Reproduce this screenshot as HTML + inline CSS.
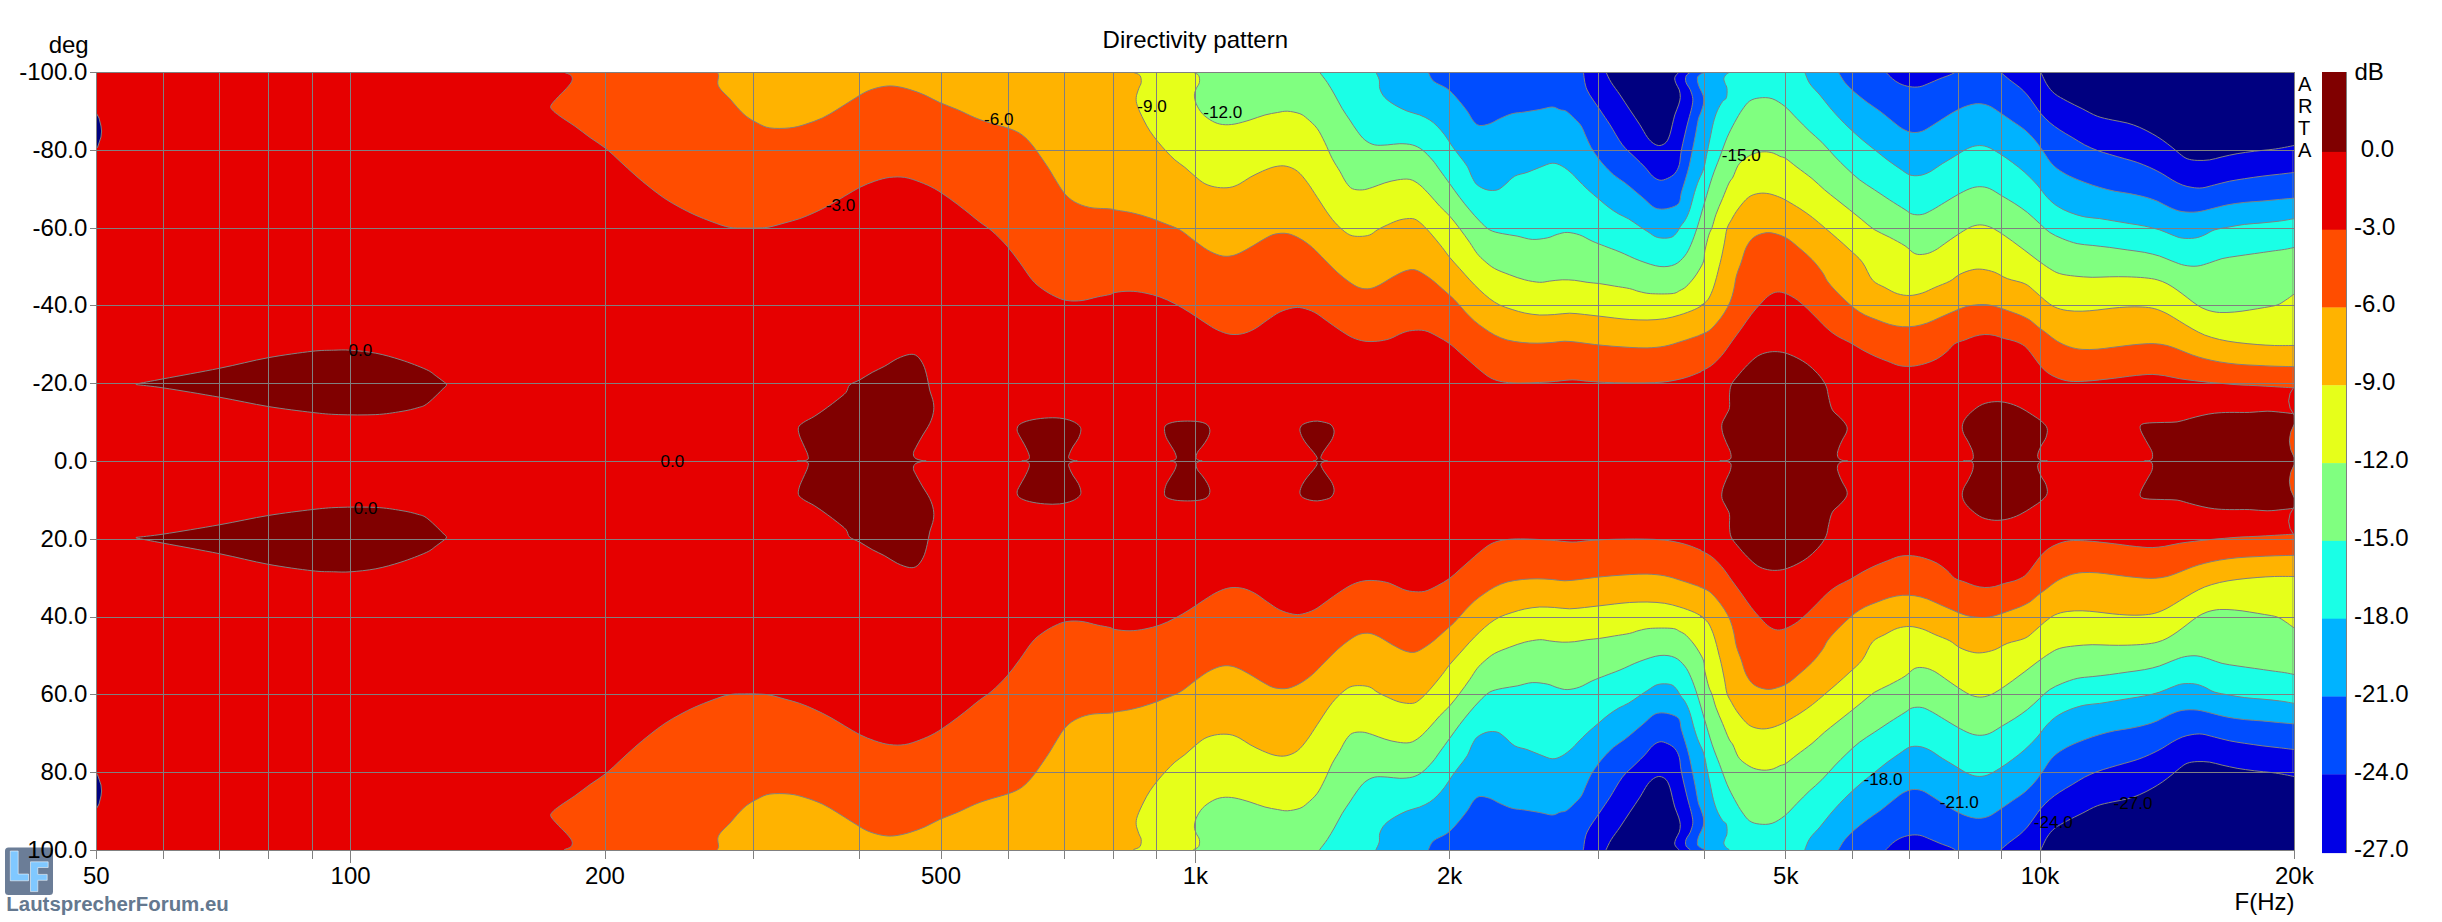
<!DOCTYPE html><html><head><meta charset="utf-8"><title>Directivity pattern</title><style>html,body{margin:0;padding:0;background:#fff;}body{width:2442px;height:922px;overflow:hidden;position:relative;font-family:"Liberation Sans",sans-serif;}</style></head><body>
<svg width="2442" height="922" viewBox="0 0 2442 922" style="position:absolute;left:0;top:0">
<defs><clipPath id="pc"><rect x="96.5" y="72.5" width="2198.0" height="778.0"/></clipPath></defs>
<rect x="0" y="0" width="2442" height="922" fill="#fff"/>
<rect x="96.5" y="72.5" width="2198.0" height="778.0" fill="#e60000"/>
<g clip-path="url(#pc)">
<path d="M564.5 60L564.5 72.5C565.6 73.0 570.0 74.0 571.2 75.5C572.4 77.0 572.7 79.0 571.9 81.2C571.1 83.4 568.0 86.6 566.2 88.7C564.4 90.8 563.7 91.0 561.2 93.7C558.7 96.4 552.7 102.3 551.2 105C549.8 107.7 551.0 108.1 552.5 110C554.0 111.9 556.3 113.5 560 116.2C563.7 118.9 569.9 122.7 574.9 126.2C579.9 129.7 584.7 133.7 589.9 137.4C595.1 141.2 601.2 144.7 606.2 148.7C611.2 152.7 615.1 156.8 619.9 161.2C624.7 165.6 629.9 170.5 634.9 174.9C639.9 179.3 644.9 183.5 649.9 187.4C654.9 191.3 659.9 195.3 664.9 198.6C669.9 201.9 674.9 204.7 679.9 207.4C684.9 210.1 689.5 212.5 694.9 214.9C700.3 217.3 706.5 219.8 712.3 221.9C718.1 224.0 724.4 226.4 729.8 227.4C735.2 228.4 739.8 228.0 744.8 228.1C749.8 228.2 755.6 228.1 759.8 227.9C764.0 227.7 765.6 227.7 769.8 226.9C774.0 226.1 779.8 224.3 784.8 222.9C789.8 221.5 794.8 220.3 799.8 218.6C804.8 216.8 809.8 214.7 814.8 212.4C819.8 210.1 824.8 207.6 829.8 204.9C834.8 202.2 839.7 199.0 844.7 196.1C849.7 193.2 854.7 189.9 859.7 187.4C864.7 184.9 869.7 182.9 874.7 181.2C879.7 179.5 884.7 178.0 889.7 177.4C894.7 176.8 899.7 176.7 904.7 177.4C909.7 178.2 914.7 180.0 919.7 181.9C924.7 183.8 929.7 185.9 934.7 188.7C939.7 191.5 944.7 195.1 949.7 198.6C954.7 202.1 959.7 206.0 964.7 209.9C969.7 213.8 975.0 218.4 979.6 221.9C984.2 225.4 987.5 227.1 992.1 231.1C996.7 235.1 1002.5 240.9 1007.1 246.1C1011.7 251.3 1015.4 256.7 1019.6 262.3C1023.8 267.9 1028.3 275.4 1032.1 279.8C1035.8 284.2 1038.3 286.0 1042.1 288.7C1045.8 291.4 1050.4 294.2 1054.6 296.2C1058.8 298.2 1062.5 299.8 1067.1 300.5C1071.7 301.2 1077.1 301.1 1082.1 300.5C1087.1 299.9 1092.4 298.0 1097.1 297C1101.8 296.0 1107.0 295.2 1110 294.5C1113.0 293.8 1111.7 293.1 1115 292.5C1118.3 291.9 1125.0 291.1 1130 291.2C1135.0 291.3 1140.0 292.0 1145 293C1150.0 294.0 1155.0 295.2 1160 297C1165.0 298.8 1169.9 301.1 1174.9 303.7C1179.9 306.3 1184.9 309.4 1189.9 312.5C1194.9 315.6 1200.3 319.6 1204.9 322.5C1209.5 325.4 1213.2 328.1 1217.4 330C1221.6 331.9 1225.7 333.6 1229.9 334.2C1234.1 334.8 1238.2 334.6 1242.4 333.7C1246.6 332.8 1250.7 331.0 1254.9 328.7C1259.1 326.4 1263.2 322.8 1267.4 320C1271.6 317.2 1275.7 314.0 1279.9 312C1284.1 310.0 1288.7 308.7 1292.4 308C1296.1 307.3 1298.6 307.2 1302.3 308C1306.0 308.8 1310.6 310.3 1314.8 312.5C1319.0 314.7 1323.1 318.3 1327.3 321.2C1331.5 324.1 1335.6 327.3 1339.8 330C1344.0 332.7 1348.1 335.6 1352.3 337.5C1356.5 339.4 1360.6 340.6 1364.8 341.2C1369.0 341.8 1373.1 341.6 1377.3 341.2C1381.5 340.8 1385.6 340.1 1389.8 338.7C1394.0 337.3 1398.5 334.4 1402.3 333C1406.0 331.6 1408.5 330.9 1412.3 330.5C1416.0 330.1 1420.6 329.8 1424.8 330.7C1429.0 331.6 1433.0 334.0 1437.2 336.2C1441.4 338.4 1446.0 341.0 1449.7 343.7C1453.5 346.4 1456.4 349.5 1459.7 352.4C1463.0 355.3 1466.4 358.3 1469.7 361.2C1473.0 364.1 1476.4 367.2 1479.7 369.9C1483.0 372.6 1486.4 375.5 1489.7 377.4C1493.0 379.3 1496.0 380.3 1499.7 381.2C1503.5 382.1 1507.2 382.6 1512.2 382.9C1517.2 383.2 1523.5 383.1 1529.7 382.9C1536.0 382.7 1542.6 382.4 1549.7 381.9C1556.8 381.4 1565.9 380.0 1572.1 379.9C1578.3 379.8 1581.7 380.8 1587.1 381.2C1592.5 381.6 1598.3 382.1 1604.6 382.4C1610.8 382.7 1617.9 382.8 1624.6 382.9C1631.3 383.0 1637.9 383.1 1644.6 382.9C1651.3 382.7 1657.9 382.7 1664.6 381.9C1671.3 381.1 1678.8 379.5 1684.6 377.9C1690.4 376.3 1697.0 373.4 1699.6 372.4C1702.2 371.4 1698.0 373.1 1700 371.9C1702.0 370.7 1707.9 368.1 1711.5 365.4C1715.1 362.6 1718.3 359.3 1721.7 355.4C1725.1 351.4 1728.4 346.3 1731.7 341.7C1735.0 337.1 1738.4 332.6 1741.7 328C1745.0 323.4 1748.2 318.4 1751.5 314.2C1754.8 310.0 1758.2 306.2 1761.2 303C1764.2 299.8 1766.7 297.0 1769.4 295.2C1772.1 293.4 1774.6 292.2 1777.4 292C1780.2 291.8 1782.9 292.4 1786.2 293.7C1789.5 295.0 1793.9 297.5 1797.4 300C1800.9 302.5 1804.1 305.6 1807.4 308.7C1810.7 311.8 1814.1 315.4 1817.4 318.7C1820.7 322.0 1824.1 325.8 1827.4 328.7C1830.7 331.6 1833.7 333.9 1837.4 336.2C1841.2 338.5 1845.7 340.2 1849.9 342.5C1854.1 344.8 1858.2 347.6 1862.4 349.9C1866.6 352.2 1870.7 354.3 1874.9 356.2C1879.1 358.1 1883.2 359.6 1887.4 361.2C1891.6 362.8 1895.8 364.9 1899.9 365.7C1904.1 366.5 1908.2 366.5 1912.3 366.2C1916.4 365.9 1920.6 364.9 1924.8 363.7C1929.0 362.4 1933.5 360.8 1937.3 358.7C1941.0 356.6 1944.4 353.7 1947.3 351.2C1950.2 348.7 1951.9 345.6 1954.8 343.7C1957.7 341.8 1961.5 341.2 1964.8 340C1968.1 338.8 1971.5 337.1 1974.8 336.2C1978.1 335.3 1981.5 334.6 1984.8 334.5C1988.1 334.4 1991.5 334.8 1994.8 335.5C1998.1 336.2 2001.5 337.8 2004.8 338.7C2008.1 339.6 2011.5 339.9 2014.8 341.2C2018.1 342.4 2021.9 343.9 2024.8 346.2C2027.7 348.5 2029.8 351.8 2032.3 354.9C2034.8 358.0 2037.2 362.0 2039.7 364.9C2042.2 367.8 2044.3 370.2 2047.2 372.4C2050.1 374.6 2053.4 376.4 2057.2 377.9C2060.9 379.4 2065.1 380.6 2069.7 381.2C2074.3 381.8 2079.7 381.4 2084.7 381.2C2089.7 381.0 2094.7 380.4 2099.7 379.9C2104.7 379.4 2109.7 378.8 2114.7 378.2C2119.7 377.6 2125.1 376.8 2129.7 376.2C2134.3 375.6 2138.4 375.2 2142.2 374.9C2145.9 374.6 2148.4 374.3 2152.2 374.4C2155.9 374.5 2160.1 375.0 2164.7 375.7C2169.3 376.4 2174.6 377.9 2179.6 378.7C2184.6 379.5 2189.6 380.1 2194.6 380.7C2199.6 381.3 2204.6 381.9 2209.6 382.4C2214.6 382.9 2219.6 383.3 2224.6 383.7C2229.6 384.1 2234.2 384.6 2239.6 384.9C2245.0 385.2 2251.3 385.4 2257.1 385.7C2262.9 386.0 2268.3 386.3 2274.6 386.7C2280.8 387.1 2291.3 387.7 2294.6 387.9L2300 387.9L2300 60Z" fill="#ff4d00"/>
<path d="M564.5 862L564.5 849.5C565.6 849.0 570.0 848.0 571.2 846.5C572.4 845.0 572.7 843.0 571.9 840.8C571.1 838.6 568.0 835.4 566.2 833.3C564.4 831.2 563.7 831.0 561.2 828.3C558.7 825.6 552.7 819.7 551.2 817C549.8 814.3 551.0 813.9 552.5 812C554.0 810.1 556.3 808.5 560 805.8C563.7 803.1 569.9 799.3 574.9 795.8C579.9 792.3 584.7 788.4 589.9 784.6C595.1 780.9 601.2 777.3 606.2 773.3C611.2 769.3 615.1 765.2 619.9 760.8C624.7 756.4 629.9 751.5 634.9 747.1C639.9 742.7 644.9 738.6 649.9 734.6C654.9 730.6 659.9 726.7 664.9 723.4C669.9 720.1 674.9 717.3 679.9 714.6C684.9 711.9 689.5 709.5 694.9 707.1C700.3 704.7 706.5 702.2 712.3 700.1C718.1 698.0 724.4 695.6 729.8 694.6C735.2 693.6 739.8 694.0 744.8 693.9C749.8 693.8 755.6 693.9 759.8 694.1C764.0 694.3 765.6 694.3 769.8 695.1C774.0 695.9 779.8 697.7 784.8 699.1C789.8 700.5 794.8 701.6 799.8 703.4C804.8 705.1 809.8 707.3 814.8 709.6C819.8 711.9 824.8 714.4 829.8 717.1C834.8 719.8 839.7 723.0 844.7 725.9C849.7 728.8 854.7 732.1 859.7 734.6C864.7 737.1 869.7 739.1 874.7 740.8C879.7 742.5 884.7 744.0 889.7 744.6C894.7 745.2 899.7 745.4 904.7 744.6C909.7 743.9 914.7 742.0 919.7 740.1C924.7 738.2 929.7 736.1 934.7 733.3C939.7 730.5 944.7 726.9 949.7 723.4C954.7 719.9 959.7 716.0 964.7 712.1C969.7 708.2 975.0 703.6 979.6 700.1C984.2 696.6 987.5 694.9 992.1 690.9C996.7 686.9 1002.5 681.1 1007.1 675.9C1011.7 670.7 1015.4 665.3 1019.6 659.7C1023.8 654.1 1028.3 646.6 1032.1 642.2C1035.8 637.8 1038.3 636.0 1042.1 633.3C1045.8 630.6 1050.4 627.8 1054.6 625.8C1058.8 623.8 1062.5 622.2 1067.1 621.5C1071.7 620.8 1077.1 620.9 1082.1 621.5C1087.1 622.1 1092.4 624.0 1097.1 625C1101.8 626.0 1107.0 626.8 1110 627.5C1113.0 628.2 1111.7 629.0 1115 629.5C1118.3 630.0 1125.0 630.9 1130 630.8C1135.0 630.7 1140.0 630.0 1145 629C1150.0 628.0 1155.0 626.8 1160 625C1165.0 623.2 1169.9 620.9 1174.9 618.3C1179.9 615.7 1184.9 612.6 1189.9 609.5C1194.9 606.4 1200.3 602.4 1204.9 599.5C1209.5 596.6 1213.2 594.0 1217.4 592C1221.6 590.0 1225.7 588.4 1229.9 587.8C1234.1 587.2 1238.2 587.4 1242.4 588.3C1246.6 589.2 1250.7 591.0 1254.9 593.3C1259.1 595.6 1263.2 599.2 1267.4 602C1271.6 604.8 1275.7 608.0 1279.9 610C1284.1 612.0 1288.7 613.3 1292.4 614C1296.1 614.7 1298.6 614.8 1302.3 614C1306.0 613.2 1310.6 611.7 1314.8 609.5C1319.0 607.3 1323.1 603.7 1327.3 600.8C1331.5 597.9 1335.6 594.7 1339.8 592C1344.0 589.3 1348.1 586.4 1352.3 584.5C1356.5 582.6 1360.6 581.4 1364.8 580.8C1369.0 580.2 1373.1 580.4 1377.3 580.8C1381.5 581.2 1385.6 581.9 1389.8 583.3C1394.0 584.7 1398.5 587.6 1402.3 589C1406.0 590.4 1408.5 591.1 1412.3 591.5C1416.0 591.9 1420.6 592.2 1424.8 591.3C1429.0 590.3 1433.0 588.0 1437.2 585.8C1441.4 583.6 1446.0 581.0 1449.7 578.3C1453.5 575.6 1456.4 572.5 1459.7 569.6C1463.0 566.7 1466.4 563.7 1469.7 560.8C1473.0 557.9 1476.4 554.8 1479.7 552.1C1483.0 549.4 1486.4 546.5 1489.7 544.6C1493.0 542.7 1496.0 541.7 1499.7 540.8C1503.5 539.9 1507.2 539.4 1512.2 539.1C1517.2 538.8 1523.5 538.9 1529.7 539.1C1536.0 539.3 1542.6 539.6 1549.7 540.1C1556.8 540.6 1565.9 542.0 1572.1 542.1C1578.3 542.2 1581.7 541.2 1587.1 540.8C1592.5 540.4 1598.3 539.9 1604.6 539.6C1610.8 539.3 1617.9 539.2 1624.6 539.1C1631.3 539.0 1637.9 538.9 1644.6 539.1C1651.3 539.3 1657.9 539.3 1664.6 540.1C1671.3 540.9 1678.8 542.5 1684.6 544.1C1690.4 545.7 1697.0 548.6 1699.6 549.6C1702.2 550.6 1698.0 548.9 1700 550.1C1702.0 551.3 1707.9 553.9 1711.5 556.6C1715.1 559.4 1718.3 562.7 1721.7 566.6C1725.1 570.5 1728.4 575.7 1731.7 580.3C1735.0 584.9 1738.4 589.4 1741.7 594C1745.0 598.6 1748.2 603.6 1751.5 607.8C1754.8 612.0 1758.2 615.8 1761.2 619C1764.2 622.2 1766.7 625.0 1769.4 626.8C1772.1 628.6 1774.6 629.8 1777.4 630C1780.2 630.2 1782.9 629.6 1786.2 628.3C1789.5 627.0 1793.9 624.5 1797.4 622C1800.9 619.5 1804.1 616.4 1807.4 613.3C1810.7 610.2 1814.1 606.6 1817.4 603.3C1820.7 600.0 1824.1 596.2 1827.4 593.3C1830.7 590.4 1833.7 588.1 1837.4 585.8C1841.2 583.5 1845.7 581.8 1849.9 579.5C1854.1 577.2 1858.2 574.4 1862.4 572.1C1866.6 569.8 1870.7 567.7 1874.9 565.8C1879.1 563.9 1883.2 562.4 1887.4 560.8C1891.6 559.2 1895.8 557.1 1899.9 556.3C1904.1 555.5 1908.2 555.5 1912.3 555.8C1916.4 556.1 1920.6 557.0 1924.8 558.3C1929.0 559.5 1933.5 561.2 1937.3 563.3C1941.0 565.4 1944.4 568.3 1947.3 570.8C1950.2 573.3 1951.9 576.4 1954.8 578.3C1957.7 580.2 1961.5 580.8 1964.8 582C1968.1 583.2 1971.5 584.9 1974.8 585.8C1978.1 586.7 1981.5 587.4 1984.8 587.5C1988.1 587.6 1991.5 587.2 1994.8 586.5C1998.1 585.8 2001.5 584.2 2004.8 583.3C2008.1 582.3 2011.5 582.0 2014.8 580.8C2018.1 579.5 2021.9 578.1 2024.8 575.8C2027.7 573.5 2029.8 570.2 2032.3 567.1C2034.8 564.0 2037.2 560.0 2039.7 557.1C2042.2 554.2 2044.3 551.8 2047.2 549.6C2050.1 547.4 2053.4 545.6 2057.2 544.1C2060.9 542.6 2065.1 541.3 2069.7 540.8C2074.3 540.2 2079.7 540.6 2084.7 540.8C2089.7 541.0 2094.7 541.6 2099.7 542.1C2104.7 542.6 2109.7 543.2 2114.7 543.8C2119.7 544.4 2125.1 545.2 2129.7 545.8C2134.3 546.3 2138.4 546.8 2142.2 547.1C2145.9 547.4 2148.4 547.7 2152.2 547.6C2155.9 547.5 2160.1 547.0 2164.7 546.3C2169.3 545.6 2174.6 544.1 2179.6 543.3C2184.6 542.5 2189.6 541.9 2194.6 541.3C2199.6 540.7 2204.6 540.1 2209.6 539.6C2214.6 539.1 2219.6 538.7 2224.6 538.3C2229.6 537.9 2234.2 537.4 2239.6 537.1C2245.0 536.8 2251.3 536.6 2257.1 536.3C2262.9 536.0 2268.3 535.7 2274.6 535.3C2280.8 534.9 2291.3 534.3 2294.6 534.1L2300 534.1L2300 862Z" fill="#ff4d00"/>
<path d="M717.3 60L717.3 72.5C717.5 73.0 718.5 73.6 718.6 75.5C718.7 77.4 717.4 81.3 717.8 83.7C718.2 86.1 719.1 87.5 721.1 90C723.1 92.5 727.1 95.8 729.8 98.7C732.5 101.6 734.6 104.6 737.3 107.5C740.0 110.4 742.8 113.6 746.1 116.2C749.4 118.8 753.3 121.0 757.3 123C761.2 125.0 764.4 127.1 769.8 127.9C775.2 128.7 784.0 128.5 789.8 127.9C795.6 127.3 799.4 126.2 804.8 124.5C810.2 122.8 816.9 120.5 822.3 118C827.7 115.5 832.2 112.5 837.2 109.5C842.2 106.5 847.2 103.0 852.2 100C857.2 97.0 862.2 93.4 867.2 91.2C872.2 89.0 877.6 87.5 882.2 86.7C886.8 85.9 890.1 85.7 894.7 86.2C899.3 86.7 904.7 88.0 909.7 89.5C914.7 91.0 919.7 92.8 924.7 95C929.7 97.2 934.3 100.1 939.7 102.5C945.1 104.9 951.4 107.0 957.2 109.5C963.0 112.0 969.6 115.4 974.6 117.5C979.6 119.6 981.3 120.1 987.1 122C992.9 123.9 1003.8 126.5 1009.6 128.7C1015.4 130.8 1018.4 132.2 1022.1 134.9C1025.8 137.6 1028.8 140.9 1032.1 144.9C1035.4 148.9 1039.2 154.5 1042.1 158.7C1045.0 162.9 1047.1 165.9 1049.6 169.9C1052.1 173.9 1054.6 178.5 1057.1 182.4C1059.6 186.3 1061.7 190.3 1064.6 193.6C1067.5 196.8 1070.4 199.6 1074.6 201.9C1078.8 204.2 1083.7 206.2 1089.6 207.4C1095.5 208.6 1105.8 208.5 1110 208.9C1114.2 209.3 1111.2 209.2 1115 209.9C1118.8 210.6 1126.7 211.6 1132.5 212.9C1138.3 214.2 1144.6 216.1 1150 217.9C1155.4 219.7 1160.0 221.6 1165 223.6C1170.0 225.6 1174.9 227.0 1179.9 229.9C1184.9 232.8 1190.3 237.8 1194.9 241.1C1199.5 244.4 1203.2 247.5 1207.4 249.9C1211.6 252.3 1216.2 254.4 1219.9 255.4C1223.7 256.4 1226.6 256.5 1229.9 256.1C1233.2 255.7 1236.2 254.6 1239.9 252.9C1243.7 251.2 1248.2 248.5 1252.4 246.1C1256.6 243.7 1261.2 240.6 1264.9 238.6C1268.7 236.6 1271.2 234.9 1274.9 234.1C1278.7 233.3 1283.2 232.8 1287.4 233.6C1291.6 234.3 1295.8 236.3 1299.9 238.6C1304.1 240.9 1308.2 243.9 1312.3 247.4C1316.4 250.9 1320.6 255.7 1324.8 259.9C1329.0 264.0 1333.1 268.6 1337.3 272.3C1341.5 276.0 1346.0 279.7 1349.8 282.3C1353.5 284.9 1356.5 286.8 1359.8 287.8C1363.1 288.9 1366.5 289.1 1369.8 288.6C1373.1 288.1 1376.0 286.7 1379.8 284.8C1383.5 282.9 1388.1 279.6 1392.3 277.3C1396.5 275.0 1401.0 272.4 1404.8 271.1C1408.5 269.9 1411.5 269.2 1414.8 269.8C1418.1 270.4 1421.7 272.9 1424.8 274.8C1427.9 276.7 1430.6 278.8 1433.5 281.1C1436.4 283.4 1438.7 285.6 1442.2 288.7C1445.7 291.8 1451.0 296.2 1454.7 300C1458.5 303.8 1461.4 307.7 1464.7 311.2C1468.0 314.7 1471.4 318.3 1474.7 321.2C1478.0 324.1 1481.4 326.4 1484.7 328.7C1488.0 331.0 1491.0 333.1 1494.7 335C1498.5 336.9 1502.6 338.8 1507.2 340C1511.8 341.2 1517.2 342.0 1522.2 342.5C1527.2 343.0 1532.2 343.2 1537.2 343.2C1542.2 343.2 1547.6 342.8 1552.2 342.5C1556.8 342.2 1560.1 341.2 1564.7 341.2C1569.3 341.2 1574.6 341.9 1579.6 342.5C1584.6 343.1 1589.2 343.9 1594.6 344.5C1600.0 345.1 1606.3 345.7 1612.1 346.2C1617.9 346.7 1623.8 347.1 1629.6 347.4C1635.4 347.7 1641.3 348.1 1647.1 347.9C1652.9 347.7 1658.8 347.3 1664.6 346.2C1670.4 345.1 1676.7 342.9 1682.1 341.2C1687.5 339.5 1694.1 337.2 1697.1 336.2C1700.1 335.2 1698.0 335.9 1700 335C1702.0 334.1 1706.2 332.7 1709 330.7C1711.8 328.7 1714.2 325.9 1716.7 323C1719.2 320.1 1722.0 316.6 1724.2 313C1726.5 309.4 1728.6 305.5 1730.2 301.7C1731.8 297.9 1732.8 293.6 1733.7 290C1734.6 286.4 1734.9 282.9 1735.5 280C1736.1 277.1 1736.5 275.2 1737.5 272.3C1738.5 269.4 1739.8 266.4 1741.2 262.3C1742.7 258.2 1744.1 251.6 1746.2 247.4C1748.3 243.2 1750.6 239.8 1753.7 237.4C1756.8 235.0 1761.5 233.5 1765 232.9C1768.5 232.3 1771.2 232.7 1774.9 233.6C1778.6 234.5 1783.2 236.1 1787.4 238.6C1791.6 241.1 1795.7 245.1 1799.9 248.6C1804.1 252.1 1808.7 255.9 1812.4 259.9C1816.2 263.8 1819.9 268.8 1822.4 272.3C1824.9 275.9 1825.3 278.2 1827.4 281.2C1829.5 284.1 1832.0 286.9 1834.9 290C1837.8 293.1 1841.6 296.9 1844.9 300C1848.2 303.1 1851.6 306.2 1854.9 308.7C1858.2 311.2 1861.2 313.1 1864.9 315C1868.7 316.9 1873.2 318.4 1877.4 320C1881.6 321.6 1885.8 323.4 1889.9 324.5C1894.1 325.6 1898.2 326.4 1902.3 326.7C1906.4 327.0 1910.6 326.8 1914.8 326.2C1919.0 325.6 1923.1 324.4 1927.3 323C1931.5 321.6 1935.6 319.3 1939.8 317.5C1944.0 315.7 1948.1 313.8 1952.3 312C1956.5 310.2 1961.0 308.2 1964.8 307C1968.5 305.8 1971.5 305.4 1974.8 305C1978.1 304.6 1981.5 304.3 1984.8 304.5C1988.1 304.7 1991.0 305.2 1994.8 306.2C1998.5 307.2 2003.1 309.0 2007.3 310.5C2011.5 312.0 2016.0 313.4 2019.8 315C2023.5 316.6 2026.9 318.1 2029.8 320C2032.7 321.9 2034.3 323.9 2037.2 326.2C2040.1 328.5 2043.9 331.2 2047.2 333.7C2050.5 336.2 2053.4 339.0 2057.2 341.2C2060.9 343.4 2065.5 345.5 2069.7 346.9C2073.9 348.3 2077.6 349.0 2082.2 349.4C2086.8 349.8 2092.2 349.5 2097.2 349.2C2102.2 348.9 2107.2 348.0 2112.2 347.4C2117.2 346.8 2122.2 346.1 2127.2 345.5C2132.2 344.9 2137.6 344.3 2142.2 344C2146.8 343.7 2150.5 343.4 2154.7 343.7C2158.8 343.9 2162.9 344.5 2167.1 345.5C2171.2 346.5 2175.4 348.3 2179.6 349.9C2183.8 351.5 2187.9 353.4 2192.1 354.9C2196.3 356.4 2200.0 357.5 2204.6 358.7C2209.2 359.9 2214.2 361.0 2219.6 361.9C2225.0 362.8 2230.8 363.6 2237.1 364.2C2243.3 364.8 2250.8 365.1 2257.1 365.4C2263.3 365.7 2268.3 366.0 2274.6 366.2C2280.8 366.4 2291.3 366.6 2294.6 366.7L2300 366.7L2300 60Z" fill="#ffb300"/>
<path d="M717.3 862L717.3 849.5C717.5 849.0 718.5 848.4 718.6 846.5C718.7 844.6 717.4 840.7 717.8 838.3C718.2 835.9 719.1 834.5 721.1 832C723.1 829.5 727.1 826.2 729.8 823.3C732.5 820.4 734.6 817.4 737.3 814.5C740.0 811.6 742.8 808.4 746.1 805.8C749.4 803.2 753.3 801.0 757.3 799C761.2 797.0 764.4 794.9 769.8 794.1C775.2 793.3 784.0 793.5 789.8 794.1C795.6 794.7 799.4 795.9 804.8 797.5C810.2 799.1 816.9 801.5 822.3 804C827.7 806.5 832.2 809.5 837.2 812.5C842.2 815.5 847.2 819.0 852.2 822C857.2 825.0 862.2 828.6 867.2 830.8C872.2 833.0 877.6 834.5 882.2 835.3C886.8 836.1 890.1 836.3 894.7 835.8C899.3 835.3 904.7 834.0 909.7 832.5C914.7 831.0 919.7 829.2 924.7 827C929.7 824.8 934.3 821.9 939.7 819.5C945.1 817.1 951.4 815.0 957.2 812.5C963.0 810.0 969.6 806.6 974.6 804.5C979.6 802.4 981.3 801.9 987.1 800C992.9 798.1 1003.8 795.4 1009.6 793.3C1015.4 791.1 1018.4 789.8 1022.1 787.1C1025.8 784.4 1028.8 781.1 1032.1 777.1C1035.4 773.1 1039.2 767.5 1042.1 763.3C1045.0 759.1 1047.1 756.0 1049.6 752.1C1052.1 748.2 1054.6 743.6 1057.1 739.6C1059.6 735.6 1061.7 731.6 1064.6 728.4C1067.5 725.1 1070.4 722.4 1074.6 720.1C1078.8 717.8 1083.7 715.8 1089.6 714.6C1095.5 713.4 1105.8 713.5 1110 713.1C1114.2 712.7 1111.2 712.8 1115 712.1C1118.8 711.4 1126.7 710.4 1132.5 709.1C1138.3 707.8 1144.6 705.9 1150 704.1C1155.4 702.3 1160.0 700.4 1165 698.4C1170.0 696.4 1174.9 695.0 1179.9 692.1C1184.9 689.2 1190.3 684.2 1194.9 680.9C1199.5 677.6 1203.2 674.5 1207.4 672.1C1211.6 669.7 1216.2 667.6 1219.9 666.6C1223.7 665.6 1226.6 665.5 1229.9 665.9C1233.2 666.3 1236.2 667.4 1239.9 669.1C1243.7 670.8 1248.2 673.5 1252.4 675.9C1256.6 678.3 1261.2 681.4 1264.9 683.4C1268.7 685.4 1271.2 687.1 1274.9 687.9C1278.7 688.7 1283.2 689.1 1287.4 688.4C1291.6 687.6 1295.8 685.7 1299.9 683.4C1304.1 681.1 1308.2 678.1 1312.3 674.6C1316.4 671.1 1320.6 666.2 1324.8 662.1C1329.0 658.0 1333.1 653.4 1337.3 649.7C1341.5 646.0 1346.0 642.3 1349.8 639.7C1353.5 637.1 1356.5 635.2 1359.8 634.2C1363.1 633.2 1366.5 632.9 1369.8 633.4C1373.1 633.9 1376.0 635.3 1379.8 637.2C1383.5 639.1 1388.1 642.4 1392.3 644.7C1396.5 647.0 1401.0 649.6 1404.8 650.9C1408.5 652.1 1411.5 652.8 1414.8 652.2C1418.1 651.6 1421.7 649.1 1424.8 647.2C1427.9 645.3 1430.6 643.2 1433.5 640.9C1436.4 638.6 1438.7 636.4 1442.2 633.3C1445.7 630.1 1451.0 625.8 1454.7 622C1458.5 618.2 1461.4 614.3 1464.7 610.8C1468.0 607.3 1471.4 603.7 1474.7 600.8C1478.0 597.9 1481.4 595.6 1484.7 593.3C1488.0 591.0 1491.0 588.9 1494.7 587C1498.5 585.1 1502.6 583.2 1507.2 582C1511.8 580.8 1517.2 580.0 1522.2 579.5C1527.2 579.0 1532.2 578.8 1537.2 578.8C1542.2 578.8 1547.6 579.2 1552.2 579.5C1556.8 579.8 1560.1 580.8 1564.7 580.8C1569.3 580.8 1574.6 580.0 1579.6 579.5C1584.6 579.0 1589.2 578.1 1594.6 577.5C1600.0 576.9 1606.3 576.3 1612.1 575.8C1617.9 575.3 1623.8 574.9 1629.6 574.6C1635.4 574.3 1641.3 573.9 1647.1 574.1C1652.9 574.3 1658.8 574.7 1664.6 575.8C1670.4 576.9 1676.7 579.1 1682.1 580.8C1687.5 582.5 1694.1 584.8 1697.1 585.8C1700.1 586.8 1698.0 586.1 1700 587C1702.0 587.9 1706.2 589.3 1709 591.3C1711.8 593.3 1714.2 596.0 1716.7 599C1719.2 602.0 1722.0 605.5 1724.2 609C1726.5 612.5 1728.6 616.5 1730.2 620.3C1731.8 624.1 1732.8 628.4 1733.7 632C1734.6 635.6 1734.9 639.0 1735.5 642C1736.1 645.0 1736.5 646.8 1737.5 649.7C1738.5 652.7 1739.8 655.6 1741.2 659.7C1742.7 663.9 1744.1 670.5 1746.2 674.6C1748.3 678.8 1750.6 682.2 1753.7 684.6C1756.8 687.0 1761.5 688.5 1765 689.1C1768.5 689.7 1771.2 689.4 1774.9 688.4C1778.6 687.4 1783.2 685.9 1787.4 683.4C1791.6 680.9 1795.7 676.9 1799.9 673.4C1804.1 669.9 1808.7 666.0 1812.4 662.1C1816.2 658.2 1819.9 653.2 1822.4 649.7C1824.9 646.2 1825.3 643.8 1827.4 640.8C1829.5 637.8 1832.0 635.1 1834.9 632C1837.8 628.9 1841.6 625.1 1844.9 622C1848.2 618.9 1851.6 615.8 1854.9 613.3C1858.2 610.8 1861.2 608.9 1864.9 607C1868.7 605.1 1873.2 603.6 1877.4 602C1881.6 600.4 1885.8 598.6 1889.9 597.5C1894.1 596.4 1898.2 595.6 1902.3 595.3C1906.4 595.0 1910.6 595.2 1914.8 595.8C1919.0 596.4 1923.1 597.5 1927.3 599C1931.5 600.5 1935.6 602.7 1939.8 604.5C1944.0 606.3 1948.1 608.2 1952.3 610C1956.5 611.8 1961.0 613.8 1964.8 615C1968.5 616.2 1971.5 616.6 1974.8 617C1978.1 617.4 1981.5 617.7 1984.8 617.5C1988.1 617.3 1991.0 616.8 1994.8 615.8C1998.5 614.8 2003.1 613.0 2007.3 611.5C2011.5 610.0 2016.0 608.6 2019.8 607C2023.5 605.4 2026.9 603.9 2029.8 602C2032.7 600.1 2034.3 598.1 2037.2 595.8C2040.1 593.5 2043.9 590.8 2047.2 588.3C2050.5 585.8 2053.4 583.0 2057.2 580.8C2060.9 578.6 2065.5 576.5 2069.7 575.1C2073.9 573.7 2077.6 573.0 2082.2 572.6C2086.8 572.2 2092.2 572.5 2097.2 572.8C2102.2 573.1 2107.2 574.0 2112.2 574.6C2117.2 575.2 2122.2 575.9 2127.2 576.5C2132.2 577.1 2137.6 577.7 2142.2 578C2146.8 578.3 2150.5 578.5 2154.7 578.3C2158.8 578.0 2162.9 577.5 2167.1 576.5C2171.2 575.5 2175.4 573.7 2179.6 572.1C2183.8 570.5 2187.9 568.6 2192.1 567.1C2196.3 565.6 2200.0 564.5 2204.6 563.3C2209.2 562.1 2214.2 561.0 2219.6 560.1C2225.0 559.2 2230.8 558.4 2237.1 557.8C2243.3 557.2 2250.8 556.9 2257.1 556.6C2263.3 556.3 2268.3 556.0 2274.6 555.8C2280.8 555.6 2291.3 555.4 2294.6 555.3L2300 555.3L2300 862Z" fill="#ffb300"/>
<path d="M1133.7 60L1133.7 72.5C1134.8 73.0 1138.8 73.8 1140 75.5C1141.2 77.2 1141.4 80.3 1141.2 82.5C1141.0 84.7 1139.5 86.2 1138.7 88.7C1137.9 91.2 1136.4 94.6 1136.2 97.5C1136.0 100.4 1136.2 102.5 1137.5 106.2C1138.8 110.0 1141.6 115.8 1143.7 120C1145.8 124.2 1147.7 127.7 1150 131.2C1152.3 134.7 1154.8 137.9 1157.5 141.2C1160.2 144.5 1163.3 148.1 1166.2 151.2C1169.1 154.3 1171.8 157.2 1174.9 159.9C1178.0 162.6 1181.6 164.7 1184.9 167.4C1188.2 170.1 1191.6 173.5 1194.9 176.2C1198.2 178.9 1201.2 181.8 1204.9 183.7C1208.7 185.6 1213.2 186.8 1217.4 187.4C1221.6 188.0 1226.2 188.0 1229.9 187.4C1233.7 186.8 1236.6 185.4 1239.9 183.7C1243.2 182.0 1246.2 179.5 1249.9 177.4C1253.7 175.3 1258.2 173.0 1262.4 171.2C1266.6 169.4 1271.0 167.5 1274.9 166.7C1278.9 165.9 1282.3 165.4 1286.1 166.2C1289.8 166.9 1293.9 168.5 1297.4 171.2C1300.9 173.9 1304.0 178.0 1307.3 182.4C1310.6 186.8 1313.5 191.8 1317.3 197.4C1321.0 203.0 1326.0 211.1 1329.8 216.1C1333.5 221.1 1336.5 224.3 1339.8 227.4C1343.1 230.5 1346.5 233.4 1349.8 234.9C1353.1 236.4 1356.5 236.4 1359.8 236.4C1363.1 236.4 1366.9 236.0 1369.8 234.9C1372.7 233.8 1374.4 231.6 1377.3 229.9C1380.2 228.2 1383.5 226.6 1387.3 224.9C1391.0 223.2 1395.6 221.0 1399.8 219.9C1404.0 218.8 1409.0 218.2 1412.3 218.6C1415.6 219.0 1416.9 220.1 1419.8 222.4C1422.7 224.7 1426.1 228.2 1429.8 232.4C1433.5 236.6 1438.9 243.2 1442.2 247.4C1445.5 251.6 1446.8 253.9 1449.7 257.4C1452.6 260.9 1456.4 264.9 1459.7 268.6C1463.0 272.3 1466.4 276.2 1469.7 279.8C1473.0 283.4 1476.4 286.9 1479.7 290C1483.0 293.1 1486.4 296.2 1489.7 298.7C1493.0 301.2 1496.0 303.2 1499.7 305C1503.5 306.8 1508.0 308.2 1512.2 309.5C1516.4 310.8 1520.1 312.1 1524.7 313C1529.3 313.9 1534.7 314.8 1539.7 315C1544.7 315.2 1549.7 314.8 1554.7 314.5C1559.7 314.2 1564.6 313.2 1569.6 313.2C1574.6 313.2 1579.6 314.0 1584.6 314.5C1589.6 315.0 1594.6 315.6 1599.6 316.2C1604.6 316.8 1609.6 317.4 1614.6 318C1619.6 318.6 1624.2 319.2 1629.6 319.5C1635.0 319.8 1641.3 320.1 1647.1 320C1652.9 319.9 1659.2 319.5 1664.6 318.7C1670.0 317.9 1674.6 316.5 1679.6 315C1684.6 313.5 1690.4 311.4 1694.6 309.5C1698.8 307.6 1703.6 304.3 1704.5 303.7C1705.4 303.1 1700.0 306.1 1700 306C1700.0 305.9 1703.0 304.3 1704.5 303C1706.0 301.7 1707.5 300.5 1709 298C1710.5 295.5 1712.0 291.6 1713.3 288.2C1714.5 284.8 1715.5 281.0 1716.5 277.4C1717.5 273.8 1718.4 269.6 1719.2 266.5C1720.0 263.4 1720.3 262.4 1721.2 258.5C1722.1 254.6 1723.4 247.9 1724.4 242.9C1725.4 237.9 1725.8 232.5 1727 228.6C1728.2 224.7 1729.8 222.8 1731.6 219.5C1733.4 216.2 1735.3 212.7 1738.1 209C1740.9 205.3 1745.0 199.9 1748.5 197.3C1752.0 194.7 1755.4 194.0 1758.9 193.4C1762.4 192.8 1765.8 193.2 1769.3 193.8C1772.8 194.5 1776.9 196.1 1779.9 197.3C1782.9 198.5 1784.1 199.2 1787.4 201.1C1790.7 203.0 1795.7 205.9 1799.9 208.6C1804.1 211.3 1808.2 214.2 1812.4 217.4C1816.6 220.6 1820.7 224.4 1824.9 227.9C1829.1 231.4 1833.2 234.9 1837.4 238.6C1841.6 242.3 1845.7 245.9 1849.9 249.9C1854.1 253.9 1858.7 257.3 1862.4 262.3C1866.2 267.3 1868.7 275.8 1872.4 280C1876.2 284.2 1880.7 285.2 1884.9 287.5C1889.1 289.8 1893.2 292.4 1897.4 293.7C1901.6 295.0 1905.7 295.6 1909.8 295.5C1913.9 295.4 1918.1 294.3 1922.3 293C1926.5 291.7 1930.2 289.5 1934.8 287.5C1939.4 285.5 1945.6 283.4 1949.8 281.2C1954.0 279.0 1956.0 276.2 1959.8 274.3C1963.5 272.4 1968.5 270.6 1972.3 269.8C1976.0 269.0 1978.5 268.9 1982.3 269.3C1986.0 269.7 1990.6 270.8 1994.8 272.3C1999.0 273.9 2002.3 276.7 2007.3 278.6C2012.3 280.5 2020.2 281.6 2024.8 283.7C2029.4 285.8 2031.4 288.5 2034.7 291.2C2038.0 293.9 2041.4 297.4 2044.7 300C2048.0 302.6 2050.9 305.2 2054.7 307C2058.4 308.8 2062.6 309.8 2067.2 310.5C2071.8 311.2 2077.2 311.3 2082.2 311.2C2087.2 311.1 2092.2 310.5 2097.2 310C2102.2 309.5 2107.2 308.7 2112.2 308.2C2117.2 307.7 2122.2 307.2 2127.2 307C2132.2 306.8 2137.6 306.7 2142.2 307C2146.8 307.3 2150.5 307.6 2154.7 308.7C2158.8 309.8 2162.9 311.6 2167.1 313.7C2171.2 315.8 2175.4 318.7 2179.6 321.2C2183.8 323.7 2187.9 326.4 2192.1 328.7C2196.3 331.0 2200.0 333.2 2204.6 335C2209.2 336.8 2214.2 338.2 2219.6 339.5C2225.0 340.8 2230.8 341.7 2237.1 342.5C2243.3 343.3 2250.8 344.0 2257.1 344.5C2263.3 345.0 2268.3 345.3 2274.6 345.5C2280.8 345.7 2291.3 345.5 2294.6 345.5L2300 345.5L2300 60Z" fill="#e6ff1a"/>
<path d="M1133.7 862L1133.7 849.5C1134.8 849.0 1138.8 848.2 1140 846.5C1141.2 844.8 1141.4 841.7 1141.2 839.5C1141.0 837.3 1139.5 835.8 1138.7 833.3C1137.9 830.8 1136.4 827.4 1136.2 824.5C1136.0 821.6 1136.2 819.5 1137.5 815.8C1138.8 812.0 1141.6 806.2 1143.7 802C1145.8 797.8 1147.7 794.3 1150 790.8C1152.3 787.3 1154.8 784.1 1157.5 780.8C1160.2 777.5 1163.3 773.9 1166.2 770.8C1169.1 767.7 1171.8 764.8 1174.9 762.1C1178.0 759.4 1181.6 757.3 1184.9 754.6C1188.2 751.9 1191.6 748.5 1194.9 745.8C1198.2 743.1 1201.2 740.2 1204.9 738.3C1208.7 736.4 1213.2 735.2 1217.4 734.6C1221.6 734.0 1226.2 734.0 1229.9 734.6C1233.7 735.2 1236.6 736.6 1239.9 738.3C1243.2 740.0 1246.2 742.5 1249.9 744.6C1253.7 746.7 1258.2 749.0 1262.4 750.8C1266.6 752.6 1271.0 754.5 1274.9 755.3C1278.9 756.1 1282.3 756.5 1286.1 755.8C1289.8 755.0 1293.9 753.5 1297.4 750.8C1300.9 748.1 1304.0 744.0 1307.3 739.6C1310.6 735.2 1313.5 730.2 1317.3 724.6C1321.0 719.0 1326.0 710.9 1329.8 705.9C1333.5 700.9 1336.5 697.7 1339.8 694.6C1343.1 691.5 1346.5 688.6 1349.8 687.1C1353.1 685.6 1356.5 685.6 1359.8 685.6C1363.1 685.6 1366.9 686.0 1369.8 687.1C1372.7 688.2 1374.4 690.4 1377.3 692.1C1380.2 693.8 1383.5 695.4 1387.3 697.1C1391.0 698.8 1395.6 701.1 1399.8 702.1C1404.0 703.1 1409.0 703.8 1412.3 703.4C1415.6 703.0 1416.9 701.9 1419.8 699.6C1422.7 697.3 1426.1 693.8 1429.8 689.6C1433.5 685.4 1438.9 678.8 1442.2 674.6C1445.5 670.4 1446.8 668.1 1449.7 664.6C1452.6 661.1 1456.4 657.1 1459.7 653.4C1463.0 649.7 1466.4 645.8 1469.7 642.2C1473.0 638.6 1476.4 635.1 1479.7 632C1483.0 628.9 1486.4 625.8 1489.7 623.3C1493.0 620.8 1496.0 618.8 1499.7 617C1503.5 615.2 1508.0 613.8 1512.2 612.5C1516.4 611.2 1520.1 609.9 1524.7 609C1529.3 608.1 1534.7 607.2 1539.7 607C1544.7 606.8 1549.7 607.2 1554.7 607.5C1559.7 607.8 1564.6 608.8 1569.6 608.8C1574.6 608.8 1579.6 608.0 1584.6 607.5C1589.6 607.0 1594.6 606.4 1599.6 605.8C1604.6 605.2 1609.6 604.5 1614.6 604C1619.6 603.5 1624.2 602.8 1629.6 602.5C1635.0 602.2 1641.3 601.9 1647.1 602C1652.9 602.1 1659.2 602.5 1664.6 603.3C1670.0 604.1 1674.6 605.5 1679.6 607C1684.6 608.5 1690.4 610.6 1694.6 612.5C1698.8 614.4 1703.6 617.7 1704.5 618.3C1705.4 618.9 1700.0 615.9 1700 616C1700.0 616.1 1703.0 617.7 1704.5 619C1706.0 620.3 1707.5 621.5 1709 624C1710.5 626.5 1712.0 630.4 1713.3 633.8C1714.5 637.2 1715.5 641.0 1716.5 644.6C1717.5 648.2 1718.4 652.4 1719.2 655.5C1720.0 658.6 1720.3 659.6 1721.2 663.5C1722.1 667.4 1723.4 674.1 1724.4 679.1C1725.4 684.1 1725.8 689.5 1727 693.4C1728.2 697.3 1729.8 699.2 1731.6 702.5C1733.4 705.8 1735.3 709.3 1738.1 713C1740.9 716.7 1745.0 722.1 1748.5 724.7C1752.0 727.3 1755.4 728.0 1758.9 728.6C1762.4 729.2 1765.8 728.9 1769.3 728.2C1772.8 727.6 1776.9 725.9 1779.9 724.7C1782.9 723.5 1784.1 722.8 1787.4 720.9C1790.7 719.0 1795.7 716.1 1799.9 713.4C1804.1 710.7 1808.2 707.8 1812.4 704.6C1816.6 701.4 1820.7 697.6 1824.9 694.1C1829.1 690.6 1833.2 687.1 1837.4 683.4C1841.6 679.7 1845.7 676.0 1849.9 672.1C1854.1 668.2 1858.7 664.7 1862.4 659.7C1866.2 654.7 1868.7 646.2 1872.4 642C1876.2 637.8 1880.7 636.8 1884.9 634.5C1889.1 632.2 1893.2 629.6 1897.4 628.3C1901.6 627.0 1905.7 626.4 1909.8 626.5C1913.9 626.6 1918.1 627.7 1922.3 629C1926.5 630.3 1930.2 632.5 1934.8 634.5C1939.4 636.5 1945.6 638.6 1949.8 640.8C1954.0 643.0 1956.0 645.8 1959.8 647.7C1963.5 649.6 1968.5 651.4 1972.3 652.2C1976.0 653.0 1978.5 653.1 1982.3 652.7C1986.0 652.3 1990.6 651.2 1994.8 649.7C1999.0 648.2 2002.3 645.3 2007.3 643.4C2012.3 641.5 2020.2 640.4 2024.8 638.3C2029.4 636.2 2031.4 633.5 2034.7 630.8C2038.0 628.1 2041.4 624.6 2044.7 622C2048.0 619.4 2050.9 616.8 2054.7 615C2058.4 613.2 2062.6 612.2 2067.2 611.5C2071.8 610.8 2077.2 610.7 2082.2 610.8C2087.2 610.9 2092.2 611.5 2097.2 612C2102.2 612.5 2107.2 613.3 2112.2 613.8C2117.2 614.3 2122.2 614.8 2127.2 615C2132.2 615.2 2137.6 615.3 2142.2 615C2146.8 614.7 2150.5 614.4 2154.7 613.3C2158.8 612.2 2162.9 610.4 2167.1 608.3C2171.2 606.2 2175.4 603.3 2179.6 600.8C2183.8 598.3 2187.9 595.6 2192.1 593.3C2196.3 591.0 2200.0 588.8 2204.6 587C2209.2 585.2 2214.2 583.8 2219.6 582.5C2225.0 581.2 2230.8 580.3 2237.1 579.5C2243.3 578.7 2250.8 578.0 2257.1 577.5C2263.3 577.0 2268.3 576.7 2274.6 576.5C2280.8 576.3 2291.3 576.5 2294.6 576.5L2300 576.5L2300 862Z" fill="#e6ff1a"/>
<path d="M1193.7 60L1193.7 72.5C1194.5 73.0 1197.8 73.8 1198.7 75.5C1199.7 77.2 1199.8 80.3 1199.4 82.5C1199.0 84.7 1197.0 86.6 1196.2 88.7C1195.4 90.8 1194.4 92.5 1194.4 95C1194.4 97.5 1194.9 100.6 1196.2 103.7C1197.5 106.8 1199.7 110.8 1202.4 113.7C1205.1 116.6 1209.1 119.4 1212.4 121.2C1215.7 123.0 1218.7 124.0 1222.4 124.5C1226.2 125.0 1230.3 124.8 1234.9 124C1239.5 123.2 1244.9 121.5 1249.9 120C1254.9 118.5 1260.3 116.2 1264.9 115C1269.5 113.8 1273.7 113.1 1277.4 112.5C1281.2 111.9 1283.7 111.0 1287.4 111.2C1291.2 111.4 1296.6 112.5 1299.9 113.7C1303.2 115.0 1304.4 116.2 1307.3 118.7C1310.2 121.2 1314.4 124.7 1317.3 128.7C1320.2 132.6 1322.3 137.4 1324.8 142.4C1327.3 147.4 1329.8 153.9 1332.3 158.7C1334.8 163.5 1337.5 167.2 1339.8 171.2C1342.1 175.1 1344.0 179.5 1346.1 182.4C1348.2 185.3 1349.6 187.4 1352.3 188.7C1355.0 189.9 1359.0 190.1 1362.3 189.9C1365.6 189.7 1368.5 188.6 1372.3 187.4C1376.0 186.2 1380.6 184.2 1384.8 182.9C1389.0 181.7 1393.1 180.5 1397.3 179.9C1401.5 179.3 1406.0 178.6 1409.8 179.4C1413.5 180.2 1416.5 182.3 1419.8 184.9C1423.1 187.5 1426.5 191.4 1429.8 194.9C1433.1 198.4 1436.4 202.6 1439.7 206.1C1443.0 209.6 1446.4 212.3 1449.7 216.1C1453.0 219.8 1456.4 224.2 1459.7 228.6C1463.0 233.0 1466.8 238.2 1469.7 242.4C1472.6 246.6 1474.7 250.5 1477.2 253.6C1479.7 256.7 1481.8 258.6 1484.7 261.1C1487.6 263.6 1490.5 266.3 1494.7 268.6C1498.9 270.9 1504.7 272.9 1509.7 274.8C1514.7 276.7 1519.7 278.6 1524.7 279.8C1529.7 281.1 1535.5 282.1 1539.7 282.3C1543.9 282.5 1546.0 281.5 1549.7 281.1C1553.5 280.7 1558.1 279.9 1562.2 279.8C1566.3 279.7 1570.4 279.9 1574.6 280.3C1578.8 280.7 1582.9 281.8 1587.1 282.3C1591.3 282.9 1595.0 283.0 1599.6 283.6C1604.2 284.2 1609.6 285.3 1614.6 286.1C1619.6 286.9 1625.5 287.7 1629.6 288.6C1633.7 289.5 1635.5 290.7 1639 291.5C1642.5 292.3 1644.9 293.2 1650.4 293.6C1655.9 294.0 1667.1 294.1 1672 293.6C1676.9 293.1 1677.3 291.8 1679.7 290.6C1682.1 289.4 1683.9 288.7 1686.2 286.6C1688.5 284.5 1691.7 280.7 1693.8 278C1695.9 275.3 1697.4 273.0 1699 270.2C1700.6 267.4 1702.6 264.4 1703.6 261.1C1704.6 257.9 1704.0 255.0 1704.9 250.7C1705.8 246.4 1707.6 239.0 1708.8 235.1C1710.0 231.2 1710.9 230.8 1712.1 227.3C1713.3 223.8 1714.3 219.1 1716 214.3C1717.7 209.5 1720.3 203.8 1722.5 198.6C1724.7 193.4 1727.2 186.6 1729 183C1730.8 179.4 1731.5 179.9 1733 177C1734.5 174.1 1736.2 168.4 1738.1 165.4C1740.0 162.4 1742.0 160.9 1744.6 158.9C1747.2 156.9 1750.5 154.9 1753.7 153.7C1757.0 152.5 1760.8 151.9 1764.1 151.8C1767.3 151.7 1770.6 152.3 1773.2 153.1C1775.8 153.8 1777.8 155.4 1779.9 156.3C1782.0 157.2 1783.0 156.7 1785.8 158.5C1788.6 160.3 1792.6 163.9 1797 167.2C1801.4 170.5 1807.4 174.8 1812 178.5C1816.6 182.2 1820.2 186.2 1824.4 189.7C1828.6 193.2 1832.7 196.4 1836.9 199.7C1841.1 203.0 1845.2 206.3 1849.4 209.6C1853.6 212.9 1857.7 216.3 1861.8 219.6C1865.9 222.9 1869.7 226.7 1874.3 229.6C1878.9 232.5 1884.2 234.4 1889.3 237.1C1894.4 239.8 1900.8 243.1 1905 245.8C1909.2 248.6 1911.5 252.2 1914.8 253.6C1918.1 255.0 1921.5 254.6 1924.8 254.1C1928.1 253.6 1931.5 252.2 1934.8 250.4C1938.1 248.7 1941.0 246.2 1944.8 243.6C1948.5 241.0 1953.1 237.6 1957.3 234.9C1961.5 232.2 1966.0 229.1 1969.8 227.4C1973.5 225.7 1976.5 225.0 1979.8 224.9C1983.1 224.8 1986.5 225.7 1989.8 226.9C1993.1 228.2 1996.0 230.0 1999.8 232.4C2003.5 234.8 2008.1 238.1 2012.3 241.1C2016.5 244.1 2020.6 247.3 2024.8 250.4C2029.0 253.5 2033.1 256.9 2037.2 259.9C2041.3 262.9 2045.9 266.3 2049.7 268.6C2053.4 270.9 2055.5 272.4 2059.7 273.6C2063.9 274.9 2069.3 275.5 2074.7 276.1C2080.1 276.7 2086.4 277.2 2092.2 277.3C2098.0 277.4 2103.9 276.9 2109.7 276.8C2115.5 276.7 2121.4 276.6 2127.2 276.8C2133.0 277.0 2139.7 277.3 2144.7 277.8C2149.7 278.3 2153.5 278.8 2157.2 279.8C2160.9 280.8 2163.8 282.0 2167.1 283.7C2170.4 285.4 2173.8 287.7 2177.1 290C2180.4 292.3 2183.8 295.0 2187.1 297.5C2190.4 300.0 2193.8 302.9 2197.1 305C2200.4 307.1 2203.3 308.8 2207.1 310C2210.8 311.2 2215.0 312.2 2219.6 312.5C2224.2 312.8 2229.6 312.4 2234.6 312C2239.6 311.6 2244.6 310.8 2249.6 310C2254.6 309.2 2260.0 308.3 2264.6 307.5C2269.2 306.7 2273.6 306.2 2277.1 305C2280.6 303.8 2283.3 301.6 2285.8 300C2288.3 298.4 2290.6 296.6 2292.1 295.5C2293.6 294.4 2294.2 294.0 2294.6 293.7L2300 293.7L2300 60Z" fill="#80ff80"/>
<path d="M1193.7 862L1193.7 849.5C1194.5 849.0 1197.8 848.2 1198.7 846.5C1199.7 844.8 1199.8 841.7 1199.4 839.5C1199.0 837.3 1197.0 835.4 1196.2 833.3C1195.4 831.2 1194.4 829.5 1194.4 827C1194.4 824.5 1194.9 821.4 1196.2 818.3C1197.5 815.2 1199.7 811.2 1202.4 808.3C1205.1 805.4 1209.1 802.6 1212.4 800.8C1215.7 799.0 1218.7 798.0 1222.4 797.5C1226.2 797.0 1230.3 797.2 1234.9 798C1239.5 798.8 1244.9 800.5 1249.9 802C1254.9 803.5 1260.3 805.8 1264.9 807C1269.5 808.2 1273.7 808.9 1277.4 809.5C1281.2 810.1 1283.7 811.0 1287.4 810.8C1291.2 810.6 1296.6 809.5 1299.9 808.3C1303.2 807.0 1304.4 805.8 1307.3 803.3C1310.2 800.8 1314.4 797.2 1317.3 793.3C1320.2 789.3 1322.3 784.6 1324.8 779.6C1327.3 774.6 1329.8 768.1 1332.3 763.3C1334.8 758.5 1337.5 754.8 1339.8 750.8C1342.1 746.8 1344.0 742.5 1346.1 739.6C1348.2 736.7 1349.6 734.5 1352.3 733.3C1355.0 732.0 1359.0 731.9 1362.3 732.1C1365.6 732.3 1368.5 733.4 1372.3 734.6C1376.0 735.8 1380.6 737.9 1384.8 739.1C1389.0 740.4 1393.1 741.5 1397.3 742.1C1401.5 742.7 1406.0 743.4 1409.8 742.6C1413.5 741.8 1416.5 739.7 1419.8 737.1C1423.1 734.5 1426.5 730.6 1429.8 727.1C1433.1 723.6 1436.4 719.4 1439.7 715.9C1443.0 712.4 1446.4 709.6 1449.7 705.9C1453.0 702.1 1456.4 697.8 1459.7 693.4C1463.0 689.0 1466.8 683.8 1469.7 679.6C1472.6 675.4 1474.7 671.5 1477.2 668.4C1479.7 665.3 1481.8 663.4 1484.7 660.9C1487.6 658.4 1490.5 655.7 1494.7 653.4C1498.9 651.1 1504.7 649.1 1509.7 647.2C1514.7 645.3 1519.7 643.5 1524.7 642.2C1529.7 641.0 1535.5 639.9 1539.7 639.7C1543.9 639.5 1546.0 640.5 1549.7 640.9C1553.5 641.3 1558.1 642.1 1562.2 642.2C1566.3 642.3 1570.4 642.1 1574.6 641.7C1578.8 641.3 1582.9 640.2 1587.1 639.7C1591.3 639.2 1595.0 639.0 1599.6 638.4C1604.2 637.8 1609.6 636.7 1614.6 635.9C1619.6 635.1 1625.5 634.3 1629.6 633.4C1633.7 632.5 1635.5 631.3 1639 630.5C1642.5 629.7 1644.9 628.8 1650.4 628.4C1655.9 628.0 1667.1 627.9 1672 628.4C1676.9 628.9 1677.3 630.2 1679.7 631.4C1682.1 632.6 1683.9 633.3 1686.2 635.4C1688.5 637.5 1691.7 641.3 1693.8 644C1695.9 646.7 1697.4 649.0 1699 651.8C1700.6 654.6 1702.6 657.6 1703.6 660.9C1704.6 664.1 1704.0 667.0 1704.9 671.3C1705.8 675.6 1707.6 683.0 1708.8 686.9C1710.0 690.8 1710.9 691.2 1712.1 694.7C1713.3 698.2 1714.3 702.9 1716 707.7C1717.7 712.5 1720.3 718.2 1722.5 723.4C1724.7 728.6 1727.2 735.4 1729 739C1730.8 742.6 1731.5 742.1 1733 745C1734.5 747.9 1736.2 753.6 1738.1 756.6C1740.0 759.6 1742.0 761.2 1744.6 763.1C1747.2 765.0 1750.5 767.1 1753.7 768.3C1757.0 769.5 1760.8 770.1 1764.1 770.2C1767.3 770.3 1770.6 769.6 1773.2 768.9C1775.8 768.1 1777.8 766.6 1779.9 765.7C1782.0 764.8 1783.0 765.3 1785.8 763.5C1788.6 761.7 1792.6 758.1 1797 754.8C1801.4 751.5 1807.4 747.2 1812 743.5C1816.6 739.8 1820.2 735.8 1824.4 732.3C1828.6 728.8 1832.7 725.6 1836.9 722.3C1841.1 719.0 1845.2 715.7 1849.4 712.4C1853.6 709.1 1857.7 705.7 1861.8 702.4C1865.9 699.1 1869.7 695.3 1874.3 692.4C1878.9 689.5 1884.2 687.6 1889.3 684.9C1894.4 682.2 1900.8 679.0 1905 676.2C1909.2 673.5 1911.5 669.8 1914.8 668.4C1918.1 667.0 1921.5 667.4 1924.8 667.9C1928.1 668.4 1931.5 669.9 1934.8 671.6C1938.1 673.4 1941.0 675.8 1944.8 678.4C1948.5 681.0 1953.1 684.4 1957.3 687.1C1961.5 689.8 1966.0 692.9 1969.8 694.6C1973.5 696.3 1976.5 697.0 1979.8 697.1C1983.1 697.2 1986.5 696.4 1989.8 695.1C1993.1 693.9 1996.0 692.0 1999.8 689.6C2003.5 687.2 2008.1 683.9 2012.3 680.9C2016.5 677.9 2020.6 674.7 2024.8 671.6C2029.0 668.5 2033.1 665.1 2037.2 662.1C2041.3 659.1 2045.9 655.7 2049.7 653.4C2053.4 651.1 2055.5 649.6 2059.7 648.4C2063.9 647.1 2069.3 646.5 2074.7 645.9C2080.1 645.3 2086.4 644.8 2092.2 644.7C2098.0 644.6 2103.9 645.1 2109.7 645.2C2115.5 645.3 2121.4 645.4 2127.2 645.2C2133.0 645.0 2139.7 644.7 2144.7 644.2C2149.7 643.7 2153.5 643.2 2157.2 642.2C2160.9 641.2 2163.8 640.0 2167.1 638.3C2170.4 636.6 2173.8 634.3 2177.1 632C2180.4 629.7 2183.8 627.0 2187.1 624.5C2190.4 622.0 2193.8 619.1 2197.1 617C2200.4 614.9 2203.3 613.2 2207.1 612C2210.8 610.8 2215.0 609.8 2219.6 609.5C2224.2 609.2 2229.6 609.6 2234.6 610C2239.6 610.4 2244.6 611.2 2249.6 612C2254.6 612.8 2260.0 613.7 2264.6 614.5C2269.2 615.3 2273.6 615.8 2277.1 617C2280.6 618.2 2283.3 620.4 2285.8 622C2288.3 623.6 2290.6 625.5 2292.1 626.5C2293.6 627.5 2294.2 628.0 2294.6 628.3L2300 628.3L2300 862Z" fill="#80ff80"/>
<path d="M1319.8 60L1319.8 72.5C1321.0 74.2 1324.8 78.8 1327.3 82.5C1329.8 86.2 1332.3 90.6 1334.8 95C1337.3 99.4 1339.8 104.5 1342.3 108.7C1344.8 112.9 1347.3 116.2 1349.8 120C1352.3 123.8 1354.8 127.9 1357.3 131.2C1359.8 134.5 1361.9 137.6 1364.8 139.9C1367.7 142.2 1371.0 144.1 1374.8 144.9C1378.5 145.7 1383.1 145.1 1387.3 144.9C1391.5 144.7 1395.6 143.7 1399.8 143.7C1404.0 143.7 1408.5 143.9 1412.3 144.9C1416.0 145.9 1419.0 147.4 1422.3 149.9C1425.6 152.4 1429.4 156.6 1432.3 159.9C1435.2 163.2 1436.8 165.9 1439.7 169.9C1442.6 173.9 1446.4 179.1 1449.7 183.7C1453.0 188.3 1456.4 193.0 1459.7 197.4C1463.0 201.8 1466.4 206.0 1469.7 209.9C1473.0 213.8 1476.4 217.8 1479.7 221.1C1483.0 224.4 1486.0 227.8 1489.7 229.9C1493.5 232.0 1497.6 232.6 1502.2 233.6C1506.8 234.6 1512.2 235.1 1517.2 236.1C1522.2 237.1 1527.2 239.1 1532.2 239.4C1537.2 239.7 1543.0 238.7 1547.2 237.9C1551.4 237.1 1553.9 235.3 1557.2 234.4C1560.5 233.5 1563.4 232.3 1567.1 232.4C1570.8 232.5 1575.4 233.5 1579.6 234.9C1583.8 236.3 1587.9 239.2 1592.1 241.1C1596.3 243.0 1599.9 244.3 1604.6 246.1C1609.2 247.9 1614.1 249.6 1620 252C1625.9 254.4 1633.2 258.3 1639.9 260.7C1646.6 263.1 1654.1 265.9 1659.9 266.5C1665.7 267.1 1670.7 266.3 1674.8 264.5C1678.9 262.7 1682.1 259.1 1684.8 255.8C1687.5 252.5 1688.9 249.3 1691 244.5C1693.1 239.7 1695.0 234.2 1697.3 227.1C1699.6 220.0 1702.2 210.4 1704.7 202.1C1707.2 193.8 1709.7 184.7 1712.2 177.2C1714.7 169.7 1717.2 164.0 1719.7 157.3C1722.2 150.7 1724.7 143.1 1727.2 137.3C1729.7 131.5 1732.2 126.9 1734.7 122.3C1737.2 117.7 1739.6 113.4 1742.1 109.9C1744.6 106.4 1746.7 103.1 1749.6 101.1C1752.5 99.1 1755.8 98.3 1759.6 97.9C1763.3 97.5 1767.9 97.3 1772.1 98.7C1776.2 100.1 1780.3 102.8 1784.5 106.1C1788.7 109.4 1792.8 114.4 1797 118.6C1801.2 122.8 1805.3 127.1 1809.5 131.1C1813.7 135.1 1817.8 138.2 1821.9 142.3C1826.1 146.5 1830.2 151.6 1834.4 156C1838.6 160.4 1842.7 164.6 1846.9 168.5C1851.1 172.4 1854.8 176.2 1859.4 179.7C1864.0 183.2 1869.3 186.4 1874.3 189.7C1879.3 193.0 1884.2 196.4 1889.3 199.7C1894.4 203.0 1901.2 207.2 1905 209.6C1908.8 212.0 1909.4 213.3 1912.3 214.1C1915.2 214.9 1919.0 215.1 1922.3 214.4C1925.6 213.7 1928.5 211.9 1932.3 209.9C1936.0 207.9 1940.6 204.9 1944.8 202.4C1949.0 199.9 1953.1 197.2 1957.3 194.9C1961.5 192.6 1966.0 190.1 1969.8 188.7C1973.5 187.3 1976.5 186.7 1979.8 186.7C1983.1 186.7 1986.0 187.1 1989.8 188.7C1993.5 190.3 1998.1 193.6 2002.3 196.1C2006.5 198.6 2010.6 200.9 2014.8 203.6C2019.0 206.3 2023.1 209.1 2027.3 212.4C2031.5 215.7 2036.0 220.3 2039.7 223.6C2043.4 226.9 2045.9 229.9 2049.7 232.4C2053.4 234.9 2057.6 236.7 2062.2 238.6C2066.8 240.5 2072.2 242.5 2077.2 243.6C2082.2 244.7 2086.8 244.8 2092.2 245.4C2097.6 246.0 2103.9 246.7 2109.7 247.4C2115.5 248.2 2121.4 249.1 2127.2 249.9C2133.0 250.7 2139.3 251.4 2144.7 252.4C2150.1 253.4 2155.1 254.7 2159.7 256.1C2164.3 257.6 2167.9 259.6 2172.1 261.1C2176.2 262.6 2180.4 264.5 2184.6 265.3C2188.8 266.1 2192.9 266.5 2197.1 266.1C2201.3 265.7 2205.4 264.1 2209.6 262.8C2213.8 261.6 2217.5 259.7 2222.1 258.6C2226.7 257.5 2231.7 256.9 2237.1 256.1C2242.5 255.3 2248.8 254.4 2254.6 253.6C2260.4 252.8 2267.1 251.8 2272.1 251.1C2277.1 250.4 2280.8 250.0 2284.6 249.4C2288.3 248.8 2292.9 247.7 2294.6 247.4L2300 247.4L2300 60Z" fill="#1affe6"/>
<path d="M1319.8 862L1319.8 849.5C1321.0 847.8 1324.8 843.2 1327.3 839.5C1329.8 835.8 1332.3 831.4 1334.8 827C1337.3 822.6 1339.8 817.5 1342.3 813.3C1344.8 809.1 1347.3 805.8 1349.8 802C1352.3 798.2 1354.8 794.1 1357.3 790.8C1359.8 787.5 1361.9 784.4 1364.8 782.1C1367.7 779.8 1371.0 777.9 1374.8 777.1C1378.5 776.3 1383.1 776.9 1387.3 777.1C1391.5 777.3 1395.6 778.3 1399.8 778.3C1404.0 778.3 1408.5 778.1 1412.3 777.1C1416.0 776.1 1419.0 774.6 1422.3 772.1C1425.6 769.6 1429.4 765.4 1432.3 762.1C1435.2 758.8 1436.8 756.1 1439.7 752.1C1442.6 748.1 1446.4 742.9 1449.7 738.3C1453.0 733.7 1456.4 729.0 1459.7 724.6C1463.0 720.2 1466.4 716.1 1469.7 712.1C1473.0 708.1 1476.4 704.2 1479.7 700.9C1483.0 697.6 1486.0 694.2 1489.7 692.1C1493.5 690.0 1497.6 689.4 1502.2 688.4C1506.8 687.4 1512.2 686.9 1517.2 685.9C1522.2 684.9 1527.2 682.9 1532.2 682.6C1537.2 682.3 1543.0 683.3 1547.2 684.1C1551.4 684.9 1553.9 686.7 1557.2 687.6C1560.5 688.5 1563.4 689.7 1567.1 689.6C1570.8 689.5 1575.4 688.6 1579.6 687.1C1583.8 685.6 1587.9 682.8 1592.1 680.9C1596.3 679.0 1599.9 677.7 1604.6 675.9C1609.2 674.1 1614.1 672.4 1620 670C1625.9 667.6 1633.2 663.7 1639.9 661.3C1646.6 658.9 1654.1 656.1 1659.9 655.5C1665.7 654.9 1670.7 655.7 1674.8 657.5C1678.9 659.3 1682.1 662.9 1684.8 666.2C1687.5 669.5 1688.9 672.7 1691 677.5C1693.1 682.3 1695.0 687.8 1697.3 694.9C1699.6 702.0 1702.2 711.6 1704.7 719.9C1707.2 728.2 1709.7 737.3 1712.2 744.8C1714.7 752.3 1717.2 758.1 1719.7 764.7C1722.2 771.4 1724.7 778.9 1727.2 784.7C1729.7 790.5 1732.2 795.1 1734.7 799.7C1737.2 804.3 1739.6 808.6 1742.1 812.1C1744.6 815.6 1746.7 818.9 1749.6 820.9C1752.5 822.9 1755.8 823.7 1759.6 824.1C1763.3 824.5 1767.9 824.7 1772.1 823.3C1776.2 821.9 1780.3 819.2 1784.5 815.9C1788.7 812.6 1792.8 807.6 1797 803.4C1801.2 799.2 1805.3 794.8 1809.5 790.9C1813.7 787.0 1817.8 783.9 1821.9 779.7C1826.1 775.6 1830.2 770.4 1834.4 766C1838.6 761.6 1842.7 757.5 1846.9 753.5C1851.1 749.5 1854.8 745.8 1859.4 742.3C1864.0 738.8 1869.3 735.6 1874.3 732.3C1879.3 729.0 1884.2 725.6 1889.3 722.3C1894.4 719.0 1901.2 714.8 1905 712.4C1908.8 710.0 1909.4 708.7 1912.3 707.9C1915.2 707.1 1919.0 706.9 1922.3 707.6C1925.6 708.3 1928.5 710.1 1932.3 712.1C1936.0 714.1 1940.6 717.1 1944.8 719.6C1949.0 722.1 1953.1 724.8 1957.3 727.1C1961.5 729.4 1966.0 731.9 1969.8 733.3C1973.5 734.7 1976.5 735.3 1979.8 735.3C1983.1 735.3 1986.0 734.9 1989.8 733.3C1993.5 731.7 1998.1 728.4 2002.3 725.9C2006.5 723.4 2010.6 721.1 2014.8 718.4C2019.0 715.7 2023.1 712.9 2027.3 709.6C2031.5 706.3 2036.0 701.7 2039.7 698.4C2043.4 695.1 2045.9 692.1 2049.7 689.6C2053.4 687.1 2057.6 685.3 2062.2 683.4C2066.8 681.5 2072.2 679.5 2077.2 678.4C2082.2 677.3 2086.8 677.2 2092.2 676.6C2097.6 676.0 2103.9 675.4 2109.7 674.6C2115.5 673.9 2121.4 672.9 2127.2 672.1C2133.0 671.3 2139.3 670.6 2144.7 669.6C2150.1 668.6 2155.1 667.4 2159.7 665.9C2164.3 664.4 2167.9 662.4 2172.1 660.9C2176.2 659.4 2180.4 657.5 2184.6 656.7C2188.8 655.9 2192.9 655.5 2197.1 655.9C2201.3 656.3 2205.4 658.0 2209.6 659.2C2213.8 660.5 2217.5 662.3 2222.1 663.4C2226.7 664.5 2231.7 665.1 2237.1 665.9C2242.5 666.7 2248.8 667.6 2254.6 668.4C2260.4 669.2 2267.1 670.2 2272.1 670.9C2277.1 671.6 2280.8 672.0 2284.6 672.6C2288.3 673.2 2292.9 674.3 2294.6 674.6L2300 674.6L2300 862Z" fill="#1affe6"/>
<path d="M1376 60L1376 72.5C1376.5 73.8 1378.7 77.3 1379.3 80C1379.9 82.7 1378.9 85.8 1379.8 88.7C1380.7 91.6 1382.3 94.8 1384.8 97.5C1387.3 100.2 1391.0 102.7 1394.8 105C1398.5 107.3 1403.1 109.5 1407.3 111.2C1411.5 112.9 1416.0 113.5 1419.8 115C1423.5 116.5 1426.9 118.1 1429.8 120C1432.7 121.9 1434.7 123.7 1437.2 126.2C1439.7 128.7 1442.2 131.6 1444.7 134.9C1447.2 138.2 1449.7 142.6 1452.2 146.2C1454.7 149.8 1457.2 152.9 1459.7 156.2C1462.2 159.5 1465.1 162.7 1467.2 166.2C1469.3 169.7 1470.5 174.3 1472.2 177.4C1473.9 180.5 1474.7 182.8 1477.2 184.9C1479.7 187.0 1483.9 189.1 1487.2 189.9C1490.5 190.7 1494.3 190.7 1497.2 189.9C1500.1 189.1 1501.8 187.2 1504.7 184.9C1507.6 182.6 1511.0 178.3 1514.7 176.2C1518.5 174.1 1523.0 173.9 1527.2 172.4C1531.4 170.9 1535.5 168.9 1539.7 167.4C1543.9 165.9 1548.5 163.4 1552.2 163.2C1556.0 163.0 1558.9 164.4 1562.2 166.2C1565.5 167.9 1569.5 171.4 1572.1 173.7C1574.7 176.0 1575.3 177.2 1577.9 179.8C1580.5 182.4 1584.2 186.2 1587.7 189.5C1591.2 192.8 1595.6 196.3 1599.1 199.3C1602.6 202.3 1605.5 205.0 1608.8 207.4C1612.0 209.8 1615.3 212.0 1618.6 213.9C1621.9 215.8 1625.2 216.9 1628.4 218.8C1631.7 220.7 1634.8 223.1 1638.1 225.3C1641.3 227.5 1644.6 229.8 1647.9 231.8C1651.2 233.8 1653.9 236.6 1657.7 237.5C1661.5 238.4 1667.5 238.4 1670.7 237.5C1674.0 236.6 1675.6 233.9 1677.2 232C1678.8 230.1 1679.1 228.4 1680.5 226.3C1681.9 224.2 1684.0 222.3 1685.5 219.5C1687.0 216.7 1688.3 214.0 1689.8 209.5C1691.3 205.0 1693.1 197.2 1694.5 192.5C1695.9 187.8 1697.1 184.4 1698.4 181C1699.7 177.6 1701.4 174.8 1702.5 172C1703.6 169.2 1704.2 167.2 1704.9 164.1C1705.6 161.0 1706.0 158.0 1706.9 153.7C1707.8 149.4 1709.0 143.3 1710.1 138.1C1711.2 132.9 1712.2 127.0 1713.4 122.5C1714.6 118.0 1715.8 114.3 1717.3 110.8C1718.8 107.3 1721.0 103.8 1722.5 101.6C1724.0 99.4 1725.7 99.9 1726.4 97.7C1727.2 95.5 1727.2 91.0 1727 88.6C1726.8 86.2 1725.6 85.0 1725.1 83.4C1724.6 81.8 1723.7 80.3 1723.8 78.9C1723.9 77.5 1724.8 76.1 1725.7 75C1726.6 73.9 1728.5 72.9 1729 72.5L1729 60Z" fill="#00b3ff"/>
<path d="M1376 862L1376 849.5C1376.5 848.2 1378.7 844.7 1379.3 842C1379.9 839.3 1378.9 836.2 1379.8 833.3C1380.7 830.4 1382.3 827.2 1384.8 824.5C1387.3 821.8 1391.0 819.3 1394.8 817C1398.5 814.7 1403.1 812.5 1407.3 810.8C1411.5 809.1 1416.0 808.5 1419.8 807C1423.5 805.5 1426.9 803.9 1429.8 802C1432.7 800.1 1434.7 798.3 1437.2 795.8C1439.7 793.3 1442.2 790.4 1444.7 787.1C1447.2 783.8 1449.7 779.3 1452.2 775.8C1454.7 772.2 1457.2 769.1 1459.7 765.8C1462.2 762.5 1465.1 759.3 1467.2 755.8C1469.3 752.3 1470.5 747.7 1472.2 744.6C1473.9 741.5 1474.7 739.2 1477.2 737.1C1479.7 735.0 1483.9 732.9 1487.2 732.1C1490.5 731.3 1494.3 731.3 1497.2 732.1C1500.1 732.9 1501.8 734.8 1504.7 737.1C1507.6 739.4 1511.0 743.7 1514.7 745.8C1518.5 747.9 1523.0 748.1 1527.2 749.6C1531.4 751.1 1535.5 753.1 1539.7 754.6C1543.9 756.1 1548.5 758.6 1552.2 758.8C1556.0 759.0 1558.9 757.5 1562.2 755.8C1565.5 754.0 1569.5 750.6 1572.1 748.3C1574.7 746.0 1575.3 744.8 1577.9 742.2C1580.5 739.6 1584.2 735.8 1587.7 732.5C1591.2 729.2 1595.6 725.7 1599.1 722.7C1602.6 719.7 1605.5 717.0 1608.8 714.6C1612.0 712.2 1615.3 710.0 1618.6 708.1C1621.9 706.2 1625.2 705.1 1628.4 703.2C1631.7 701.3 1634.8 698.9 1638.1 696.7C1641.3 694.5 1644.6 692.2 1647.9 690.2C1651.2 688.2 1653.9 685.5 1657.7 684.5C1661.5 683.5 1667.5 683.6 1670.7 684.5C1674.0 685.4 1675.6 688.1 1677.2 690C1678.8 691.9 1679.1 693.6 1680.5 695.7C1681.9 697.8 1684.0 699.7 1685.5 702.5C1687.0 705.3 1688.3 708.0 1689.8 712.5C1691.3 717.0 1693.1 724.8 1694.5 729.5C1695.9 734.2 1697.1 737.6 1698.4 741C1699.7 744.4 1701.4 747.2 1702.5 750C1703.6 752.8 1704.2 754.9 1704.9 757.9C1705.6 760.9 1706.0 764.0 1706.9 768.3C1707.8 772.6 1709.0 778.7 1710.1 783.9C1711.2 789.1 1712.2 795.0 1713.4 799.5C1714.6 804.0 1715.8 807.7 1717.3 811.2C1718.8 814.7 1721.0 818.2 1722.5 820.4C1724.0 822.6 1725.7 822.1 1726.4 824.3C1727.2 826.5 1727.2 831.0 1727 833.4C1726.8 835.8 1725.6 837.0 1725.1 838.6C1724.6 840.2 1723.7 841.7 1723.8 843.1C1723.9 844.5 1724.8 845.9 1725.7 847C1726.6 848.1 1728.5 849.1 1729 849.5L1729 862Z" fill="#00b3ff"/>
<path d="M1804.9 60L1804.9 72.5C1805.7 74.4 1807.4 80.0 1809.9 83.7C1812.4 87.5 1816.6 91.0 1819.9 95C1823.2 99.0 1826.6 103.5 1829.9 107.5C1833.2 111.5 1836.6 115.2 1839.9 118.7C1843.2 122.2 1846.2 125.2 1849.9 128.7C1853.7 132.2 1858.2 136.4 1862.4 139.9C1866.6 143.4 1870.7 146.6 1874.9 149.9C1879.1 153.2 1883.2 156.8 1887.4 159.9C1891.6 163.0 1896.2 166.2 1899.9 168.7C1903.6 171.2 1906.5 173.8 1909.8 174.9C1913.1 176.0 1916.5 175.9 1919.8 175.4C1923.1 174.9 1926.0 173.9 1929.8 171.9C1933.5 169.9 1938.1 166.3 1942.3 163.7C1946.5 161.1 1950.6 158.7 1954.8 156.2C1959.0 153.7 1963.5 150.4 1967.3 148.7C1971.0 146.9 1974.0 146.0 1977.3 145.7C1980.6 145.4 1983.5 145.6 1987.3 146.9C1991.0 148.2 1995.6 151.1 1999.8 153.7C2004.0 156.3 2008.1 159.3 2012.3 162.4C2016.5 165.5 2020.6 168.7 2024.8 172.4C2029.0 176.2 2033.5 180.7 2037.2 184.9C2040.9 189.1 2043.9 193.9 2047.2 197.4C2050.5 200.9 2053.4 203.6 2057.2 206.1C2060.9 208.6 2065.1 210.6 2069.7 212.4C2074.3 214.2 2079.7 215.9 2084.7 216.9C2089.7 217.9 2094.7 217.9 2099.7 218.6C2104.7 219.3 2109.7 220.3 2114.7 221.1C2119.7 221.9 2124.7 222.8 2129.7 223.6C2134.7 224.4 2139.7 225.0 2144.7 226.1C2149.7 227.2 2155.1 228.4 2159.7 229.9C2164.3 231.4 2168.4 233.5 2172.1 234.9C2175.8 236.3 2178.3 237.6 2182.1 238.1C2185.8 238.6 2190.8 238.6 2194.6 238.1C2198.3 237.6 2201.3 236.3 2204.6 234.9C2207.9 233.5 2210.4 231.2 2214.6 229.9C2218.8 228.6 2224.6 227.8 2229.6 226.9C2234.6 226.0 2239.2 225.1 2244.6 224.4C2250.0 223.7 2256.3 223.5 2262.1 222.9C2267.9 222.3 2274.2 221.8 2279.6 221.1C2285.0 220.4 2292.1 219.0 2294.6 218.6L2300 218.6L2300 60Z" fill="#00b3ff"/>
<path d="M1804.9 862L1804.9 849.5C1805.7 847.6 1807.4 842.0 1809.9 838.3C1812.4 834.5 1816.6 831.0 1819.9 827C1823.2 823.0 1826.6 818.5 1829.9 814.5C1833.2 810.5 1836.6 806.8 1839.9 803.3C1843.2 799.8 1846.2 796.8 1849.9 793.3C1853.7 789.8 1858.2 785.6 1862.4 782.1C1866.6 778.6 1870.7 775.4 1874.9 772.1C1879.1 768.8 1883.2 765.2 1887.4 762.1C1891.6 759.0 1896.2 755.8 1899.9 753.3C1903.6 750.8 1906.5 748.2 1909.8 747.1C1913.1 746.0 1916.5 746.1 1919.8 746.6C1923.1 747.1 1926.0 748.2 1929.8 750.1C1933.5 752.0 1938.1 755.7 1942.3 758.3C1946.5 760.9 1950.6 763.3 1954.8 765.8C1959.0 768.3 1963.5 771.5 1967.3 773.3C1971.0 775.0 1974.0 776.0 1977.3 776.3C1980.6 776.6 1983.5 776.4 1987.3 775.1C1991.0 773.8 1995.6 770.9 1999.8 768.3C2004.0 765.7 2008.1 762.7 2012.3 759.6C2016.5 756.5 2020.6 753.4 2024.8 749.6C2029.0 745.9 2033.5 741.3 2037.2 737.1C2040.9 732.9 2043.9 728.1 2047.2 724.6C2050.5 721.1 2053.4 718.4 2057.2 715.9C2060.9 713.4 2065.1 711.4 2069.7 709.6C2074.3 707.8 2079.7 706.1 2084.7 705.1C2089.7 704.1 2094.7 704.1 2099.7 703.4C2104.7 702.7 2109.7 701.7 2114.7 700.9C2119.7 700.1 2124.7 699.2 2129.7 698.4C2134.7 697.6 2139.7 696.9 2144.7 695.9C2149.7 694.9 2155.1 693.6 2159.7 692.1C2164.3 690.6 2168.4 688.5 2172.1 687.1C2175.8 685.7 2178.3 684.4 2182.1 683.9C2185.8 683.4 2190.8 683.4 2194.6 683.9C2198.3 684.4 2201.3 685.7 2204.6 687.1C2207.9 688.5 2210.4 690.8 2214.6 692.1C2218.8 693.4 2224.6 694.2 2229.6 695.1C2234.6 696.0 2239.2 696.9 2244.6 697.6C2250.0 698.3 2256.3 698.6 2262.1 699.1C2267.9 699.6 2274.2 700.2 2279.6 700.9C2285.0 701.6 2292.1 703.0 2294.6 703.4L2300 703.4L2300 862Z" fill="#00b3ff"/>
<path d="M1428.5 60L1428.5 72.5C1429.3 74.0 1430.4 78.5 1433.5 81.2C1436.6 83.9 1443.2 85.8 1447.2 88.7C1451.2 91.6 1453.9 95.0 1457.2 98.7C1460.5 102.5 1464.5 107.5 1467.2 111.2C1469.9 115.0 1471.4 118.8 1473.5 121.2C1475.6 123.6 1477.0 125.1 1479.7 125.5C1482.4 125.9 1486.4 124.8 1489.7 123.7C1493.0 122.6 1496.0 120.4 1499.7 118.7C1503.5 117.0 1508.0 114.8 1512.2 113.7C1516.4 112.6 1520.1 112.7 1524.7 112C1529.3 111.3 1535.1 110.3 1539.7 109.5C1544.3 108.7 1548.8 107.0 1552.2 107C1555.6 107.0 1557.6 109.1 1560 109.8C1562.4 110.5 1564.1 109.9 1566.5 111.4C1568.9 112.9 1572.1 116.3 1574.6 118.7C1577.0 121.1 1579.3 123.0 1581.2 126C1583.1 129.0 1584.4 133.1 1586 136.6C1587.6 140.1 1589.0 143.8 1590.9 147.2C1592.8 150.6 1595.2 154.0 1597.4 157C1599.6 160.0 1601.2 162.1 1603.9 165.1C1606.6 168.1 1610.2 171.9 1613.7 174.9C1617.2 177.9 1621.6 180.3 1625.1 183C1628.6 185.7 1631.7 188.4 1634.9 191.1C1638.2 193.8 1641.6 196.7 1644.6 199.3C1647.6 201.9 1650.3 205.0 1652.8 206.6C1655.2 208.2 1656.6 208.7 1659.3 209C1662.0 209.3 1665.8 209.1 1669 208.2C1672.2 207.3 1676.8 206.0 1678.8 203.4C1680.8 200.8 1680.2 196.7 1681.3 192.8C1682.4 188.9 1683.9 184.4 1685.3 179.8C1686.7 175.2 1688.2 170.3 1689.4 165.1C1690.6 159.9 1691.6 154.2 1692.7 148.8C1693.8 143.4 1695.0 137.5 1695.9 132.6C1696.8 127.7 1697.5 122.9 1698.3 119.5C1699.1 116.1 1700.1 114.8 1701 112.1C1701.9 109.3 1703.3 105.8 1703.6 103C1703.9 100.2 1703.7 97.6 1703 95.1C1702.3 92.6 1700.6 90.2 1699.7 88C1698.8 85.8 1698.0 83.9 1697.7 82.1C1697.4 80.2 1697.1 78.3 1697.7 76.9C1698.3 75.5 1700.4 74.4 1701.6 73.7C1702.8 73.0 1704.4 72.7 1704.9 72.5L1704.9 60Z" fill="#004dff"/>
<path d="M1428.5 862L1428.5 849.5C1429.3 848.0 1430.4 843.5 1433.5 840.8C1436.6 838.1 1443.2 836.2 1447.2 833.3C1451.2 830.4 1453.9 827.0 1457.2 823.3C1460.5 819.5 1464.5 814.5 1467.2 810.8C1469.9 807.0 1471.4 803.2 1473.5 800.8C1475.6 798.4 1477.0 796.9 1479.7 796.5C1482.4 796.1 1486.4 797.2 1489.7 798.3C1493.0 799.4 1496.0 801.6 1499.7 803.3C1503.5 805.0 1508.0 807.2 1512.2 808.3C1516.4 809.4 1520.1 809.3 1524.7 810C1529.3 810.7 1535.1 811.7 1539.7 812.5C1544.3 813.3 1548.8 815.0 1552.2 815C1555.6 815.0 1557.6 812.9 1560 812.2C1562.4 811.5 1564.1 812.1 1566.5 810.6C1568.9 809.1 1572.1 805.7 1574.6 803.3C1577.0 800.9 1579.3 799.0 1581.2 796C1583.1 793.0 1584.4 788.9 1586 785.4C1587.6 781.9 1589.0 778.2 1590.9 774.8C1592.8 771.4 1595.2 768.0 1597.4 765C1599.6 762.0 1601.2 759.9 1603.9 756.9C1606.6 753.9 1610.2 750.1 1613.7 747.1C1617.2 744.1 1621.6 741.7 1625.1 739C1628.6 736.3 1631.7 733.6 1634.9 730.9C1638.2 728.2 1641.6 725.3 1644.6 722.7C1647.6 720.1 1650.3 717.0 1652.8 715.4C1655.2 713.8 1656.6 713.3 1659.3 713C1662.0 712.7 1665.8 712.9 1669 713.8C1672.2 714.7 1676.8 716.0 1678.8 718.6C1680.8 721.2 1680.2 725.3 1681.3 729.2C1682.4 733.1 1683.9 737.6 1685.3 742.2C1686.7 746.8 1688.2 751.7 1689.4 756.9C1690.6 762.1 1691.6 767.8 1692.7 773.2C1693.8 778.6 1695.0 784.5 1695.9 789.4C1696.8 794.3 1697.5 799.1 1698.3 802.5C1699.1 805.9 1700.1 807.1 1701 809.9C1701.9 812.6 1703.3 816.2 1703.6 819C1703.9 821.8 1703.7 824.4 1703 826.9C1702.3 829.4 1700.6 831.8 1699.7 834C1698.8 836.2 1698.0 838.0 1697.7 839.9C1697.4 841.8 1697.1 843.7 1697.7 845.1C1698.3 846.5 1700.4 847.6 1701.6 848.3C1702.8 849.0 1704.4 849.3 1704.9 849.5L1704.9 862Z" fill="#004dff"/>
<path d="M1838.6 60L1838.6 72.5C1839.6 74.2 1842.2 79.2 1844.9 82.5C1847.6 85.8 1851.2 89.2 1854.9 92.5C1858.7 95.8 1863.2 99.4 1867.4 102.5C1871.6 105.6 1875.7 108.1 1879.9 111.2C1884.1 114.3 1888.7 118.3 1892.4 121.2C1896.1 124.1 1899.0 126.8 1902.3 128.7C1905.6 130.6 1909.0 132.0 1912.3 132.4C1915.6 132.8 1919.0 132.3 1922.3 131.2C1925.6 130.0 1928.5 127.8 1932.3 125.5C1936.0 123.2 1940.6 120.1 1944.8 117.5C1949.0 114.9 1953.1 112.1 1957.3 110C1961.5 107.9 1966.0 106.0 1969.8 105C1973.5 104.0 1976.5 103.5 1979.8 103.7C1983.1 103.9 1986.5 104.7 1989.8 106.2C1993.1 107.7 1996.0 110.0 1999.8 112.5C2003.5 115.0 2008.1 118.3 2012.3 121.2C2016.5 124.1 2021.1 126.8 2024.8 129.9C2028.5 133.0 2031.8 136.6 2034.7 139.9C2037.6 143.2 2039.7 146.4 2042.2 149.9C2044.7 153.4 2047.2 158.1 2049.7 161.2C2052.2 164.3 2053.9 166.2 2057.2 168.7C2060.5 171.2 2065.1 173.9 2069.7 176.2C2074.3 178.5 2079.7 180.5 2084.7 182.4C2089.7 184.3 2094.7 185.9 2099.7 187.4C2104.7 188.9 2109.7 190.2 2114.7 191.2C2119.7 192.2 2124.7 192.6 2129.7 193.6C2134.7 194.6 2140.1 195.7 2144.7 196.9C2149.3 198.2 2153.0 199.3 2157.2 201.1C2161.3 202.8 2165.4 205.7 2169.6 207.4C2173.8 209.2 2177.5 210.8 2182.1 211.6C2186.7 212.3 2192.1 212.4 2197.1 211.9C2202.1 211.4 2207.1 209.8 2212.1 208.6C2217.1 207.4 2221.7 205.9 2227.1 204.9C2232.5 203.9 2238.8 203.0 2244.6 202.4C2250.4 201.8 2256.3 201.6 2262.1 201.1C2267.9 200.6 2274.2 199.9 2279.6 199.4C2285.0 198.9 2292.1 198.3 2294.6 198.1L2300 198.1L2300 60Z" fill="#004dff"/>
<path d="M1838.6 862L1838.6 849.5C1839.6 847.8 1842.2 842.8 1844.9 839.5C1847.6 836.2 1851.2 832.8 1854.9 829.5C1858.7 826.2 1863.2 822.6 1867.4 819.5C1871.6 816.4 1875.7 813.9 1879.9 810.8C1884.1 807.7 1888.7 803.7 1892.4 800.8C1896.1 797.9 1899.0 795.2 1902.3 793.3C1905.6 791.4 1909.0 790.0 1912.3 789.6C1915.6 789.2 1919.0 789.6 1922.3 790.8C1925.6 791.9 1928.5 794.2 1932.3 796.5C1936.0 798.8 1940.6 801.9 1944.8 804.5C1949.0 807.1 1953.1 809.9 1957.3 812C1961.5 814.1 1966.0 816.0 1969.8 817C1973.5 818.0 1976.5 818.5 1979.8 818.3C1983.1 818.1 1986.5 817.3 1989.8 815.8C1993.1 814.3 1996.0 812.0 1999.8 809.5C2003.5 807.0 2008.1 803.7 2012.3 800.8C2016.5 797.9 2021.1 795.2 2024.8 792.1C2028.5 789.0 2031.8 785.4 2034.7 782.1C2037.6 778.8 2039.7 775.7 2042.2 772.1C2044.7 768.5 2047.2 763.9 2049.7 760.8C2052.2 757.7 2053.9 755.8 2057.2 753.3C2060.5 750.8 2065.1 748.1 2069.7 745.8C2074.3 743.5 2079.7 741.5 2084.7 739.6C2089.7 737.7 2094.7 736.1 2099.7 734.6C2104.7 733.1 2109.7 731.8 2114.7 730.8C2119.7 729.8 2124.7 729.3 2129.7 728.4C2134.7 727.5 2140.1 726.4 2144.7 725.1C2149.3 723.9 2153.0 722.6 2157.2 720.9C2161.3 719.1 2165.4 716.4 2169.6 714.6C2173.8 712.9 2177.5 711.1 2182.1 710.4C2186.7 709.6 2192.1 709.6 2197.1 710.1C2202.1 710.6 2207.1 712.2 2212.1 713.4C2217.1 714.6 2221.7 716.1 2227.1 717.1C2232.5 718.1 2238.8 719.0 2244.6 719.6C2250.4 720.2 2256.3 720.4 2262.1 720.9C2267.9 721.4 2274.2 722.1 2279.6 722.6C2285.0 723.1 2292.1 723.7 2294.6 723.9L2300 723.9L2300 862Z" fill="#004dff"/>
<path d="M1583.4 60L1583.4 72.5C1584.0 75.4 1584.3 83.8 1587.1 90C1589.9 96.2 1596.2 104.1 1600 109.9C1603.8 115.7 1606.3 119.0 1610 124.8C1613.7 130.6 1618.2 139.4 1622.4 144.8C1626.6 150.2 1631.2 153.6 1634.9 157.3C1638.7 161.0 1642.0 164.1 1644.9 167.2C1647.8 170.3 1649.9 173.8 1652.4 176C1654.9 178.2 1657.4 179.8 1659.9 180.2C1662.4 180.6 1664.8 179.6 1667.3 178.5C1669.8 177.4 1672.8 175.8 1674.8 173.5C1676.8 171.2 1678.3 168.2 1679.3 164.7C1680.3 161.2 1680.1 157.3 1681 152.3C1681.9 147.3 1683.5 140.2 1684.8 134.8C1686.0 129.4 1687.3 124.5 1688.5 119.9C1689.7 115.3 1691.1 110.9 1691.8 107.4C1692.5 103.9 1693.0 101.6 1692.8 98.7C1692.5 95.8 1691.4 92.6 1690.3 89.9C1689.2 87.2 1686.7 84.7 1686 82.4C1685.3 80.1 1685.4 77.9 1686 76.2C1686.6 74.5 1689.2 73.1 1689.8 72.5L1689.8 60Z" fill="#0000e6"/>
<path d="M1583.4 862L1583.4 849.5C1584.0 846.6 1584.3 838.2 1587.1 832C1589.9 825.8 1596.2 817.9 1600 812.1C1603.8 806.3 1606.3 803.0 1610 797.2C1613.7 791.4 1618.2 782.6 1622.4 777.2C1626.6 771.8 1631.2 768.4 1634.9 764.7C1638.7 761.0 1642.0 757.9 1644.9 754.8C1647.8 751.7 1649.9 748.2 1652.4 746C1654.9 743.8 1657.4 742.2 1659.9 741.8C1662.4 741.4 1664.8 742.4 1667.3 743.5C1669.8 744.6 1672.8 746.2 1674.8 748.5C1676.8 750.8 1678.3 753.8 1679.3 757.3C1680.3 760.8 1680.1 764.7 1681 769.7C1681.9 774.7 1683.5 781.8 1684.8 787.2C1686.0 792.6 1687.3 797.5 1688.5 802.1C1689.7 806.7 1691.1 811.1 1691.8 814.6C1692.5 818.1 1693.0 820.4 1692.8 823.3C1692.5 826.2 1691.4 829.4 1690.3 832.1C1689.2 834.8 1686.7 837.3 1686 839.6C1685.3 841.9 1685.4 844.1 1686 845.8C1686.6 847.4 1689.2 848.9 1689.8 849.5L1689.8 862Z" fill="#0000e6"/>
<path d="M1886.1 60L1886.1 72.5C1887.1 73.5 1890.1 76.8 1892.4 78.7C1894.7 80.6 1897.0 82.4 1899.9 83.7C1902.8 85.0 1906.5 86.2 1909.8 86.7C1913.1 87.2 1916.5 87.3 1919.8 86.7C1923.1 86.1 1926.5 84.3 1929.8 83C1933.1 81.7 1936.5 80.0 1939.8 78.7C1943.1 77.4 1947.3 76.0 1949.8 75C1952.3 74.0 1954.0 72.9 1954.8 72.5L1954.8 60Z" fill="#0000e6"/>
<path d="M1886.1 862L1886.1 849.5C1887.1 848.5 1890.1 845.2 1892.4 843.3C1894.7 841.4 1897.0 839.6 1899.9 838.3C1902.8 837.0 1906.5 835.8 1909.8 835.3C1913.1 834.8 1916.5 834.7 1919.8 835.3C1923.1 835.9 1926.5 837.7 1929.8 839C1933.1 840.3 1936.5 842.0 1939.8 843.3C1943.1 844.6 1947.3 846.0 1949.8 847C1952.3 848.0 1954.0 849.1 1954.8 849.5L1954.8 862Z" fill="#0000e6"/>
<path d="M2001 60L2001 72.5C2002.5 73.8 2006.7 77.5 2009.8 80C2012.9 82.5 2016.9 85.0 2019.8 87.5C2022.7 90.0 2024.8 92.1 2027.3 95C2029.8 97.9 2032.4 101.9 2034.7 105C2037.0 108.1 2038.5 110.8 2041 113.7C2043.5 116.6 2046.6 119.8 2049.7 122.5C2052.8 125.2 2055.9 127.4 2059.7 129.9C2063.4 132.4 2068.0 134.9 2072.2 137.4C2076.4 139.9 2080.5 142.7 2084.7 144.9C2088.9 147.1 2093.0 148.8 2097.2 150.4C2101.4 152.0 2105.1 153.0 2109.7 154.4C2114.3 155.8 2120.1 157.4 2124.7 158.7C2129.3 160.0 2133.0 160.9 2137.2 162.4C2141.4 163.9 2145.5 165.5 2149.7 167.4C2153.9 169.3 2158.5 171.6 2162.2 173.7C2165.9 175.8 2168.8 178.0 2172.1 179.9C2175.4 181.8 2178.8 183.7 2182.1 184.9C2185.4 186.2 2188.8 186.9 2192.1 187.4C2195.4 187.9 2198.3 188.3 2202.1 187.9C2205.8 187.5 2210.0 186.0 2214.6 184.9C2219.2 183.8 2224.6 182.2 2229.6 181.2C2234.6 180.2 2239.2 179.5 2244.6 178.7C2250.0 177.9 2256.3 176.9 2262.1 176.2C2267.9 175.4 2274.2 174.8 2279.6 174.2C2285.0 173.6 2292.1 172.7 2294.6 172.4L2300 172.4L2300 60Z" fill="#0000e6"/>
<path d="M2001 862L2001 849.5C2002.5 848.2 2006.7 844.5 2009.8 842C2012.9 839.5 2016.9 837.0 2019.8 834.5C2022.7 832.0 2024.8 829.9 2027.3 827C2029.8 824.1 2032.4 820.1 2034.7 817C2037.0 813.9 2038.5 811.2 2041 808.3C2043.5 805.4 2046.6 802.2 2049.7 799.5C2052.8 796.8 2055.9 794.6 2059.7 792.1C2063.4 789.6 2068.0 787.1 2072.2 784.6C2076.4 782.1 2080.5 779.3 2084.7 777.1C2088.9 774.9 2093.0 773.2 2097.2 771.6C2101.4 770.0 2105.1 769.0 2109.7 767.6C2114.3 766.2 2120.1 764.6 2124.7 763.3C2129.3 762.0 2133.0 761.0 2137.2 759.6C2141.4 758.2 2145.5 756.5 2149.7 754.6C2153.9 752.7 2158.5 750.4 2162.2 748.3C2165.9 746.2 2168.8 744.0 2172.1 742.1C2175.4 740.2 2178.8 738.4 2182.1 737.1C2185.4 735.9 2188.8 735.1 2192.1 734.6C2195.4 734.1 2198.3 733.7 2202.1 734.1C2205.8 734.5 2210.0 736.0 2214.6 737.1C2219.2 738.2 2224.6 739.8 2229.6 740.8C2234.6 741.8 2239.2 742.5 2244.6 743.3C2250.0 744.1 2256.3 745.0 2262.1 745.8C2267.9 746.5 2274.2 747.2 2279.6 747.8C2285.0 748.4 2292.1 749.3 2294.6 749.6L2300 749.6L2300 862Z" fill="#0000e6"/>
<path d="M1606.2 60L1606.2 72.5C1607.0 74.2 1608.9 78.7 1611.2 82.4C1613.5 86.1 1616.9 90.3 1620 94.9C1623.1 99.5 1626.6 104.9 1629.9 109.9C1633.2 114.9 1637.0 120.2 1639.9 124.8C1642.8 129.4 1645.1 134.2 1647.4 137.3C1649.7 140.4 1651.5 142.1 1653.6 143.5C1655.7 144.9 1657.8 145.7 1659.9 145.5C1662.0 145.3 1664.4 144.1 1666.1 142.3C1667.8 140.5 1668.8 137.7 1669.8 134.8C1670.8 131.9 1671.5 128.1 1672.3 124.8C1673.1 121.5 1673.8 118.2 1674.8 114.9C1675.8 111.6 1677.7 107.8 1678.6 104.9C1679.5 102.0 1680.2 99.9 1680.3 97.4C1680.4 94.9 1680.0 92.2 1679.3 89.9C1678.6 87.6 1676.8 85.8 1676.1 83.7C1675.3 81.6 1674.4 79.4 1674.8 77.5C1675.2 75.6 1678.0 73.3 1678.6 72.5L1678.6 60Z" fill="#000080"/>
<path d="M1606.2 862L1606.2 849.5C1607.0 847.9 1608.9 843.3 1611.2 839.6C1613.5 835.9 1616.9 831.7 1620 827.1C1623.1 822.5 1626.6 817.1 1629.9 812.1C1633.2 807.1 1637.0 801.8 1639.9 797.2C1642.8 792.6 1645.1 787.8 1647.4 784.7C1649.7 781.6 1651.5 779.9 1653.6 778.5C1655.7 777.1 1657.8 776.3 1659.9 776.5C1662.0 776.7 1664.4 777.9 1666.1 779.7C1667.8 781.5 1668.8 784.3 1669.8 787.2C1670.8 790.1 1671.5 793.9 1672.3 797.2C1673.1 800.5 1673.8 803.8 1674.8 807.1C1675.8 810.4 1677.7 814.2 1678.6 817.1C1679.5 820.0 1680.2 822.1 1680.3 824.6C1680.4 827.1 1680.0 829.8 1679.3 832.1C1678.6 834.4 1676.8 836.2 1676.1 838.3C1675.3 840.4 1674.4 842.6 1674.8 844.5C1675.2 846.4 1678.0 848.7 1678.6 849.5L1678.6 862Z" fill="#000080"/>
<path d="M2041 60L2041 72.5C2042.0 74.6 2044.9 81.5 2047.2 85C2049.5 88.5 2051.4 91.0 2054.7 93.7C2058.0 96.4 2062.6 98.7 2067.2 101.2C2071.8 103.7 2077.2 106.2 2082.2 108.7C2087.2 111.2 2092.2 114.3 2097.2 116.2C2102.2 118.1 2107.2 118.9 2112.2 120C2117.2 121.1 2122.6 121.8 2127.2 123C2131.8 124.2 2135.5 125.6 2139.7 127.4C2143.9 129.2 2148.4 131.6 2152.2 133.7C2155.9 135.8 2158.9 137.6 2162.2 139.9C2165.5 142.2 2169.2 145.1 2172.1 147.4C2175.0 149.7 2177.1 151.8 2179.6 153.7C2182.1 155.6 2184.2 157.6 2187.1 158.7C2190.0 159.8 2193.3 160.2 2197.1 160.4C2200.8 160.6 2205.4 160.5 2209.6 159.9C2213.8 159.3 2217.5 157.9 2222.1 156.9C2226.7 155.9 2231.7 154.6 2237.1 153.7C2242.5 152.8 2248.8 151.9 2254.6 151.2C2260.4 150.5 2267.1 150.0 2272.1 149.4C2277.1 148.8 2280.8 148.1 2284.6 147.4C2288.3 146.7 2292.9 145.7 2294.6 145.4L2300 145.4L2300 60Z" fill="#000080"/>
<path d="M2041 862L2041 849.5C2042.0 847.4 2044.9 840.5 2047.2 837C2049.5 833.5 2051.4 831.0 2054.7 828.3C2058.0 825.6 2062.6 823.3 2067.2 820.8C2071.8 818.3 2077.2 815.8 2082.2 813.3C2087.2 810.8 2092.2 807.7 2097.2 805.8C2102.2 803.9 2107.2 803.1 2112.2 802C2117.2 800.9 2122.6 800.2 2127.2 799C2131.8 797.8 2135.5 796.4 2139.7 794.6C2143.9 792.8 2148.4 790.4 2152.2 788.3C2155.9 786.2 2158.9 784.4 2162.2 782.1C2165.5 779.8 2169.2 776.9 2172.1 774.6C2175.0 772.3 2177.1 770.2 2179.6 768.3C2182.1 766.4 2184.2 764.4 2187.1 763.3C2190.0 762.2 2193.3 761.8 2197.1 761.6C2200.8 761.4 2205.4 761.5 2209.6 762.1C2213.8 762.7 2217.5 764.1 2222.1 765.1C2226.7 766.1 2231.7 767.3 2237.1 768.3C2242.5 769.2 2248.8 770.1 2254.6 770.8C2260.4 771.5 2267.1 772.0 2272.1 772.6C2277.1 773.2 2280.8 773.9 2284.6 774.6C2288.3 775.3 2292.9 776.3 2294.6 776.6L2300 776.6L2300 862Z" fill="#000080"/>
<path d="M797.3 461.4C799.0 461.1 805.5 461.0 807.3 459.9C809.0 458.8 808.4 457.4 807.8 454.9C807.2 452.4 804.9 448.2 803.5 444.9C802.1 441.6 800.1 437.8 799.3 434.9C798.5 432.0 797.8 429.5 798.5 427.4C799.2 425.3 800.8 424.3 803.5 422.4C806.2 420.5 810.8 418.6 814.8 416.1C818.8 413.6 823.6 410.1 827.3 407.4C831.0 404.7 834.1 402.4 837.2 399.9C840.3 397.4 843.9 394.9 846 392.4C848.1 389.9 847.4 387.0 849.7 384.9C852.0 382.8 856.0 382.0 859.7 379.9C863.5 377.8 868.0 374.7 872.2 372.4C876.4 370.1 880.5 368.5 884.7 366.2C888.9 363.9 893.0 360.7 897.2 358.7C901.4 356.7 906.4 354.8 909.7 354.4C913.0 354.0 914.9 354.4 917.2 356.2C919.5 357.9 921.7 361.4 923.4 364.9C925.1 368.4 926.2 373.2 927.2 377.4C928.2 381.6 928.7 385.7 929.7 389.9C930.7 394.1 932.8 398.6 933.4 402.4C934.0 406.1 934.0 408.9 933.4 412.4C932.8 415.9 931.6 419.7 929.7 423.6C927.8 427.6 924.5 432.1 922.2 436.1C919.9 440.1 917.4 444.5 915.9 447.4C914.4 450.3 913.4 451.7 913.4 453.6C913.4 455.5 913.8 457.3 915.9 458.6C918.0 459.9 924.2 460.9 925.9 461.4L925.9 460.6C924.2 461.1 918.0 462.1 915.9 463.4C913.8 464.7 913.4 466.5 913.4 468.4C913.4 470.3 914.4 471.7 915.9 474.6C917.4 477.5 919.9 481.9 922.2 485.9C924.5 489.9 927.8 494.4 929.7 498.4C931.6 502.3 932.8 506.1 933.4 509.6C934.0 513.1 934.0 515.9 933.4 519.6C932.8 523.4 930.7 527.9 929.7 532.1C928.7 536.3 928.2 540.4 927.2 544.6C926.2 548.8 925.1 553.6 923.4 557.1C921.7 560.6 919.5 564.0 917.2 565.8C914.9 567.5 913.0 568.0 909.7 567.6C906.4 567.2 901.4 565.3 897.2 563.3C893.0 561.3 888.9 558.1 884.7 555.8C880.5 553.5 876.4 551.9 872.2 549.6C868.0 547.3 863.5 544.2 859.7 542.1C856.0 540.0 852.0 539.2 849.7 537.1C847.4 535.0 848.1 532.1 846 529.6C843.9 527.1 840.3 524.6 837.2 522.1C834.1 519.6 831.0 517.3 827.3 514.6C823.6 511.9 818.8 508.4 814.8 505.9C810.8 503.4 806.2 501.5 803.5 499.6C800.8 497.7 799.2 496.7 798.5 494.6C797.8 492.5 798.5 490.0 799.3 487.1C800.1 484.2 802.1 480.4 803.5 477.1C804.9 473.8 807.2 469.6 807.8 467.1C808.4 464.6 809.0 463.2 807.3 462.1C805.5 461.0 799.0 460.9 797.3 460.6Z" fill="#800000" stroke="#808080" stroke-width="1"/>
<path d="M1022.1 461.4C1023.2 461.1 1027.2 460.5 1028.4 459.4C1029.6 458.3 1029.7 457.3 1029.1 454.9C1028.5 452.5 1026.2 448.0 1024.6 444.9C1023.0 441.8 1020.9 438.6 1019.6 436.1C1018.4 433.6 1017.1 431.8 1017.1 429.9C1017.1 427.9 1017.5 426.0 1019.6 424.4C1021.7 422.8 1025.4 421.4 1029.6 420.4C1033.8 419.3 1039.6 418.5 1044.6 418.1C1049.6 417.7 1055.0 417.6 1059.6 418.1C1064.2 418.6 1068.8 419.8 1072.1 421.1C1075.4 422.4 1078.1 424.4 1079.6 426.1C1081.0 427.8 1081.0 429.0 1080.8 431.1C1080.6 433.2 1079.5 436.1 1078.3 438.6C1077.0 441.1 1074.8 443.6 1073.3 446.1C1071.8 448.6 1070.3 451.5 1069.6 453.6C1068.9 455.7 1067.8 457.3 1069.1 458.6C1070.3 459.9 1075.8 460.9 1077.1 461.4L1077.1 460.6C1075.8 461.1 1070.3 462.1 1069.1 463.4C1067.8 464.7 1068.9 466.3 1069.6 468.4C1070.3 470.5 1071.8 473.4 1073.3 475.9C1074.8 478.4 1077.0 480.9 1078.3 483.4C1079.5 485.9 1080.6 488.8 1080.8 490.9C1081.0 493.0 1081.0 494.2 1079.6 495.9C1078.1 497.6 1075.4 499.6 1072.1 500.9C1068.8 502.2 1064.2 503.4 1059.6 503.9C1055.0 504.4 1049.6 504.3 1044.6 503.9C1039.6 503.5 1033.8 502.7 1029.6 501.6C1025.4 500.6 1021.7 499.2 1019.6 497.6C1017.5 496.0 1017.1 494.1 1017.1 492.1C1017.1 490.2 1018.4 488.4 1019.6 485.9C1020.9 483.4 1023.0 480.2 1024.6 477.1C1026.2 474.0 1028.5 469.5 1029.1 467.1C1029.7 464.7 1029.6 463.7 1028.4 462.6C1027.2 461.5 1023.2 460.9 1022.1 460.6Z" fill="#800000" stroke="#808080" stroke-width="1"/>
<path d="M1170.7 461.4C1171.6 460.9 1175.5 460.1 1176.2 458.6C1176.9 457.1 1175.7 454.5 1174.9 452.4C1174.1 450.3 1172.7 448.6 1171.2 446.1C1169.8 443.6 1167.3 440.1 1166.2 437.4C1165.1 434.7 1164.5 432.0 1164.5 429.9C1164.5 427.8 1164.5 426.2 1166.2 424.9C1167.9 423.6 1171.4 422.5 1174.9 421.9C1178.4 421.3 1183.2 421.1 1187.4 421.1C1191.6 421.1 1196.6 421.3 1199.9 421.9C1203.2 422.5 1205.7 423.4 1207.4 424.9C1209.1 426.4 1209.9 428.8 1209.9 431.1C1209.9 433.4 1208.7 436.1 1207.4 438.6C1206.2 441.1 1204.1 443.8 1202.4 446.1C1200.7 448.4 1198.4 450.3 1197.4 452.4C1196.4 454.5 1195.5 457.1 1196.2 458.6C1197.0 460.1 1201.0 460.9 1201.9 461.4L1201.9 460.6C1201.0 461.1 1197.0 461.9 1196.2 463.4C1195.5 464.9 1196.4 467.5 1197.4 469.6C1198.4 471.7 1200.7 473.6 1202.4 475.9C1204.1 478.2 1206.2 480.9 1207.4 483.4C1208.7 485.9 1209.9 488.6 1209.9 490.9C1209.9 493.2 1209.1 495.6 1207.4 497.1C1205.7 498.6 1203.2 499.5 1199.9 500.1C1196.6 500.7 1191.6 500.9 1187.4 500.9C1183.2 500.9 1178.4 500.7 1174.9 500.1C1171.4 499.5 1167.9 498.4 1166.2 497.1C1164.5 495.8 1164.5 494.2 1164.5 492.1C1164.5 490.0 1165.1 487.3 1166.2 484.6C1167.3 481.9 1169.8 478.4 1171.2 475.9C1172.7 473.4 1174.1 471.7 1174.9 469.6C1175.7 467.5 1176.9 464.9 1176.2 463.4C1175.5 461.9 1171.6 461.1 1170.7 460.6Z" fill="#800000" stroke="#808080" stroke-width="1"/>
<path d="M1313.6 461.4C1314.2 460.9 1317.3 460.1 1317.3 458.6C1317.3 457.1 1315.3 454.7 1313.6 452.4C1311.9 450.1 1309.2 447.4 1307.3 444.9C1305.4 442.4 1303.5 439.9 1302.3 437.4C1301.1 434.9 1299.9 432.0 1299.9 429.9C1299.9 427.8 1300.7 426.2 1302.3 424.9C1303.9 423.6 1307.3 422.5 1309.8 421.9C1312.3 421.3 1314.8 421.0 1317.3 421.1C1319.8 421.2 1322.5 421.8 1324.8 422.4C1327.1 423.0 1329.5 423.4 1331.1 424.9C1332.6 426.3 1333.9 428.8 1334.1 431.1C1334.3 433.4 1333.4 436.1 1332.3 438.6C1331.2 441.1 1329.0 443.6 1327.3 446.1C1325.6 448.6 1323.3 451.5 1322.3 453.6C1321.3 455.7 1320.3 457.3 1321.1 458.6C1321.9 459.9 1326.3 460.9 1327.3 461.4L1327.3 460.6C1326.3 461.1 1321.9 462.1 1321.1 463.4C1320.3 464.7 1321.3 466.3 1322.3 468.4C1323.3 470.5 1325.6 473.4 1327.3 475.9C1329.0 478.4 1331.2 480.9 1332.3 483.4C1333.4 485.9 1334.3 488.6 1334.1 490.9C1333.9 493.2 1332.6 495.7 1331.1 497.1C1329.5 498.6 1327.1 499.0 1324.8 499.6C1322.5 500.2 1319.8 500.8 1317.3 500.9C1314.8 501.0 1312.3 500.7 1309.8 500.1C1307.3 499.5 1303.9 498.4 1302.3 497.1C1300.7 495.8 1299.9 494.2 1299.9 492.1C1299.9 490.0 1301.1 487.1 1302.3 484.6C1303.5 482.1 1305.4 479.6 1307.3 477.1C1309.2 474.6 1311.9 471.9 1313.6 469.6C1315.3 467.3 1317.3 464.9 1317.3 463.4C1317.3 461.9 1314.2 461.1 1313.6 460.6Z" fill="#800000" stroke="#808080" stroke-width="1"/>
<path d="M1720 461.4C1721.7 461.1 1728.2 460.9 1730 459.4C1731.8 457.9 1731.1 455.2 1730.5 452.4C1729.9 449.6 1727.5 445.7 1726.2 442.4C1724.9 439.1 1723.2 435.5 1722.5 432.4C1721.8 429.3 1721.4 426.5 1722 423.6C1722.6 420.7 1725.0 417.6 1726.2 414.9C1727.5 412.2 1729.0 410.7 1729.5 407.4C1730.0 404.1 1729.2 398.6 1729.5 394.9C1729.8 391.1 1729.9 388.0 1731.2 384.9C1732.5 381.8 1734.8 379.5 1737.5 376.2C1740.2 372.9 1744.2 368.2 1747.5 364.9C1750.8 361.6 1754.2 358.3 1757.5 356.2C1760.8 354.1 1764.1 353.1 1767.4 352.4C1770.7 351.6 1774.1 351.5 1777.4 351.7C1780.7 351.9 1783.7 352.4 1787.4 353.7C1791.2 355.0 1796.2 357.3 1799.9 359.4C1803.7 361.5 1806.6 363.4 1809.9 366.2C1813.2 369.0 1817.2 372.9 1819.9 376.2C1822.6 379.5 1824.7 382.7 1826.2 386.2C1827.7 389.7 1827.7 393.4 1828.7 397.4C1829.7 401.3 1830.5 406.6 1832.4 409.9C1834.3 413.2 1837.6 414.9 1839.9 417.4C1842.2 419.9 1844.9 422.6 1846.1 424.9C1847.3 427.2 1847.5 428.6 1846.9 431.1C1846.3 433.6 1843.8 437.0 1842.4 439.9C1841.0 442.8 1839.4 446.1 1838.6 448.6C1837.8 451.1 1837.2 453.1 1837.4 454.9C1837.6 456.7 1838.2 458.3 1839.9 459.4C1841.6 460.5 1846.2 461.1 1847.4 461.4L1847.4 460.6C1846.2 460.9 1841.6 461.5 1839.9 462.6C1838.2 463.7 1837.6 465.3 1837.4 467.1C1837.2 468.9 1837.8 470.9 1838.6 473.4C1839.4 475.9 1841.0 479.2 1842.4 482.1C1843.8 485.0 1846.3 488.4 1846.9 490.9C1847.5 493.4 1847.3 494.8 1846.1 497.1C1844.9 499.4 1842.2 502.1 1839.9 504.6C1837.6 507.1 1834.3 508.8 1832.4 512.1C1830.5 515.4 1829.7 520.7 1828.7 524.6C1827.7 528.5 1827.7 532.3 1826.2 535.8C1824.7 539.3 1822.6 542.5 1819.9 545.8C1817.2 549.1 1813.2 553.0 1809.9 555.8C1806.6 558.6 1803.7 560.5 1799.9 562.6C1796.2 564.7 1791.2 567.0 1787.4 568.3C1783.7 569.6 1780.7 570.1 1777.4 570.3C1774.1 570.5 1770.7 570.4 1767.4 569.6C1764.1 568.9 1760.8 567.9 1757.5 565.8C1754.2 563.7 1750.8 560.4 1747.5 557.1C1744.2 553.8 1740.2 549.1 1737.5 545.8C1734.8 542.5 1732.5 540.2 1731.2 537.1C1729.9 534.0 1729.8 530.9 1729.5 527.1C1729.2 523.4 1730.0 517.9 1729.5 514.6C1729.0 511.3 1727.5 509.8 1726.2 507.1C1725.0 504.4 1722.6 501.3 1722 498.4C1721.4 495.5 1721.8 492.7 1722.5 489.6C1723.2 486.5 1724.9 482.9 1726.2 479.6C1727.5 476.3 1729.9 472.4 1730.5 469.6C1731.1 466.8 1731.8 464.1 1730 462.6C1728.2 461.1 1721.7 460.9 1720 460.6Z" fill="#800000" stroke="#808080" stroke-width="1"/>
<path d="M1963.6 461.4C1965.0 461.1 1970.8 461.4 1972.3 459.9C1973.8 458.4 1973.4 455.3 1972.8 452.4C1972.2 449.5 1970.0 445.5 1968.5 442.4C1967.0 439.3 1964.6 436.3 1963.6 433.6C1962.6 430.9 1962.0 428.6 1962.3 426.1C1962.6 423.6 1963.6 421.1 1965.3 418.6C1967.0 416.1 1969.5 413.6 1972.3 411.2C1975.1 408.8 1978.5 406.0 1982.3 404.4C1986.0 402.8 1990.6 401.9 1994.8 401.7C1999.0 401.4 2003.1 401.9 2007.3 402.9C2011.5 403.8 2015.6 405.4 2019.8 407.4C2024.0 409.4 2028.6 412.5 2032.3 414.9C2036.0 417.3 2039.7 419.6 2042.2 421.9C2044.7 424.2 2046.6 426.0 2047.2 428.6C2047.8 431.2 2047.0 434.5 2046 437.4C2045.0 440.3 2042.4 443.2 2041 446.1C2039.6 449.0 2037.9 452.6 2037.7 454.9C2037.5 457.2 2038.1 458.8 2039.7 459.9C2041.3 461.0 2046.0 461.1 2047.2 461.4L2047.2 460.6C2046.0 460.9 2041.3 461.0 2039.7 462.1C2038.1 463.2 2037.5 464.8 2037.7 467.1C2037.9 469.4 2039.6 473.0 2041 475.9C2042.4 478.8 2045.0 481.7 2046 484.6C2047.0 487.5 2047.8 490.8 2047.2 493.4C2046.6 496.0 2044.7 497.8 2042.2 500.1C2039.7 502.4 2036.0 504.7 2032.3 507.1C2028.6 509.5 2024.0 512.6 2019.8 514.6C2015.6 516.6 2011.5 518.2 2007.3 519.1C2003.1 520.0 1999.0 520.5 1994.8 520.3C1990.6 520.0 1986.0 519.2 1982.3 517.6C1978.5 516.0 1975.1 513.2 1972.3 510.8C1969.5 508.4 1967.0 505.9 1965.3 503.4C1963.6 500.9 1962.6 498.4 1962.3 495.9C1962.0 493.4 1962.6 491.1 1963.6 488.4C1964.6 485.7 1967.0 482.7 1968.5 479.6C1970.0 476.5 1972.2 472.5 1972.8 469.6C1973.4 466.7 1973.8 463.6 1972.3 462.1C1970.8 460.6 1965.0 460.9 1963.6 460.6Z" fill="#800000" stroke="#808080" stroke-width="1"/>
<path d="M2144.7 461.4C2145.9 461.1 2150.4 460.9 2151.7 459.4C2152.9 457.9 2152.8 454.8 2152.2 452.4C2151.6 450.0 2149.9 447.6 2148.4 444.9C2146.9 442.2 2144.8 438.8 2143.4 436.1C2142.0 433.4 2140.5 430.6 2140.2 428.6C2139.9 426.7 2140.1 425.3 2141.7 424.4C2143.3 423.4 2145.9 423.2 2149.7 422.9C2153.5 422.6 2160.1 422.6 2164.7 422.4C2169.3 422.2 2172.9 422.5 2177.1 421.9C2181.2 421.3 2185.4 419.7 2189.6 418.6C2193.8 417.5 2197.9 416.3 2202.1 415.4C2206.3 414.5 2210.0 413.7 2214.6 413.2C2219.2 412.7 2223.8 412.5 2229.6 412.4C2235.4 412.3 2243.3 412.6 2249.6 412.4C2255.8 412.2 2261.7 411.2 2267.1 411.2C2272.5 411.2 2277.9 412.0 2282.1 412.4C2286.3 412.8 2290.1 413.2 2292.1 413.6C2294.1 414.0 2293.8 406.9 2294.1 414.9C2294.4 422.9 2294.1 453.6 2294.1 461.4L2294.1 460.6C2294.1 468.4 2294.4 499.1 2294.1 507.1C2293.8 515.1 2294.1 508.0 2292.1 508.4C2290.1 508.8 2286.3 509.2 2282.1 509.6C2277.9 510.0 2272.5 510.8 2267.1 510.8C2261.7 510.8 2255.8 509.8 2249.6 509.6C2243.3 509.4 2235.4 509.7 2229.6 509.6C2223.8 509.5 2219.2 509.3 2214.6 508.8C2210.0 508.3 2206.3 507.5 2202.1 506.6C2197.9 505.7 2193.8 504.5 2189.6 503.4C2185.4 502.3 2181.2 500.7 2177.1 500.1C2172.9 499.5 2169.3 499.8 2164.7 499.6C2160.1 499.4 2153.5 499.4 2149.7 499.1C2145.9 498.8 2143.3 498.6 2141.7 497.6C2140.1 496.7 2139.9 495.3 2140.2 493.4C2140.5 491.4 2142.0 488.6 2143.4 485.9C2144.8 483.2 2146.9 479.8 2148.4 477.1C2149.9 474.4 2151.6 472.0 2152.2 469.6C2152.8 467.2 2152.9 464.1 2151.7 462.6C2150.4 461.1 2145.9 460.9 2144.7 460.6Z" fill="#800000" stroke="#808080" stroke-width="1"/>
<path d="M136.2 384C140.8 383.1 150.1 381.3 164 378.7C177.9 376.1 202.0 371.8 219.4 368.3C236.8 364.8 252.8 360.5 268.2 357.7C283.6 354.9 301.0 352.6 311.9 351.3C322.8 350.1 327.3 350.4 333.7 350.2C340.1 350.0 343.5 349.7 350.5 350.2C357.5 350.7 367.4 351.6 375.8 353.2C384.2 354.8 392.6 357.2 401 359.9C409.4 362.6 420.3 366.8 426.2 369.5C432.1 372.2 432.9 373.8 436.3 376.2C439.7 378.6 444.7 382.5 446.4 383.8L446.4 385.5C443.3 388.4 432.7 399.4 427.9 403.1C423.1 406.8 422.3 406.3 417.8 407.7C413.3 409.1 408.0 410.4 401 411.5C394.0 412.6 386.2 414.1 375.8 414.6C365.4 415.1 349.5 415.0 338.8 414.6C328.1 414.2 323.7 413.8 311.9 412.4C300.1 411.0 283.6 409.0 268.2 406.5C252.8 404.0 236.8 400.3 219.4 397.2C202.0 394.1 177.9 390.1 164 388C150.1 385.9 140.8 385.2 136.2 384.6Z" fill="#800000" stroke="#808080" stroke-width="1"/>
<path d="M136.2 538C140.8 538.9 150.1 540.7 164 543.3C177.9 545.9 202.0 550.2 219.4 553.7C236.8 557.2 252.8 561.5 268.2 564.3C283.6 567.1 301.0 569.5 311.9 570.7C322.8 572.0 327.3 571.6 333.7 571.8C340.1 572.0 343.5 572.3 350.5 571.8C357.5 571.3 367.4 570.4 375.8 568.8C384.2 567.2 392.6 564.8 401 562.1C409.4 559.4 420.3 555.2 426.2 552.5C432.1 549.8 432.9 548.2 436.3 545.8C439.7 543.4 444.7 539.5 446.4 538.2L446.4 536.5C443.3 533.6 432.7 522.6 427.9 518.9C423.1 515.2 422.3 515.7 417.8 514.3C413.3 512.9 408.0 511.6 401 510.5C394.0 509.4 386.2 507.9 375.8 507.4C365.4 506.9 349.5 507.0 338.8 507.4C328.1 507.8 323.7 508.2 311.9 509.6C300.1 511.0 283.6 513.0 268.2 515.5C252.8 518.0 236.8 521.7 219.4 524.8C202.0 527.9 177.9 531.9 164 534C150.1 536.1 140.8 536.8 136.2 537.4Z" fill="#800000" stroke="#808080" stroke-width="1"/>
<polygon points="96,112.5 99,118 101,126 101.6,131 101,137 99,143 97.5,147.5 96,148" fill="#000080" stroke="#808080" stroke-width="1"/>
<polygon points="96,809.5 99,804 101,796 101.6,791 101,785 99,779 97.5,774.5 96,774" fill="#000080" stroke="#808080" stroke-width="1"/>
<path d="M564.5 60L564.5 72.5C565.6 73.0 570.0 74.0 571.2 75.5C572.4 77.0 572.7 79.0 571.9 81.2C571.1 83.4 568.0 86.6 566.2 88.7C564.4 90.8 563.7 91.0 561.2 93.7C558.7 96.4 552.7 102.3 551.2 105C549.8 107.7 551.0 108.1 552.5 110C554.0 111.9 556.3 113.5 560 116.2C563.7 118.9 569.9 122.7 574.9 126.2C579.9 129.7 584.7 133.7 589.9 137.4C595.1 141.2 601.2 144.7 606.2 148.7C611.2 152.7 615.1 156.8 619.9 161.2C624.7 165.6 629.9 170.5 634.9 174.9C639.9 179.3 644.9 183.5 649.9 187.4C654.9 191.3 659.9 195.3 664.9 198.6C669.9 201.9 674.9 204.7 679.9 207.4C684.9 210.1 689.5 212.5 694.9 214.9C700.3 217.3 706.5 219.8 712.3 221.9C718.1 224.0 724.4 226.4 729.8 227.4C735.2 228.4 739.8 228.0 744.8 228.1C749.8 228.2 755.6 228.1 759.8 227.9C764.0 227.7 765.6 227.7 769.8 226.9C774.0 226.1 779.8 224.3 784.8 222.9C789.8 221.5 794.8 220.3 799.8 218.6C804.8 216.8 809.8 214.7 814.8 212.4C819.8 210.1 824.8 207.6 829.8 204.9C834.8 202.2 839.7 199.0 844.7 196.1C849.7 193.2 854.7 189.9 859.7 187.4C864.7 184.9 869.7 182.9 874.7 181.2C879.7 179.5 884.7 178.0 889.7 177.4C894.7 176.8 899.7 176.7 904.7 177.4C909.7 178.2 914.7 180.0 919.7 181.9C924.7 183.8 929.7 185.9 934.7 188.7C939.7 191.5 944.7 195.1 949.7 198.6C954.7 202.1 959.7 206.0 964.7 209.9C969.7 213.8 975.0 218.4 979.6 221.9C984.2 225.4 987.5 227.1 992.1 231.1C996.7 235.1 1002.5 240.9 1007.1 246.1C1011.7 251.3 1015.4 256.7 1019.6 262.3C1023.8 267.9 1028.3 275.4 1032.1 279.8C1035.8 284.2 1038.3 286.0 1042.1 288.7C1045.8 291.4 1050.4 294.2 1054.6 296.2C1058.8 298.2 1062.5 299.8 1067.1 300.5C1071.7 301.2 1077.1 301.1 1082.1 300.5C1087.1 299.9 1092.4 298.0 1097.1 297C1101.8 296.0 1107.0 295.2 1110 294.5C1113.0 293.8 1111.7 293.1 1115 292.5C1118.3 291.9 1125.0 291.1 1130 291.2C1135.0 291.3 1140.0 292.0 1145 293C1150.0 294.0 1155.0 295.2 1160 297C1165.0 298.8 1169.9 301.1 1174.9 303.7C1179.9 306.3 1184.9 309.4 1189.9 312.5C1194.9 315.6 1200.3 319.6 1204.9 322.5C1209.5 325.4 1213.2 328.1 1217.4 330C1221.6 331.9 1225.7 333.6 1229.9 334.2C1234.1 334.8 1238.2 334.6 1242.4 333.7C1246.6 332.8 1250.7 331.0 1254.9 328.7C1259.1 326.4 1263.2 322.8 1267.4 320C1271.6 317.2 1275.7 314.0 1279.9 312C1284.1 310.0 1288.7 308.7 1292.4 308C1296.1 307.3 1298.6 307.2 1302.3 308C1306.0 308.8 1310.6 310.3 1314.8 312.5C1319.0 314.7 1323.1 318.3 1327.3 321.2C1331.5 324.1 1335.6 327.3 1339.8 330C1344.0 332.7 1348.1 335.6 1352.3 337.5C1356.5 339.4 1360.6 340.6 1364.8 341.2C1369.0 341.8 1373.1 341.6 1377.3 341.2C1381.5 340.8 1385.6 340.1 1389.8 338.7C1394.0 337.3 1398.5 334.4 1402.3 333C1406.0 331.6 1408.5 330.9 1412.3 330.5C1416.0 330.1 1420.6 329.8 1424.8 330.7C1429.0 331.6 1433.0 334.0 1437.2 336.2C1441.4 338.4 1446.0 341.0 1449.7 343.7C1453.5 346.4 1456.4 349.5 1459.7 352.4C1463.0 355.3 1466.4 358.3 1469.7 361.2C1473.0 364.1 1476.4 367.2 1479.7 369.9C1483.0 372.6 1486.4 375.5 1489.7 377.4C1493.0 379.3 1496.0 380.3 1499.7 381.2C1503.5 382.1 1507.2 382.6 1512.2 382.9C1517.2 383.2 1523.5 383.1 1529.7 382.9C1536.0 382.7 1542.6 382.4 1549.7 381.9C1556.8 381.4 1565.9 380.0 1572.1 379.9C1578.3 379.8 1581.7 380.8 1587.1 381.2C1592.5 381.6 1598.3 382.1 1604.6 382.4C1610.8 382.7 1617.9 382.8 1624.6 382.9C1631.3 383.0 1637.9 383.1 1644.6 382.9C1651.3 382.7 1657.9 382.7 1664.6 381.9C1671.3 381.1 1678.8 379.5 1684.6 377.9C1690.4 376.3 1697.0 373.4 1699.6 372.4C1702.2 371.4 1698.0 373.1 1700 371.9C1702.0 370.7 1707.9 368.1 1711.5 365.4C1715.1 362.6 1718.3 359.3 1721.7 355.4C1725.1 351.4 1728.4 346.3 1731.7 341.7C1735.0 337.1 1738.4 332.6 1741.7 328C1745.0 323.4 1748.2 318.4 1751.5 314.2C1754.8 310.0 1758.2 306.2 1761.2 303C1764.2 299.8 1766.7 297.0 1769.4 295.2C1772.1 293.4 1774.6 292.2 1777.4 292C1780.2 291.8 1782.9 292.4 1786.2 293.7C1789.5 295.0 1793.9 297.5 1797.4 300C1800.9 302.5 1804.1 305.6 1807.4 308.7C1810.7 311.8 1814.1 315.4 1817.4 318.7C1820.7 322.0 1824.1 325.8 1827.4 328.7C1830.7 331.6 1833.7 333.9 1837.4 336.2C1841.2 338.5 1845.7 340.2 1849.9 342.5C1854.1 344.8 1858.2 347.6 1862.4 349.9C1866.6 352.2 1870.7 354.3 1874.9 356.2C1879.1 358.1 1883.2 359.6 1887.4 361.2C1891.6 362.8 1895.8 364.9 1899.9 365.7C1904.1 366.5 1908.2 366.5 1912.3 366.2C1916.4 365.9 1920.6 364.9 1924.8 363.7C1929.0 362.4 1933.5 360.8 1937.3 358.7C1941.0 356.6 1944.4 353.7 1947.3 351.2C1950.2 348.7 1951.9 345.6 1954.8 343.7C1957.7 341.8 1961.5 341.2 1964.8 340C1968.1 338.8 1971.5 337.1 1974.8 336.2C1978.1 335.3 1981.5 334.6 1984.8 334.5C1988.1 334.4 1991.5 334.8 1994.8 335.5C1998.1 336.2 2001.5 337.8 2004.8 338.7C2008.1 339.6 2011.5 339.9 2014.8 341.2C2018.1 342.4 2021.9 343.9 2024.8 346.2C2027.7 348.5 2029.8 351.8 2032.3 354.9C2034.8 358.0 2037.2 362.0 2039.7 364.9C2042.2 367.8 2044.3 370.2 2047.2 372.4C2050.1 374.6 2053.4 376.4 2057.2 377.9C2060.9 379.4 2065.1 380.6 2069.7 381.2C2074.3 381.8 2079.7 381.4 2084.7 381.2C2089.7 381.0 2094.7 380.4 2099.7 379.9C2104.7 379.4 2109.7 378.8 2114.7 378.2C2119.7 377.6 2125.1 376.8 2129.7 376.2C2134.3 375.6 2138.4 375.2 2142.2 374.9C2145.9 374.6 2148.4 374.3 2152.2 374.4C2155.9 374.5 2160.1 375.0 2164.7 375.7C2169.3 376.4 2174.6 377.9 2179.6 378.7C2184.6 379.5 2189.6 380.1 2194.6 380.7C2199.6 381.3 2204.6 381.9 2209.6 382.4C2214.6 382.9 2219.6 383.3 2224.6 383.7C2229.6 384.1 2234.2 384.6 2239.6 384.9C2245.0 385.2 2251.3 385.4 2257.1 385.7C2262.9 386.0 2268.3 386.3 2274.6 386.7C2280.8 387.1 2291.3 387.7 2294.6 387.9L2300 387.9" fill="none" stroke="#808080" stroke-width="1"/>
<path d="M564.5 862L564.5 849.5C565.6 849.0 570.0 848.0 571.2 846.5C572.4 845.0 572.7 843.0 571.9 840.8C571.1 838.6 568.0 835.4 566.2 833.3C564.4 831.2 563.7 831.0 561.2 828.3C558.7 825.6 552.7 819.7 551.2 817C549.8 814.3 551.0 813.9 552.5 812C554.0 810.1 556.3 808.5 560 805.8C563.7 803.1 569.9 799.3 574.9 795.8C579.9 792.3 584.7 788.4 589.9 784.6C595.1 780.9 601.2 777.3 606.2 773.3C611.2 769.3 615.1 765.2 619.9 760.8C624.7 756.4 629.9 751.5 634.9 747.1C639.9 742.7 644.9 738.6 649.9 734.6C654.9 730.6 659.9 726.7 664.9 723.4C669.9 720.1 674.9 717.3 679.9 714.6C684.9 711.9 689.5 709.5 694.9 707.1C700.3 704.7 706.5 702.2 712.3 700.1C718.1 698.0 724.4 695.6 729.8 694.6C735.2 693.6 739.8 694.0 744.8 693.9C749.8 693.8 755.6 693.9 759.8 694.1C764.0 694.3 765.6 694.3 769.8 695.1C774.0 695.9 779.8 697.7 784.8 699.1C789.8 700.5 794.8 701.6 799.8 703.4C804.8 705.1 809.8 707.3 814.8 709.6C819.8 711.9 824.8 714.4 829.8 717.1C834.8 719.8 839.7 723.0 844.7 725.9C849.7 728.8 854.7 732.1 859.7 734.6C864.7 737.1 869.7 739.1 874.7 740.8C879.7 742.5 884.7 744.0 889.7 744.6C894.7 745.2 899.7 745.4 904.7 744.6C909.7 743.9 914.7 742.0 919.7 740.1C924.7 738.2 929.7 736.1 934.7 733.3C939.7 730.5 944.7 726.9 949.7 723.4C954.7 719.9 959.7 716.0 964.7 712.1C969.7 708.2 975.0 703.6 979.6 700.1C984.2 696.6 987.5 694.9 992.1 690.9C996.7 686.9 1002.5 681.1 1007.1 675.9C1011.7 670.7 1015.4 665.3 1019.6 659.7C1023.8 654.1 1028.3 646.6 1032.1 642.2C1035.8 637.8 1038.3 636.0 1042.1 633.3C1045.8 630.6 1050.4 627.8 1054.6 625.8C1058.8 623.8 1062.5 622.2 1067.1 621.5C1071.7 620.8 1077.1 620.9 1082.1 621.5C1087.1 622.1 1092.4 624.0 1097.1 625C1101.8 626.0 1107.0 626.8 1110 627.5C1113.0 628.2 1111.7 629.0 1115 629.5C1118.3 630.0 1125.0 630.9 1130 630.8C1135.0 630.7 1140.0 630.0 1145 629C1150.0 628.0 1155.0 626.8 1160 625C1165.0 623.2 1169.9 620.9 1174.9 618.3C1179.9 615.7 1184.9 612.6 1189.9 609.5C1194.9 606.4 1200.3 602.4 1204.9 599.5C1209.5 596.6 1213.2 594.0 1217.4 592C1221.6 590.0 1225.7 588.4 1229.9 587.8C1234.1 587.2 1238.2 587.4 1242.4 588.3C1246.6 589.2 1250.7 591.0 1254.9 593.3C1259.1 595.6 1263.2 599.2 1267.4 602C1271.6 604.8 1275.7 608.0 1279.9 610C1284.1 612.0 1288.7 613.3 1292.4 614C1296.1 614.7 1298.6 614.8 1302.3 614C1306.0 613.2 1310.6 611.7 1314.8 609.5C1319.0 607.3 1323.1 603.7 1327.3 600.8C1331.5 597.9 1335.6 594.7 1339.8 592C1344.0 589.3 1348.1 586.4 1352.3 584.5C1356.5 582.6 1360.6 581.4 1364.8 580.8C1369.0 580.2 1373.1 580.4 1377.3 580.8C1381.5 581.2 1385.6 581.9 1389.8 583.3C1394.0 584.7 1398.5 587.6 1402.3 589C1406.0 590.4 1408.5 591.1 1412.3 591.5C1416.0 591.9 1420.6 592.2 1424.8 591.3C1429.0 590.3 1433.0 588.0 1437.2 585.8C1441.4 583.6 1446.0 581.0 1449.7 578.3C1453.5 575.6 1456.4 572.5 1459.7 569.6C1463.0 566.7 1466.4 563.7 1469.7 560.8C1473.0 557.9 1476.4 554.8 1479.7 552.1C1483.0 549.4 1486.4 546.5 1489.7 544.6C1493.0 542.7 1496.0 541.7 1499.7 540.8C1503.5 539.9 1507.2 539.4 1512.2 539.1C1517.2 538.8 1523.5 538.9 1529.7 539.1C1536.0 539.3 1542.6 539.6 1549.7 540.1C1556.8 540.6 1565.9 542.0 1572.1 542.1C1578.3 542.2 1581.7 541.2 1587.1 540.8C1592.5 540.4 1598.3 539.9 1604.6 539.6C1610.8 539.3 1617.9 539.2 1624.6 539.1C1631.3 539.0 1637.9 538.9 1644.6 539.1C1651.3 539.3 1657.9 539.3 1664.6 540.1C1671.3 540.9 1678.8 542.5 1684.6 544.1C1690.4 545.7 1697.0 548.6 1699.6 549.6C1702.2 550.6 1698.0 548.9 1700 550.1C1702.0 551.3 1707.9 553.9 1711.5 556.6C1715.1 559.4 1718.3 562.7 1721.7 566.6C1725.1 570.5 1728.4 575.7 1731.7 580.3C1735.0 584.9 1738.4 589.4 1741.7 594C1745.0 598.6 1748.2 603.6 1751.5 607.8C1754.8 612.0 1758.2 615.8 1761.2 619C1764.2 622.2 1766.7 625.0 1769.4 626.8C1772.1 628.6 1774.6 629.8 1777.4 630C1780.2 630.2 1782.9 629.6 1786.2 628.3C1789.5 627.0 1793.9 624.5 1797.4 622C1800.9 619.5 1804.1 616.4 1807.4 613.3C1810.7 610.2 1814.1 606.6 1817.4 603.3C1820.7 600.0 1824.1 596.2 1827.4 593.3C1830.7 590.4 1833.7 588.1 1837.4 585.8C1841.2 583.5 1845.7 581.8 1849.9 579.5C1854.1 577.2 1858.2 574.4 1862.4 572.1C1866.6 569.8 1870.7 567.7 1874.9 565.8C1879.1 563.9 1883.2 562.4 1887.4 560.8C1891.6 559.2 1895.8 557.1 1899.9 556.3C1904.1 555.5 1908.2 555.5 1912.3 555.8C1916.4 556.1 1920.6 557.0 1924.8 558.3C1929.0 559.5 1933.5 561.2 1937.3 563.3C1941.0 565.4 1944.4 568.3 1947.3 570.8C1950.2 573.3 1951.9 576.4 1954.8 578.3C1957.7 580.2 1961.5 580.8 1964.8 582C1968.1 583.2 1971.5 584.9 1974.8 585.8C1978.1 586.7 1981.5 587.4 1984.8 587.5C1988.1 587.6 1991.5 587.2 1994.8 586.5C1998.1 585.8 2001.5 584.2 2004.8 583.3C2008.1 582.3 2011.5 582.0 2014.8 580.8C2018.1 579.5 2021.9 578.1 2024.8 575.8C2027.7 573.5 2029.8 570.2 2032.3 567.1C2034.8 564.0 2037.2 560.0 2039.7 557.1C2042.2 554.2 2044.3 551.8 2047.2 549.6C2050.1 547.4 2053.4 545.6 2057.2 544.1C2060.9 542.6 2065.1 541.3 2069.7 540.8C2074.3 540.2 2079.7 540.6 2084.7 540.8C2089.7 541.0 2094.7 541.6 2099.7 542.1C2104.7 542.6 2109.7 543.2 2114.7 543.8C2119.7 544.4 2125.1 545.2 2129.7 545.8C2134.3 546.3 2138.4 546.8 2142.2 547.1C2145.9 547.4 2148.4 547.7 2152.2 547.6C2155.9 547.5 2160.1 547.0 2164.7 546.3C2169.3 545.6 2174.6 544.1 2179.6 543.3C2184.6 542.5 2189.6 541.9 2194.6 541.3C2199.6 540.7 2204.6 540.1 2209.6 539.6C2214.6 539.1 2219.6 538.7 2224.6 538.3C2229.6 537.9 2234.2 537.4 2239.6 537.1C2245.0 536.8 2251.3 536.6 2257.1 536.3C2262.9 536.0 2268.3 535.7 2274.6 535.3C2280.8 534.9 2291.3 534.3 2294.6 534.1L2300 534.1" fill="none" stroke="#808080" stroke-width="1"/>
<path d="M717.3 60L717.3 72.5C717.5 73.0 718.5 73.6 718.6 75.5C718.7 77.4 717.4 81.3 717.8 83.7C718.2 86.1 719.1 87.5 721.1 90C723.1 92.5 727.1 95.8 729.8 98.7C732.5 101.6 734.6 104.6 737.3 107.5C740.0 110.4 742.8 113.6 746.1 116.2C749.4 118.8 753.3 121.0 757.3 123C761.2 125.0 764.4 127.1 769.8 127.9C775.2 128.7 784.0 128.5 789.8 127.9C795.6 127.3 799.4 126.2 804.8 124.5C810.2 122.8 816.9 120.5 822.3 118C827.7 115.5 832.2 112.5 837.2 109.5C842.2 106.5 847.2 103.0 852.2 100C857.2 97.0 862.2 93.4 867.2 91.2C872.2 89.0 877.6 87.5 882.2 86.7C886.8 85.9 890.1 85.7 894.7 86.2C899.3 86.7 904.7 88.0 909.7 89.5C914.7 91.0 919.7 92.8 924.7 95C929.7 97.2 934.3 100.1 939.7 102.5C945.1 104.9 951.4 107.0 957.2 109.5C963.0 112.0 969.6 115.4 974.6 117.5C979.6 119.6 981.3 120.1 987.1 122C992.9 123.9 1003.8 126.5 1009.6 128.7C1015.4 130.8 1018.4 132.2 1022.1 134.9C1025.8 137.6 1028.8 140.9 1032.1 144.9C1035.4 148.9 1039.2 154.5 1042.1 158.7C1045.0 162.9 1047.1 165.9 1049.6 169.9C1052.1 173.9 1054.6 178.5 1057.1 182.4C1059.6 186.3 1061.7 190.3 1064.6 193.6C1067.5 196.8 1070.4 199.6 1074.6 201.9C1078.8 204.2 1083.7 206.2 1089.6 207.4C1095.5 208.6 1105.8 208.5 1110 208.9C1114.2 209.3 1111.2 209.2 1115 209.9C1118.8 210.6 1126.7 211.6 1132.5 212.9C1138.3 214.2 1144.6 216.1 1150 217.9C1155.4 219.7 1160.0 221.6 1165 223.6C1170.0 225.6 1174.9 227.0 1179.9 229.9C1184.9 232.8 1190.3 237.8 1194.9 241.1C1199.5 244.4 1203.2 247.5 1207.4 249.9C1211.6 252.3 1216.2 254.4 1219.9 255.4C1223.7 256.4 1226.6 256.5 1229.9 256.1C1233.2 255.7 1236.2 254.6 1239.9 252.9C1243.7 251.2 1248.2 248.5 1252.4 246.1C1256.6 243.7 1261.2 240.6 1264.9 238.6C1268.7 236.6 1271.2 234.9 1274.9 234.1C1278.7 233.3 1283.2 232.8 1287.4 233.6C1291.6 234.3 1295.8 236.3 1299.9 238.6C1304.1 240.9 1308.2 243.9 1312.3 247.4C1316.4 250.9 1320.6 255.7 1324.8 259.9C1329.0 264.0 1333.1 268.6 1337.3 272.3C1341.5 276.0 1346.0 279.7 1349.8 282.3C1353.5 284.9 1356.5 286.8 1359.8 287.8C1363.1 288.9 1366.5 289.1 1369.8 288.6C1373.1 288.1 1376.0 286.7 1379.8 284.8C1383.5 282.9 1388.1 279.6 1392.3 277.3C1396.5 275.0 1401.0 272.4 1404.8 271.1C1408.5 269.9 1411.5 269.2 1414.8 269.8C1418.1 270.4 1421.7 272.9 1424.8 274.8C1427.9 276.7 1430.6 278.8 1433.5 281.1C1436.4 283.4 1438.7 285.6 1442.2 288.7C1445.7 291.8 1451.0 296.2 1454.7 300C1458.5 303.8 1461.4 307.7 1464.7 311.2C1468.0 314.7 1471.4 318.3 1474.7 321.2C1478.0 324.1 1481.4 326.4 1484.7 328.7C1488.0 331.0 1491.0 333.1 1494.7 335C1498.5 336.9 1502.6 338.8 1507.2 340C1511.8 341.2 1517.2 342.0 1522.2 342.5C1527.2 343.0 1532.2 343.2 1537.2 343.2C1542.2 343.2 1547.6 342.8 1552.2 342.5C1556.8 342.2 1560.1 341.2 1564.7 341.2C1569.3 341.2 1574.6 341.9 1579.6 342.5C1584.6 343.1 1589.2 343.9 1594.6 344.5C1600.0 345.1 1606.3 345.7 1612.1 346.2C1617.9 346.7 1623.8 347.1 1629.6 347.4C1635.4 347.7 1641.3 348.1 1647.1 347.9C1652.9 347.7 1658.8 347.3 1664.6 346.2C1670.4 345.1 1676.7 342.9 1682.1 341.2C1687.5 339.5 1694.1 337.2 1697.1 336.2C1700.1 335.2 1698.0 335.9 1700 335C1702.0 334.1 1706.2 332.7 1709 330.7C1711.8 328.7 1714.2 325.9 1716.7 323C1719.2 320.1 1722.0 316.6 1724.2 313C1726.5 309.4 1728.6 305.5 1730.2 301.7C1731.8 297.9 1732.8 293.6 1733.7 290C1734.6 286.4 1734.9 282.9 1735.5 280C1736.1 277.1 1736.5 275.2 1737.5 272.3C1738.5 269.4 1739.8 266.4 1741.2 262.3C1742.7 258.2 1744.1 251.6 1746.2 247.4C1748.3 243.2 1750.6 239.8 1753.7 237.4C1756.8 235.0 1761.5 233.5 1765 232.9C1768.5 232.3 1771.2 232.7 1774.9 233.6C1778.6 234.5 1783.2 236.1 1787.4 238.6C1791.6 241.1 1795.7 245.1 1799.9 248.6C1804.1 252.1 1808.7 255.9 1812.4 259.9C1816.2 263.8 1819.9 268.8 1822.4 272.3C1824.9 275.9 1825.3 278.2 1827.4 281.2C1829.5 284.1 1832.0 286.9 1834.9 290C1837.8 293.1 1841.6 296.9 1844.9 300C1848.2 303.1 1851.6 306.2 1854.9 308.7C1858.2 311.2 1861.2 313.1 1864.9 315C1868.7 316.9 1873.2 318.4 1877.4 320C1881.6 321.6 1885.8 323.4 1889.9 324.5C1894.1 325.6 1898.2 326.4 1902.3 326.7C1906.4 327.0 1910.6 326.8 1914.8 326.2C1919.0 325.6 1923.1 324.4 1927.3 323C1931.5 321.6 1935.6 319.3 1939.8 317.5C1944.0 315.7 1948.1 313.8 1952.3 312C1956.5 310.2 1961.0 308.2 1964.8 307C1968.5 305.8 1971.5 305.4 1974.8 305C1978.1 304.6 1981.5 304.3 1984.8 304.5C1988.1 304.7 1991.0 305.2 1994.8 306.2C1998.5 307.2 2003.1 309.0 2007.3 310.5C2011.5 312.0 2016.0 313.4 2019.8 315C2023.5 316.6 2026.9 318.1 2029.8 320C2032.7 321.9 2034.3 323.9 2037.2 326.2C2040.1 328.5 2043.9 331.2 2047.2 333.7C2050.5 336.2 2053.4 339.0 2057.2 341.2C2060.9 343.4 2065.5 345.5 2069.7 346.9C2073.9 348.3 2077.6 349.0 2082.2 349.4C2086.8 349.8 2092.2 349.5 2097.2 349.2C2102.2 348.9 2107.2 348.0 2112.2 347.4C2117.2 346.8 2122.2 346.1 2127.2 345.5C2132.2 344.9 2137.6 344.3 2142.2 344C2146.8 343.7 2150.5 343.4 2154.7 343.7C2158.8 343.9 2162.9 344.5 2167.1 345.5C2171.2 346.5 2175.4 348.3 2179.6 349.9C2183.8 351.5 2187.9 353.4 2192.1 354.9C2196.3 356.4 2200.0 357.5 2204.6 358.7C2209.2 359.9 2214.2 361.0 2219.6 361.9C2225.0 362.8 2230.8 363.6 2237.1 364.2C2243.3 364.8 2250.8 365.1 2257.1 365.4C2263.3 365.7 2268.3 366.0 2274.6 366.2C2280.8 366.4 2291.3 366.6 2294.6 366.7L2300 366.7" fill="none" stroke="#808080" stroke-width="1"/>
<path d="M717.3 862L717.3 849.5C717.5 849.0 718.5 848.4 718.6 846.5C718.7 844.6 717.4 840.7 717.8 838.3C718.2 835.9 719.1 834.5 721.1 832C723.1 829.5 727.1 826.2 729.8 823.3C732.5 820.4 734.6 817.4 737.3 814.5C740.0 811.6 742.8 808.4 746.1 805.8C749.4 803.2 753.3 801.0 757.3 799C761.2 797.0 764.4 794.9 769.8 794.1C775.2 793.3 784.0 793.5 789.8 794.1C795.6 794.7 799.4 795.9 804.8 797.5C810.2 799.1 816.9 801.5 822.3 804C827.7 806.5 832.2 809.5 837.2 812.5C842.2 815.5 847.2 819.0 852.2 822C857.2 825.0 862.2 828.6 867.2 830.8C872.2 833.0 877.6 834.5 882.2 835.3C886.8 836.1 890.1 836.3 894.7 835.8C899.3 835.3 904.7 834.0 909.7 832.5C914.7 831.0 919.7 829.2 924.7 827C929.7 824.8 934.3 821.9 939.7 819.5C945.1 817.1 951.4 815.0 957.2 812.5C963.0 810.0 969.6 806.6 974.6 804.5C979.6 802.4 981.3 801.9 987.1 800C992.9 798.1 1003.8 795.4 1009.6 793.3C1015.4 791.1 1018.4 789.8 1022.1 787.1C1025.8 784.4 1028.8 781.1 1032.1 777.1C1035.4 773.1 1039.2 767.5 1042.1 763.3C1045.0 759.1 1047.1 756.0 1049.6 752.1C1052.1 748.2 1054.6 743.6 1057.1 739.6C1059.6 735.6 1061.7 731.6 1064.6 728.4C1067.5 725.1 1070.4 722.4 1074.6 720.1C1078.8 717.8 1083.7 715.8 1089.6 714.6C1095.5 713.4 1105.8 713.5 1110 713.1C1114.2 712.7 1111.2 712.8 1115 712.1C1118.8 711.4 1126.7 710.4 1132.5 709.1C1138.3 707.8 1144.6 705.9 1150 704.1C1155.4 702.3 1160.0 700.4 1165 698.4C1170.0 696.4 1174.9 695.0 1179.9 692.1C1184.9 689.2 1190.3 684.2 1194.9 680.9C1199.5 677.6 1203.2 674.5 1207.4 672.1C1211.6 669.7 1216.2 667.6 1219.9 666.6C1223.7 665.6 1226.6 665.5 1229.9 665.9C1233.2 666.3 1236.2 667.4 1239.9 669.1C1243.7 670.8 1248.2 673.5 1252.4 675.9C1256.6 678.3 1261.2 681.4 1264.9 683.4C1268.7 685.4 1271.2 687.1 1274.9 687.9C1278.7 688.7 1283.2 689.1 1287.4 688.4C1291.6 687.6 1295.8 685.7 1299.9 683.4C1304.1 681.1 1308.2 678.1 1312.3 674.6C1316.4 671.1 1320.6 666.2 1324.8 662.1C1329.0 658.0 1333.1 653.4 1337.3 649.7C1341.5 646.0 1346.0 642.3 1349.8 639.7C1353.5 637.1 1356.5 635.2 1359.8 634.2C1363.1 633.2 1366.5 632.9 1369.8 633.4C1373.1 633.9 1376.0 635.3 1379.8 637.2C1383.5 639.1 1388.1 642.4 1392.3 644.7C1396.5 647.0 1401.0 649.6 1404.8 650.9C1408.5 652.1 1411.5 652.8 1414.8 652.2C1418.1 651.6 1421.7 649.1 1424.8 647.2C1427.9 645.3 1430.6 643.2 1433.5 640.9C1436.4 638.6 1438.7 636.4 1442.2 633.3C1445.7 630.1 1451.0 625.8 1454.7 622C1458.5 618.2 1461.4 614.3 1464.7 610.8C1468.0 607.3 1471.4 603.7 1474.7 600.8C1478.0 597.9 1481.4 595.6 1484.7 593.3C1488.0 591.0 1491.0 588.9 1494.7 587C1498.5 585.1 1502.6 583.2 1507.2 582C1511.8 580.8 1517.2 580.0 1522.2 579.5C1527.2 579.0 1532.2 578.8 1537.2 578.8C1542.2 578.8 1547.6 579.2 1552.2 579.5C1556.8 579.8 1560.1 580.8 1564.7 580.8C1569.3 580.8 1574.6 580.0 1579.6 579.5C1584.6 579.0 1589.2 578.1 1594.6 577.5C1600.0 576.9 1606.3 576.3 1612.1 575.8C1617.9 575.3 1623.8 574.9 1629.6 574.6C1635.4 574.3 1641.3 573.9 1647.1 574.1C1652.9 574.3 1658.8 574.7 1664.6 575.8C1670.4 576.9 1676.7 579.1 1682.1 580.8C1687.5 582.5 1694.1 584.8 1697.1 585.8C1700.1 586.8 1698.0 586.1 1700 587C1702.0 587.9 1706.2 589.3 1709 591.3C1711.8 593.3 1714.2 596.0 1716.7 599C1719.2 602.0 1722.0 605.5 1724.2 609C1726.5 612.5 1728.6 616.5 1730.2 620.3C1731.8 624.1 1732.8 628.4 1733.7 632C1734.6 635.6 1734.9 639.0 1735.5 642C1736.1 645.0 1736.5 646.8 1737.5 649.7C1738.5 652.7 1739.8 655.6 1741.2 659.7C1742.7 663.9 1744.1 670.5 1746.2 674.6C1748.3 678.8 1750.6 682.2 1753.7 684.6C1756.8 687.0 1761.5 688.5 1765 689.1C1768.5 689.7 1771.2 689.4 1774.9 688.4C1778.6 687.4 1783.2 685.9 1787.4 683.4C1791.6 680.9 1795.7 676.9 1799.9 673.4C1804.1 669.9 1808.7 666.0 1812.4 662.1C1816.2 658.2 1819.9 653.2 1822.4 649.7C1824.9 646.2 1825.3 643.8 1827.4 640.8C1829.5 637.8 1832.0 635.1 1834.9 632C1837.8 628.9 1841.6 625.1 1844.9 622C1848.2 618.9 1851.6 615.8 1854.9 613.3C1858.2 610.8 1861.2 608.9 1864.9 607C1868.7 605.1 1873.2 603.6 1877.4 602C1881.6 600.4 1885.8 598.6 1889.9 597.5C1894.1 596.4 1898.2 595.6 1902.3 595.3C1906.4 595.0 1910.6 595.2 1914.8 595.8C1919.0 596.4 1923.1 597.5 1927.3 599C1931.5 600.5 1935.6 602.7 1939.8 604.5C1944.0 606.3 1948.1 608.2 1952.3 610C1956.5 611.8 1961.0 613.8 1964.8 615C1968.5 616.2 1971.5 616.6 1974.8 617C1978.1 617.4 1981.5 617.7 1984.8 617.5C1988.1 617.3 1991.0 616.8 1994.8 615.8C1998.5 614.8 2003.1 613.0 2007.3 611.5C2011.5 610.0 2016.0 608.6 2019.8 607C2023.5 605.4 2026.9 603.9 2029.8 602C2032.7 600.1 2034.3 598.1 2037.2 595.8C2040.1 593.5 2043.9 590.8 2047.2 588.3C2050.5 585.8 2053.4 583.0 2057.2 580.8C2060.9 578.6 2065.5 576.5 2069.7 575.1C2073.9 573.7 2077.6 573.0 2082.2 572.6C2086.8 572.2 2092.2 572.5 2097.2 572.8C2102.2 573.1 2107.2 574.0 2112.2 574.6C2117.2 575.2 2122.2 575.9 2127.2 576.5C2132.2 577.1 2137.6 577.7 2142.2 578C2146.8 578.3 2150.5 578.5 2154.7 578.3C2158.8 578.0 2162.9 577.5 2167.1 576.5C2171.2 575.5 2175.4 573.7 2179.6 572.1C2183.8 570.5 2187.9 568.6 2192.1 567.1C2196.3 565.6 2200.0 564.5 2204.6 563.3C2209.2 562.1 2214.2 561.0 2219.6 560.1C2225.0 559.2 2230.8 558.4 2237.1 557.8C2243.3 557.2 2250.8 556.9 2257.1 556.6C2263.3 556.3 2268.3 556.0 2274.6 555.8C2280.8 555.6 2291.3 555.4 2294.6 555.3L2300 555.3" fill="none" stroke="#808080" stroke-width="1"/>
<path d="M1133.7 60L1133.7 72.5C1134.8 73.0 1138.8 73.8 1140 75.5C1141.2 77.2 1141.4 80.3 1141.2 82.5C1141.0 84.7 1139.5 86.2 1138.7 88.7C1137.9 91.2 1136.4 94.6 1136.2 97.5C1136.0 100.4 1136.2 102.5 1137.5 106.2C1138.8 110.0 1141.6 115.8 1143.7 120C1145.8 124.2 1147.7 127.7 1150 131.2C1152.3 134.7 1154.8 137.9 1157.5 141.2C1160.2 144.5 1163.3 148.1 1166.2 151.2C1169.1 154.3 1171.8 157.2 1174.9 159.9C1178.0 162.6 1181.6 164.7 1184.9 167.4C1188.2 170.1 1191.6 173.5 1194.9 176.2C1198.2 178.9 1201.2 181.8 1204.9 183.7C1208.7 185.6 1213.2 186.8 1217.4 187.4C1221.6 188.0 1226.2 188.0 1229.9 187.4C1233.7 186.8 1236.6 185.4 1239.9 183.7C1243.2 182.0 1246.2 179.5 1249.9 177.4C1253.7 175.3 1258.2 173.0 1262.4 171.2C1266.6 169.4 1271.0 167.5 1274.9 166.7C1278.9 165.9 1282.3 165.4 1286.1 166.2C1289.8 166.9 1293.9 168.5 1297.4 171.2C1300.9 173.9 1304.0 178.0 1307.3 182.4C1310.6 186.8 1313.5 191.8 1317.3 197.4C1321.0 203.0 1326.0 211.1 1329.8 216.1C1333.5 221.1 1336.5 224.3 1339.8 227.4C1343.1 230.5 1346.5 233.4 1349.8 234.9C1353.1 236.4 1356.5 236.4 1359.8 236.4C1363.1 236.4 1366.9 236.0 1369.8 234.9C1372.7 233.8 1374.4 231.6 1377.3 229.9C1380.2 228.2 1383.5 226.6 1387.3 224.9C1391.0 223.2 1395.6 221.0 1399.8 219.9C1404.0 218.8 1409.0 218.2 1412.3 218.6C1415.6 219.0 1416.9 220.1 1419.8 222.4C1422.7 224.7 1426.1 228.2 1429.8 232.4C1433.5 236.6 1438.9 243.2 1442.2 247.4C1445.5 251.6 1446.8 253.9 1449.7 257.4C1452.6 260.9 1456.4 264.9 1459.7 268.6C1463.0 272.3 1466.4 276.2 1469.7 279.8C1473.0 283.4 1476.4 286.9 1479.7 290C1483.0 293.1 1486.4 296.2 1489.7 298.7C1493.0 301.2 1496.0 303.2 1499.7 305C1503.5 306.8 1508.0 308.2 1512.2 309.5C1516.4 310.8 1520.1 312.1 1524.7 313C1529.3 313.9 1534.7 314.8 1539.7 315C1544.7 315.2 1549.7 314.8 1554.7 314.5C1559.7 314.2 1564.6 313.2 1569.6 313.2C1574.6 313.2 1579.6 314.0 1584.6 314.5C1589.6 315.0 1594.6 315.6 1599.6 316.2C1604.6 316.8 1609.6 317.4 1614.6 318C1619.6 318.6 1624.2 319.2 1629.6 319.5C1635.0 319.8 1641.3 320.1 1647.1 320C1652.9 319.9 1659.2 319.5 1664.6 318.7C1670.0 317.9 1674.6 316.5 1679.6 315C1684.6 313.5 1690.4 311.4 1694.6 309.5C1698.8 307.6 1703.6 304.3 1704.5 303.7C1705.4 303.1 1700.0 306.1 1700 306C1700.0 305.9 1703.0 304.3 1704.5 303C1706.0 301.7 1707.5 300.5 1709 298C1710.5 295.5 1712.0 291.6 1713.3 288.2C1714.5 284.8 1715.5 281.0 1716.5 277.4C1717.5 273.8 1718.4 269.6 1719.2 266.5C1720.0 263.4 1720.3 262.4 1721.2 258.5C1722.1 254.6 1723.4 247.9 1724.4 242.9C1725.4 237.9 1725.8 232.5 1727 228.6C1728.2 224.7 1729.8 222.8 1731.6 219.5C1733.4 216.2 1735.3 212.7 1738.1 209C1740.9 205.3 1745.0 199.9 1748.5 197.3C1752.0 194.7 1755.4 194.0 1758.9 193.4C1762.4 192.8 1765.8 193.2 1769.3 193.8C1772.8 194.5 1776.9 196.1 1779.9 197.3C1782.9 198.5 1784.1 199.2 1787.4 201.1C1790.7 203.0 1795.7 205.9 1799.9 208.6C1804.1 211.3 1808.2 214.2 1812.4 217.4C1816.6 220.6 1820.7 224.4 1824.9 227.9C1829.1 231.4 1833.2 234.9 1837.4 238.6C1841.6 242.3 1845.7 245.9 1849.9 249.9C1854.1 253.9 1858.7 257.3 1862.4 262.3C1866.2 267.3 1868.7 275.8 1872.4 280C1876.2 284.2 1880.7 285.2 1884.9 287.5C1889.1 289.8 1893.2 292.4 1897.4 293.7C1901.6 295.0 1905.7 295.6 1909.8 295.5C1913.9 295.4 1918.1 294.3 1922.3 293C1926.5 291.7 1930.2 289.5 1934.8 287.5C1939.4 285.5 1945.6 283.4 1949.8 281.2C1954.0 279.0 1956.0 276.2 1959.8 274.3C1963.5 272.4 1968.5 270.6 1972.3 269.8C1976.0 269.0 1978.5 268.9 1982.3 269.3C1986.0 269.7 1990.6 270.8 1994.8 272.3C1999.0 273.9 2002.3 276.7 2007.3 278.6C2012.3 280.5 2020.2 281.6 2024.8 283.7C2029.4 285.8 2031.4 288.5 2034.7 291.2C2038.0 293.9 2041.4 297.4 2044.7 300C2048.0 302.6 2050.9 305.2 2054.7 307C2058.4 308.8 2062.6 309.8 2067.2 310.5C2071.8 311.2 2077.2 311.3 2082.2 311.2C2087.2 311.1 2092.2 310.5 2097.2 310C2102.2 309.5 2107.2 308.7 2112.2 308.2C2117.2 307.7 2122.2 307.2 2127.2 307C2132.2 306.8 2137.6 306.7 2142.2 307C2146.8 307.3 2150.5 307.6 2154.7 308.7C2158.8 309.8 2162.9 311.6 2167.1 313.7C2171.2 315.8 2175.4 318.7 2179.6 321.2C2183.8 323.7 2187.9 326.4 2192.1 328.7C2196.3 331.0 2200.0 333.2 2204.6 335C2209.2 336.8 2214.2 338.2 2219.6 339.5C2225.0 340.8 2230.8 341.7 2237.1 342.5C2243.3 343.3 2250.8 344.0 2257.1 344.5C2263.3 345.0 2268.3 345.3 2274.6 345.5C2280.8 345.7 2291.3 345.5 2294.6 345.5L2300 345.5" fill="none" stroke="#808080" stroke-width="1"/>
<path d="M1133.7 862L1133.7 849.5C1134.8 849.0 1138.8 848.2 1140 846.5C1141.2 844.8 1141.4 841.7 1141.2 839.5C1141.0 837.3 1139.5 835.8 1138.7 833.3C1137.9 830.8 1136.4 827.4 1136.2 824.5C1136.0 821.6 1136.2 819.5 1137.5 815.8C1138.8 812.0 1141.6 806.2 1143.7 802C1145.8 797.8 1147.7 794.3 1150 790.8C1152.3 787.3 1154.8 784.1 1157.5 780.8C1160.2 777.5 1163.3 773.9 1166.2 770.8C1169.1 767.7 1171.8 764.8 1174.9 762.1C1178.0 759.4 1181.6 757.3 1184.9 754.6C1188.2 751.9 1191.6 748.5 1194.9 745.8C1198.2 743.1 1201.2 740.2 1204.9 738.3C1208.7 736.4 1213.2 735.2 1217.4 734.6C1221.6 734.0 1226.2 734.0 1229.9 734.6C1233.7 735.2 1236.6 736.6 1239.9 738.3C1243.2 740.0 1246.2 742.5 1249.9 744.6C1253.7 746.7 1258.2 749.0 1262.4 750.8C1266.6 752.6 1271.0 754.5 1274.9 755.3C1278.9 756.1 1282.3 756.5 1286.1 755.8C1289.8 755.0 1293.9 753.5 1297.4 750.8C1300.9 748.1 1304.0 744.0 1307.3 739.6C1310.6 735.2 1313.5 730.2 1317.3 724.6C1321.0 719.0 1326.0 710.9 1329.8 705.9C1333.5 700.9 1336.5 697.7 1339.8 694.6C1343.1 691.5 1346.5 688.6 1349.8 687.1C1353.1 685.6 1356.5 685.6 1359.8 685.6C1363.1 685.6 1366.9 686.0 1369.8 687.1C1372.7 688.2 1374.4 690.4 1377.3 692.1C1380.2 693.8 1383.5 695.4 1387.3 697.1C1391.0 698.8 1395.6 701.1 1399.8 702.1C1404.0 703.1 1409.0 703.8 1412.3 703.4C1415.6 703.0 1416.9 701.9 1419.8 699.6C1422.7 697.3 1426.1 693.8 1429.8 689.6C1433.5 685.4 1438.9 678.8 1442.2 674.6C1445.5 670.4 1446.8 668.1 1449.7 664.6C1452.6 661.1 1456.4 657.1 1459.7 653.4C1463.0 649.7 1466.4 645.8 1469.7 642.2C1473.0 638.6 1476.4 635.1 1479.7 632C1483.0 628.9 1486.4 625.8 1489.7 623.3C1493.0 620.8 1496.0 618.8 1499.7 617C1503.5 615.2 1508.0 613.8 1512.2 612.5C1516.4 611.2 1520.1 609.9 1524.7 609C1529.3 608.1 1534.7 607.2 1539.7 607C1544.7 606.8 1549.7 607.2 1554.7 607.5C1559.7 607.8 1564.6 608.8 1569.6 608.8C1574.6 608.8 1579.6 608.0 1584.6 607.5C1589.6 607.0 1594.6 606.4 1599.6 605.8C1604.6 605.2 1609.6 604.5 1614.6 604C1619.6 603.5 1624.2 602.8 1629.6 602.5C1635.0 602.2 1641.3 601.9 1647.1 602C1652.9 602.1 1659.2 602.5 1664.6 603.3C1670.0 604.1 1674.6 605.5 1679.6 607C1684.6 608.5 1690.4 610.6 1694.6 612.5C1698.8 614.4 1703.6 617.7 1704.5 618.3C1705.4 618.9 1700.0 615.9 1700 616C1700.0 616.1 1703.0 617.7 1704.5 619C1706.0 620.3 1707.5 621.5 1709 624C1710.5 626.5 1712.0 630.4 1713.3 633.8C1714.5 637.2 1715.5 641.0 1716.5 644.6C1717.5 648.2 1718.4 652.4 1719.2 655.5C1720.0 658.6 1720.3 659.6 1721.2 663.5C1722.1 667.4 1723.4 674.1 1724.4 679.1C1725.4 684.1 1725.8 689.5 1727 693.4C1728.2 697.3 1729.8 699.2 1731.6 702.5C1733.4 705.8 1735.3 709.3 1738.1 713C1740.9 716.7 1745.0 722.1 1748.5 724.7C1752.0 727.3 1755.4 728.0 1758.9 728.6C1762.4 729.2 1765.8 728.9 1769.3 728.2C1772.8 727.6 1776.9 725.9 1779.9 724.7C1782.9 723.5 1784.1 722.8 1787.4 720.9C1790.7 719.0 1795.7 716.1 1799.9 713.4C1804.1 710.7 1808.2 707.8 1812.4 704.6C1816.6 701.4 1820.7 697.6 1824.9 694.1C1829.1 690.6 1833.2 687.1 1837.4 683.4C1841.6 679.7 1845.7 676.0 1849.9 672.1C1854.1 668.2 1858.7 664.7 1862.4 659.7C1866.2 654.7 1868.7 646.2 1872.4 642C1876.2 637.8 1880.7 636.8 1884.9 634.5C1889.1 632.2 1893.2 629.6 1897.4 628.3C1901.6 627.0 1905.7 626.4 1909.8 626.5C1913.9 626.6 1918.1 627.7 1922.3 629C1926.5 630.3 1930.2 632.5 1934.8 634.5C1939.4 636.5 1945.6 638.6 1949.8 640.8C1954.0 643.0 1956.0 645.8 1959.8 647.7C1963.5 649.6 1968.5 651.4 1972.3 652.2C1976.0 653.0 1978.5 653.1 1982.3 652.7C1986.0 652.3 1990.6 651.2 1994.8 649.7C1999.0 648.2 2002.3 645.3 2007.3 643.4C2012.3 641.5 2020.2 640.4 2024.8 638.3C2029.4 636.2 2031.4 633.5 2034.7 630.8C2038.0 628.1 2041.4 624.6 2044.7 622C2048.0 619.4 2050.9 616.8 2054.7 615C2058.4 613.2 2062.6 612.2 2067.2 611.5C2071.8 610.8 2077.2 610.7 2082.2 610.8C2087.2 610.9 2092.2 611.5 2097.2 612C2102.2 612.5 2107.2 613.3 2112.2 613.8C2117.2 614.3 2122.2 614.8 2127.2 615C2132.2 615.2 2137.6 615.3 2142.2 615C2146.8 614.7 2150.5 614.4 2154.7 613.3C2158.8 612.2 2162.9 610.4 2167.1 608.3C2171.2 606.2 2175.4 603.3 2179.6 600.8C2183.8 598.3 2187.9 595.6 2192.1 593.3C2196.3 591.0 2200.0 588.8 2204.6 587C2209.2 585.2 2214.2 583.8 2219.6 582.5C2225.0 581.2 2230.8 580.3 2237.1 579.5C2243.3 578.7 2250.8 578.0 2257.1 577.5C2263.3 577.0 2268.3 576.7 2274.6 576.5C2280.8 576.3 2291.3 576.5 2294.6 576.5L2300 576.5" fill="none" stroke="#808080" stroke-width="1"/>
<path d="M1193.7 60L1193.7 72.5C1194.5 73.0 1197.8 73.8 1198.7 75.5C1199.7 77.2 1199.8 80.3 1199.4 82.5C1199.0 84.7 1197.0 86.6 1196.2 88.7C1195.4 90.8 1194.4 92.5 1194.4 95C1194.4 97.5 1194.9 100.6 1196.2 103.7C1197.5 106.8 1199.7 110.8 1202.4 113.7C1205.1 116.6 1209.1 119.4 1212.4 121.2C1215.7 123.0 1218.7 124.0 1222.4 124.5C1226.2 125.0 1230.3 124.8 1234.9 124C1239.5 123.2 1244.9 121.5 1249.9 120C1254.9 118.5 1260.3 116.2 1264.9 115C1269.5 113.8 1273.7 113.1 1277.4 112.5C1281.2 111.9 1283.7 111.0 1287.4 111.2C1291.2 111.4 1296.6 112.5 1299.9 113.7C1303.2 115.0 1304.4 116.2 1307.3 118.7C1310.2 121.2 1314.4 124.7 1317.3 128.7C1320.2 132.6 1322.3 137.4 1324.8 142.4C1327.3 147.4 1329.8 153.9 1332.3 158.7C1334.8 163.5 1337.5 167.2 1339.8 171.2C1342.1 175.1 1344.0 179.5 1346.1 182.4C1348.2 185.3 1349.6 187.4 1352.3 188.7C1355.0 189.9 1359.0 190.1 1362.3 189.9C1365.6 189.7 1368.5 188.6 1372.3 187.4C1376.0 186.2 1380.6 184.2 1384.8 182.9C1389.0 181.7 1393.1 180.5 1397.3 179.9C1401.5 179.3 1406.0 178.6 1409.8 179.4C1413.5 180.2 1416.5 182.3 1419.8 184.9C1423.1 187.5 1426.5 191.4 1429.8 194.9C1433.1 198.4 1436.4 202.6 1439.7 206.1C1443.0 209.6 1446.4 212.3 1449.7 216.1C1453.0 219.8 1456.4 224.2 1459.7 228.6C1463.0 233.0 1466.8 238.2 1469.7 242.4C1472.6 246.6 1474.7 250.5 1477.2 253.6C1479.7 256.7 1481.8 258.6 1484.7 261.1C1487.6 263.6 1490.5 266.3 1494.7 268.6C1498.9 270.9 1504.7 272.9 1509.7 274.8C1514.7 276.7 1519.7 278.6 1524.7 279.8C1529.7 281.1 1535.5 282.1 1539.7 282.3C1543.9 282.5 1546.0 281.5 1549.7 281.1C1553.5 280.7 1558.1 279.9 1562.2 279.8C1566.3 279.7 1570.4 279.9 1574.6 280.3C1578.8 280.7 1582.9 281.8 1587.1 282.3C1591.3 282.9 1595.0 283.0 1599.6 283.6C1604.2 284.2 1609.6 285.3 1614.6 286.1C1619.6 286.9 1625.5 287.7 1629.6 288.6C1633.7 289.5 1635.5 290.7 1639 291.5C1642.5 292.3 1644.9 293.2 1650.4 293.6C1655.9 294.0 1667.1 294.1 1672 293.6C1676.9 293.1 1677.3 291.8 1679.7 290.6C1682.1 289.4 1683.9 288.7 1686.2 286.6C1688.5 284.5 1691.7 280.7 1693.8 278C1695.9 275.3 1697.4 273.0 1699 270.2C1700.6 267.4 1702.6 264.4 1703.6 261.1C1704.6 257.9 1704.0 255.0 1704.9 250.7C1705.8 246.4 1707.6 239.0 1708.8 235.1C1710.0 231.2 1710.9 230.8 1712.1 227.3C1713.3 223.8 1714.3 219.1 1716 214.3C1717.7 209.5 1720.3 203.8 1722.5 198.6C1724.7 193.4 1727.2 186.6 1729 183C1730.8 179.4 1731.5 179.9 1733 177C1734.5 174.1 1736.2 168.4 1738.1 165.4C1740.0 162.4 1742.0 160.9 1744.6 158.9C1747.2 156.9 1750.5 154.9 1753.7 153.7C1757.0 152.5 1760.8 151.9 1764.1 151.8C1767.3 151.7 1770.6 152.3 1773.2 153.1C1775.8 153.8 1777.8 155.4 1779.9 156.3C1782.0 157.2 1783.0 156.7 1785.8 158.5C1788.6 160.3 1792.6 163.9 1797 167.2C1801.4 170.5 1807.4 174.8 1812 178.5C1816.6 182.2 1820.2 186.2 1824.4 189.7C1828.6 193.2 1832.7 196.4 1836.9 199.7C1841.1 203.0 1845.2 206.3 1849.4 209.6C1853.6 212.9 1857.7 216.3 1861.8 219.6C1865.9 222.9 1869.7 226.7 1874.3 229.6C1878.9 232.5 1884.2 234.4 1889.3 237.1C1894.4 239.8 1900.8 243.1 1905 245.8C1909.2 248.6 1911.5 252.2 1914.8 253.6C1918.1 255.0 1921.5 254.6 1924.8 254.1C1928.1 253.6 1931.5 252.2 1934.8 250.4C1938.1 248.7 1941.0 246.2 1944.8 243.6C1948.5 241.0 1953.1 237.6 1957.3 234.9C1961.5 232.2 1966.0 229.1 1969.8 227.4C1973.5 225.7 1976.5 225.0 1979.8 224.9C1983.1 224.8 1986.5 225.7 1989.8 226.9C1993.1 228.2 1996.0 230.0 1999.8 232.4C2003.5 234.8 2008.1 238.1 2012.3 241.1C2016.5 244.1 2020.6 247.3 2024.8 250.4C2029.0 253.5 2033.1 256.9 2037.2 259.9C2041.3 262.9 2045.9 266.3 2049.7 268.6C2053.4 270.9 2055.5 272.4 2059.7 273.6C2063.9 274.9 2069.3 275.5 2074.7 276.1C2080.1 276.7 2086.4 277.2 2092.2 277.3C2098.0 277.4 2103.9 276.9 2109.7 276.8C2115.5 276.7 2121.4 276.6 2127.2 276.8C2133.0 277.0 2139.7 277.3 2144.7 277.8C2149.7 278.3 2153.5 278.8 2157.2 279.8C2160.9 280.8 2163.8 282.0 2167.1 283.7C2170.4 285.4 2173.8 287.7 2177.1 290C2180.4 292.3 2183.8 295.0 2187.1 297.5C2190.4 300.0 2193.8 302.9 2197.1 305C2200.4 307.1 2203.3 308.8 2207.1 310C2210.8 311.2 2215.0 312.2 2219.6 312.5C2224.2 312.8 2229.6 312.4 2234.6 312C2239.6 311.6 2244.6 310.8 2249.6 310C2254.6 309.2 2260.0 308.3 2264.6 307.5C2269.2 306.7 2273.6 306.2 2277.1 305C2280.6 303.8 2283.3 301.6 2285.8 300C2288.3 298.4 2290.6 296.6 2292.1 295.5C2293.6 294.4 2294.2 294.0 2294.6 293.7L2300 293.7" fill="none" stroke="#808080" stroke-width="1"/>
<path d="M1193.7 862L1193.7 849.5C1194.5 849.0 1197.8 848.2 1198.7 846.5C1199.7 844.8 1199.8 841.7 1199.4 839.5C1199.0 837.3 1197.0 835.4 1196.2 833.3C1195.4 831.2 1194.4 829.5 1194.4 827C1194.4 824.5 1194.9 821.4 1196.2 818.3C1197.5 815.2 1199.7 811.2 1202.4 808.3C1205.1 805.4 1209.1 802.6 1212.4 800.8C1215.7 799.0 1218.7 798.0 1222.4 797.5C1226.2 797.0 1230.3 797.2 1234.9 798C1239.5 798.8 1244.9 800.5 1249.9 802C1254.9 803.5 1260.3 805.8 1264.9 807C1269.5 808.2 1273.7 808.9 1277.4 809.5C1281.2 810.1 1283.7 811.0 1287.4 810.8C1291.2 810.6 1296.6 809.5 1299.9 808.3C1303.2 807.0 1304.4 805.8 1307.3 803.3C1310.2 800.8 1314.4 797.2 1317.3 793.3C1320.2 789.3 1322.3 784.6 1324.8 779.6C1327.3 774.6 1329.8 768.1 1332.3 763.3C1334.8 758.5 1337.5 754.8 1339.8 750.8C1342.1 746.8 1344.0 742.5 1346.1 739.6C1348.2 736.7 1349.6 734.5 1352.3 733.3C1355.0 732.0 1359.0 731.9 1362.3 732.1C1365.6 732.3 1368.5 733.4 1372.3 734.6C1376.0 735.8 1380.6 737.9 1384.8 739.1C1389.0 740.4 1393.1 741.5 1397.3 742.1C1401.5 742.7 1406.0 743.4 1409.8 742.6C1413.5 741.8 1416.5 739.7 1419.8 737.1C1423.1 734.5 1426.5 730.6 1429.8 727.1C1433.1 723.6 1436.4 719.4 1439.7 715.9C1443.0 712.4 1446.4 709.6 1449.7 705.9C1453.0 702.1 1456.4 697.8 1459.7 693.4C1463.0 689.0 1466.8 683.8 1469.7 679.6C1472.6 675.4 1474.7 671.5 1477.2 668.4C1479.7 665.3 1481.8 663.4 1484.7 660.9C1487.6 658.4 1490.5 655.7 1494.7 653.4C1498.9 651.1 1504.7 649.1 1509.7 647.2C1514.7 645.3 1519.7 643.5 1524.7 642.2C1529.7 641.0 1535.5 639.9 1539.7 639.7C1543.9 639.5 1546.0 640.5 1549.7 640.9C1553.5 641.3 1558.1 642.1 1562.2 642.2C1566.3 642.3 1570.4 642.1 1574.6 641.7C1578.8 641.3 1582.9 640.2 1587.1 639.7C1591.3 639.2 1595.0 639.0 1599.6 638.4C1604.2 637.8 1609.6 636.7 1614.6 635.9C1619.6 635.1 1625.5 634.3 1629.6 633.4C1633.7 632.5 1635.5 631.3 1639 630.5C1642.5 629.7 1644.9 628.8 1650.4 628.4C1655.9 628.0 1667.1 627.9 1672 628.4C1676.9 628.9 1677.3 630.2 1679.7 631.4C1682.1 632.6 1683.9 633.3 1686.2 635.4C1688.5 637.5 1691.7 641.3 1693.8 644C1695.9 646.7 1697.4 649.0 1699 651.8C1700.6 654.6 1702.6 657.6 1703.6 660.9C1704.6 664.1 1704.0 667.0 1704.9 671.3C1705.8 675.6 1707.6 683.0 1708.8 686.9C1710.0 690.8 1710.9 691.2 1712.1 694.7C1713.3 698.2 1714.3 702.9 1716 707.7C1717.7 712.5 1720.3 718.2 1722.5 723.4C1724.7 728.6 1727.2 735.4 1729 739C1730.8 742.6 1731.5 742.1 1733 745C1734.5 747.9 1736.2 753.6 1738.1 756.6C1740.0 759.6 1742.0 761.2 1744.6 763.1C1747.2 765.0 1750.5 767.1 1753.7 768.3C1757.0 769.5 1760.8 770.1 1764.1 770.2C1767.3 770.3 1770.6 769.6 1773.2 768.9C1775.8 768.1 1777.8 766.6 1779.9 765.7C1782.0 764.8 1783.0 765.3 1785.8 763.5C1788.6 761.7 1792.6 758.1 1797 754.8C1801.4 751.5 1807.4 747.2 1812 743.5C1816.6 739.8 1820.2 735.8 1824.4 732.3C1828.6 728.8 1832.7 725.6 1836.9 722.3C1841.1 719.0 1845.2 715.7 1849.4 712.4C1853.6 709.1 1857.7 705.7 1861.8 702.4C1865.9 699.1 1869.7 695.3 1874.3 692.4C1878.9 689.5 1884.2 687.6 1889.3 684.9C1894.4 682.2 1900.8 679.0 1905 676.2C1909.2 673.5 1911.5 669.8 1914.8 668.4C1918.1 667.0 1921.5 667.4 1924.8 667.9C1928.1 668.4 1931.5 669.9 1934.8 671.6C1938.1 673.4 1941.0 675.8 1944.8 678.4C1948.5 681.0 1953.1 684.4 1957.3 687.1C1961.5 689.8 1966.0 692.9 1969.8 694.6C1973.5 696.3 1976.5 697.0 1979.8 697.1C1983.1 697.2 1986.5 696.4 1989.8 695.1C1993.1 693.9 1996.0 692.0 1999.8 689.6C2003.5 687.2 2008.1 683.9 2012.3 680.9C2016.5 677.9 2020.6 674.7 2024.8 671.6C2029.0 668.5 2033.1 665.1 2037.2 662.1C2041.3 659.1 2045.9 655.7 2049.7 653.4C2053.4 651.1 2055.5 649.6 2059.7 648.4C2063.9 647.1 2069.3 646.5 2074.7 645.9C2080.1 645.3 2086.4 644.8 2092.2 644.7C2098.0 644.6 2103.9 645.1 2109.7 645.2C2115.5 645.3 2121.4 645.4 2127.2 645.2C2133.0 645.0 2139.7 644.7 2144.7 644.2C2149.7 643.7 2153.5 643.2 2157.2 642.2C2160.9 641.2 2163.8 640.0 2167.1 638.3C2170.4 636.6 2173.8 634.3 2177.1 632C2180.4 629.7 2183.8 627.0 2187.1 624.5C2190.4 622.0 2193.8 619.1 2197.1 617C2200.4 614.9 2203.3 613.2 2207.1 612C2210.8 610.8 2215.0 609.8 2219.6 609.5C2224.2 609.2 2229.6 609.6 2234.6 610C2239.6 610.4 2244.6 611.2 2249.6 612C2254.6 612.8 2260.0 613.7 2264.6 614.5C2269.2 615.3 2273.6 615.8 2277.1 617C2280.6 618.2 2283.3 620.4 2285.8 622C2288.3 623.6 2290.6 625.5 2292.1 626.5C2293.6 627.5 2294.2 628.0 2294.6 628.3L2300 628.3" fill="none" stroke="#808080" stroke-width="1"/>
<path d="M1319.8 60L1319.8 72.5C1321.0 74.2 1324.8 78.8 1327.3 82.5C1329.8 86.2 1332.3 90.6 1334.8 95C1337.3 99.4 1339.8 104.5 1342.3 108.7C1344.8 112.9 1347.3 116.2 1349.8 120C1352.3 123.8 1354.8 127.9 1357.3 131.2C1359.8 134.5 1361.9 137.6 1364.8 139.9C1367.7 142.2 1371.0 144.1 1374.8 144.9C1378.5 145.7 1383.1 145.1 1387.3 144.9C1391.5 144.7 1395.6 143.7 1399.8 143.7C1404.0 143.7 1408.5 143.9 1412.3 144.9C1416.0 145.9 1419.0 147.4 1422.3 149.9C1425.6 152.4 1429.4 156.6 1432.3 159.9C1435.2 163.2 1436.8 165.9 1439.7 169.9C1442.6 173.9 1446.4 179.1 1449.7 183.7C1453.0 188.3 1456.4 193.0 1459.7 197.4C1463.0 201.8 1466.4 206.0 1469.7 209.9C1473.0 213.8 1476.4 217.8 1479.7 221.1C1483.0 224.4 1486.0 227.8 1489.7 229.9C1493.5 232.0 1497.6 232.6 1502.2 233.6C1506.8 234.6 1512.2 235.1 1517.2 236.1C1522.2 237.1 1527.2 239.1 1532.2 239.4C1537.2 239.7 1543.0 238.7 1547.2 237.9C1551.4 237.1 1553.9 235.3 1557.2 234.4C1560.5 233.5 1563.4 232.3 1567.1 232.4C1570.8 232.5 1575.4 233.5 1579.6 234.9C1583.8 236.3 1587.9 239.2 1592.1 241.1C1596.3 243.0 1599.9 244.3 1604.6 246.1C1609.2 247.9 1614.1 249.6 1620 252C1625.9 254.4 1633.2 258.3 1639.9 260.7C1646.6 263.1 1654.1 265.9 1659.9 266.5C1665.7 267.1 1670.7 266.3 1674.8 264.5C1678.9 262.7 1682.1 259.1 1684.8 255.8C1687.5 252.5 1688.9 249.3 1691 244.5C1693.1 239.7 1695.0 234.2 1697.3 227.1C1699.6 220.0 1702.2 210.4 1704.7 202.1C1707.2 193.8 1709.7 184.7 1712.2 177.2C1714.7 169.7 1717.2 164.0 1719.7 157.3C1722.2 150.7 1724.7 143.1 1727.2 137.3C1729.7 131.5 1732.2 126.9 1734.7 122.3C1737.2 117.7 1739.6 113.4 1742.1 109.9C1744.6 106.4 1746.7 103.1 1749.6 101.1C1752.5 99.1 1755.8 98.3 1759.6 97.9C1763.3 97.5 1767.9 97.3 1772.1 98.7C1776.2 100.1 1780.3 102.8 1784.5 106.1C1788.7 109.4 1792.8 114.4 1797 118.6C1801.2 122.8 1805.3 127.1 1809.5 131.1C1813.7 135.1 1817.8 138.2 1821.9 142.3C1826.1 146.5 1830.2 151.6 1834.4 156C1838.6 160.4 1842.7 164.6 1846.9 168.5C1851.1 172.4 1854.8 176.2 1859.4 179.7C1864.0 183.2 1869.3 186.4 1874.3 189.7C1879.3 193.0 1884.2 196.4 1889.3 199.7C1894.4 203.0 1901.2 207.2 1905 209.6C1908.8 212.0 1909.4 213.3 1912.3 214.1C1915.2 214.9 1919.0 215.1 1922.3 214.4C1925.6 213.7 1928.5 211.9 1932.3 209.9C1936.0 207.9 1940.6 204.9 1944.8 202.4C1949.0 199.9 1953.1 197.2 1957.3 194.9C1961.5 192.6 1966.0 190.1 1969.8 188.7C1973.5 187.3 1976.5 186.7 1979.8 186.7C1983.1 186.7 1986.0 187.1 1989.8 188.7C1993.5 190.3 1998.1 193.6 2002.3 196.1C2006.5 198.6 2010.6 200.9 2014.8 203.6C2019.0 206.3 2023.1 209.1 2027.3 212.4C2031.5 215.7 2036.0 220.3 2039.7 223.6C2043.4 226.9 2045.9 229.9 2049.7 232.4C2053.4 234.9 2057.6 236.7 2062.2 238.6C2066.8 240.5 2072.2 242.5 2077.2 243.6C2082.2 244.7 2086.8 244.8 2092.2 245.4C2097.6 246.0 2103.9 246.7 2109.7 247.4C2115.5 248.2 2121.4 249.1 2127.2 249.9C2133.0 250.7 2139.3 251.4 2144.7 252.4C2150.1 253.4 2155.1 254.7 2159.7 256.1C2164.3 257.6 2167.9 259.6 2172.1 261.1C2176.2 262.6 2180.4 264.5 2184.6 265.3C2188.8 266.1 2192.9 266.5 2197.1 266.1C2201.3 265.7 2205.4 264.1 2209.6 262.8C2213.8 261.6 2217.5 259.7 2222.1 258.6C2226.7 257.5 2231.7 256.9 2237.1 256.1C2242.5 255.3 2248.8 254.4 2254.6 253.6C2260.4 252.8 2267.1 251.8 2272.1 251.1C2277.1 250.4 2280.8 250.0 2284.6 249.4C2288.3 248.8 2292.9 247.7 2294.6 247.4L2300 247.4" fill="none" stroke="#808080" stroke-width="1"/>
<path d="M1319.8 862L1319.8 849.5C1321.0 847.8 1324.8 843.2 1327.3 839.5C1329.8 835.8 1332.3 831.4 1334.8 827C1337.3 822.6 1339.8 817.5 1342.3 813.3C1344.8 809.1 1347.3 805.8 1349.8 802C1352.3 798.2 1354.8 794.1 1357.3 790.8C1359.8 787.5 1361.9 784.4 1364.8 782.1C1367.7 779.8 1371.0 777.9 1374.8 777.1C1378.5 776.3 1383.1 776.9 1387.3 777.1C1391.5 777.3 1395.6 778.3 1399.8 778.3C1404.0 778.3 1408.5 778.1 1412.3 777.1C1416.0 776.1 1419.0 774.6 1422.3 772.1C1425.6 769.6 1429.4 765.4 1432.3 762.1C1435.2 758.8 1436.8 756.1 1439.7 752.1C1442.6 748.1 1446.4 742.9 1449.7 738.3C1453.0 733.7 1456.4 729.0 1459.7 724.6C1463.0 720.2 1466.4 716.1 1469.7 712.1C1473.0 708.1 1476.4 704.2 1479.7 700.9C1483.0 697.6 1486.0 694.2 1489.7 692.1C1493.5 690.0 1497.6 689.4 1502.2 688.4C1506.8 687.4 1512.2 686.9 1517.2 685.9C1522.2 684.9 1527.2 682.9 1532.2 682.6C1537.2 682.3 1543.0 683.3 1547.2 684.1C1551.4 684.9 1553.9 686.7 1557.2 687.6C1560.5 688.5 1563.4 689.7 1567.1 689.6C1570.8 689.5 1575.4 688.6 1579.6 687.1C1583.8 685.6 1587.9 682.8 1592.1 680.9C1596.3 679.0 1599.9 677.7 1604.6 675.9C1609.2 674.1 1614.1 672.4 1620 670C1625.9 667.6 1633.2 663.7 1639.9 661.3C1646.6 658.9 1654.1 656.1 1659.9 655.5C1665.7 654.9 1670.7 655.7 1674.8 657.5C1678.9 659.3 1682.1 662.9 1684.8 666.2C1687.5 669.5 1688.9 672.7 1691 677.5C1693.1 682.3 1695.0 687.8 1697.3 694.9C1699.6 702.0 1702.2 711.6 1704.7 719.9C1707.2 728.2 1709.7 737.3 1712.2 744.8C1714.7 752.3 1717.2 758.1 1719.7 764.7C1722.2 771.4 1724.7 778.9 1727.2 784.7C1729.7 790.5 1732.2 795.1 1734.7 799.7C1737.2 804.3 1739.6 808.6 1742.1 812.1C1744.6 815.6 1746.7 818.9 1749.6 820.9C1752.5 822.9 1755.8 823.7 1759.6 824.1C1763.3 824.5 1767.9 824.7 1772.1 823.3C1776.2 821.9 1780.3 819.2 1784.5 815.9C1788.7 812.6 1792.8 807.6 1797 803.4C1801.2 799.2 1805.3 794.8 1809.5 790.9C1813.7 787.0 1817.8 783.9 1821.9 779.7C1826.1 775.6 1830.2 770.4 1834.4 766C1838.6 761.6 1842.7 757.5 1846.9 753.5C1851.1 749.5 1854.8 745.8 1859.4 742.3C1864.0 738.8 1869.3 735.6 1874.3 732.3C1879.3 729.0 1884.2 725.6 1889.3 722.3C1894.4 719.0 1901.2 714.8 1905 712.4C1908.8 710.0 1909.4 708.7 1912.3 707.9C1915.2 707.1 1919.0 706.9 1922.3 707.6C1925.6 708.3 1928.5 710.1 1932.3 712.1C1936.0 714.1 1940.6 717.1 1944.8 719.6C1949.0 722.1 1953.1 724.8 1957.3 727.1C1961.5 729.4 1966.0 731.9 1969.8 733.3C1973.5 734.7 1976.5 735.3 1979.8 735.3C1983.1 735.3 1986.0 734.9 1989.8 733.3C1993.5 731.7 1998.1 728.4 2002.3 725.9C2006.5 723.4 2010.6 721.1 2014.8 718.4C2019.0 715.7 2023.1 712.9 2027.3 709.6C2031.5 706.3 2036.0 701.7 2039.7 698.4C2043.4 695.1 2045.9 692.1 2049.7 689.6C2053.4 687.1 2057.6 685.3 2062.2 683.4C2066.8 681.5 2072.2 679.5 2077.2 678.4C2082.2 677.3 2086.8 677.2 2092.2 676.6C2097.6 676.0 2103.9 675.4 2109.7 674.6C2115.5 673.9 2121.4 672.9 2127.2 672.1C2133.0 671.3 2139.3 670.6 2144.7 669.6C2150.1 668.6 2155.1 667.4 2159.7 665.9C2164.3 664.4 2167.9 662.4 2172.1 660.9C2176.2 659.4 2180.4 657.5 2184.6 656.7C2188.8 655.9 2192.9 655.5 2197.1 655.9C2201.3 656.3 2205.4 658.0 2209.6 659.2C2213.8 660.5 2217.5 662.3 2222.1 663.4C2226.7 664.5 2231.7 665.1 2237.1 665.9C2242.5 666.7 2248.8 667.6 2254.6 668.4C2260.4 669.2 2267.1 670.2 2272.1 670.9C2277.1 671.6 2280.8 672.0 2284.6 672.6C2288.3 673.2 2292.9 674.3 2294.6 674.6L2300 674.6" fill="none" stroke="#808080" stroke-width="1"/>
<path d="M1376 60L1376 72.5C1376.5 73.8 1378.7 77.3 1379.3 80C1379.9 82.7 1378.9 85.8 1379.8 88.7C1380.7 91.6 1382.3 94.8 1384.8 97.5C1387.3 100.2 1391.0 102.7 1394.8 105C1398.5 107.3 1403.1 109.5 1407.3 111.2C1411.5 112.9 1416.0 113.5 1419.8 115C1423.5 116.5 1426.9 118.1 1429.8 120C1432.7 121.9 1434.7 123.7 1437.2 126.2C1439.7 128.7 1442.2 131.6 1444.7 134.9C1447.2 138.2 1449.7 142.6 1452.2 146.2C1454.7 149.8 1457.2 152.9 1459.7 156.2C1462.2 159.5 1465.1 162.7 1467.2 166.2C1469.3 169.7 1470.5 174.3 1472.2 177.4C1473.9 180.5 1474.7 182.8 1477.2 184.9C1479.7 187.0 1483.9 189.1 1487.2 189.9C1490.5 190.7 1494.3 190.7 1497.2 189.9C1500.1 189.1 1501.8 187.2 1504.7 184.9C1507.6 182.6 1511.0 178.3 1514.7 176.2C1518.5 174.1 1523.0 173.9 1527.2 172.4C1531.4 170.9 1535.5 168.9 1539.7 167.4C1543.9 165.9 1548.5 163.4 1552.2 163.2C1556.0 163.0 1558.9 164.4 1562.2 166.2C1565.5 167.9 1569.5 171.4 1572.1 173.7C1574.7 176.0 1575.3 177.2 1577.9 179.8C1580.5 182.4 1584.2 186.2 1587.7 189.5C1591.2 192.8 1595.6 196.3 1599.1 199.3C1602.6 202.3 1605.5 205.0 1608.8 207.4C1612.0 209.8 1615.3 212.0 1618.6 213.9C1621.9 215.8 1625.2 216.9 1628.4 218.8C1631.7 220.7 1634.8 223.1 1638.1 225.3C1641.3 227.5 1644.6 229.8 1647.9 231.8C1651.2 233.8 1653.9 236.6 1657.7 237.5C1661.5 238.4 1667.5 238.4 1670.7 237.5C1674.0 236.6 1675.6 233.9 1677.2 232C1678.8 230.1 1679.1 228.4 1680.5 226.3C1681.9 224.2 1684.0 222.3 1685.5 219.5C1687.0 216.7 1688.3 214.0 1689.8 209.5C1691.3 205.0 1693.1 197.2 1694.5 192.5C1695.9 187.8 1697.1 184.4 1698.4 181C1699.7 177.6 1701.4 174.8 1702.5 172C1703.6 169.2 1704.2 167.2 1704.9 164.1C1705.6 161.0 1706.0 158.0 1706.9 153.7C1707.8 149.4 1709.0 143.3 1710.1 138.1C1711.2 132.9 1712.2 127.0 1713.4 122.5C1714.6 118.0 1715.8 114.3 1717.3 110.8C1718.8 107.3 1721.0 103.8 1722.5 101.6C1724.0 99.4 1725.7 99.9 1726.4 97.7C1727.2 95.5 1727.2 91.0 1727 88.6C1726.8 86.2 1725.6 85.0 1725.1 83.4C1724.6 81.8 1723.7 80.3 1723.8 78.9C1723.9 77.5 1724.8 76.1 1725.7 75C1726.6 73.9 1728.5 72.9 1729 72.5L1729 60" fill="none" stroke="#808080" stroke-width="1"/>
<path d="M1376 862L1376 849.5C1376.5 848.2 1378.7 844.7 1379.3 842C1379.9 839.3 1378.9 836.2 1379.8 833.3C1380.7 830.4 1382.3 827.2 1384.8 824.5C1387.3 821.8 1391.0 819.3 1394.8 817C1398.5 814.7 1403.1 812.5 1407.3 810.8C1411.5 809.1 1416.0 808.5 1419.8 807C1423.5 805.5 1426.9 803.9 1429.8 802C1432.7 800.1 1434.7 798.3 1437.2 795.8C1439.7 793.3 1442.2 790.4 1444.7 787.1C1447.2 783.8 1449.7 779.3 1452.2 775.8C1454.7 772.2 1457.2 769.1 1459.7 765.8C1462.2 762.5 1465.1 759.3 1467.2 755.8C1469.3 752.3 1470.5 747.7 1472.2 744.6C1473.9 741.5 1474.7 739.2 1477.2 737.1C1479.7 735.0 1483.9 732.9 1487.2 732.1C1490.5 731.3 1494.3 731.3 1497.2 732.1C1500.1 732.9 1501.8 734.8 1504.7 737.1C1507.6 739.4 1511.0 743.7 1514.7 745.8C1518.5 747.9 1523.0 748.1 1527.2 749.6C1531.4 751.1 1535.5 753.1 1539.7 754.6C1543.9 756.1 1548.5 758.6 1552.2 758.8C1556.0 759.0 1558.9 757.5 1562.2 755.8C1565.5 754.0 1569.5 750.6 1572.1 748.3C1574.7 746.0 1575.3 744.8 1577.9 742.2C1580.5 739.6 1584.2 735.8 1587.7 732.5C1591.2 729.2 1595.6 725.7 1599.1 722.7C1602.6 719.7 1605.5 717.0 1608.8 714.6C1612.0 712.2 1615.3 710.0 1618.6 708.1C1621.9 706.2 1625.2 705.1 1628.4 703.2C1631.7 701.3 1634.8 698.9 1638.1 696.7C1641.3 694.5 1644.6 692.2 1647.9 690.2C1651.2 688.2 1653.9 685.5 1657.7 684.5C1661.5 683.5 1667.5 683.6 1670.7 684.5C1674.0 685.4 1675.6 688.1 1677.2 690C1678.8 691.9 1679.1 693.6 1680.5 695.7C1681.9 697.8 1684.0 699.7 1685.5 702.5C1687.0 705.3 1688.3 708.0 1689.8 712.5C1691.3 717.0 1693.1 724.8 1694.5 729.5C1695.9 734.2 1697.1 737.6 1698.4 741C1699.7 744.4 1701.4 747.2 1702.5 750C1703.6 752.8 1704.2 754.9 1704.9 757.9C1705.6 760.9 1706.0 764.0 1706.9 768.3C1707.8 772.6 1709.0 778.7 1710.1 783.9C1711.2 789.1 1712.2 795.0 1713.4 799.5C1714.6 804.0 1715.8 807.7 1717.3 811.2C1718.8 814.7 1721.0 818.2 1722.5 820.4C1724.0 822.6 1725.7 822.1 1726.4 824.3C1727.2 826.5 1727.2 831.0 1727 833.4C1726.8 835.8 1725.6 837.0 1725.1 838.6C1724.6 840.2 1723.7 841.7 1723.8 843.1C1723.9 844.5 1724.8 845.9 1725.7 847C1726.6 848.1 1728.5 849.1 1729 849.5L1729 862" fill="none" stroke="#808080" stroke-width="1"/>
<path d="M1804.9 60L1804.9 72.5C1805.7 74.4 1807.4 80.0 1809.9 83.7C1812.4 87.5 1816.6 91.0 1819.9 95C1823.2 99.0 1826.6 103.5 1829.9 107.5C1833.2 111.5 1836.6 115.2 1839.9 118.7C1843.2 122.2 1846.2 125.2 1849.9 128.7C1853.7 132.2 1858.2 136.4 1862.4 139.9C1866.6 143.4 1870.7 146.6 1874.9 149.9C1879.1 153.2 1883.2 156.8 1887.4 159.9C1891.6 163.0 1896.2 166.2 1899.9 168.7C1903.6 171.2 1906.5 173.8 1909.8 174.9C1913.1 176.0 1916.5 175.9 1919.8 175.4C1923.1 174.9 1926.0 173.9 1929.8 171.9C1933.5 169.9 1938.1 166.3 1942.3 163.7C1946.5 161.1 1950.6 158.7 1954.8 156.2C1959.0 153.7 1963.5 150.4 1967.3 148.7C1971.0 146.9 1974.0 146.0 1977.3 145.7C1980.6 145.4 1983.5 145.6 1987.3 146.9C1991.0 148.2 1995.6 151.1 1999.8 153.7C2004.0 156.3 2008.1 159.3 2012.3 162.4C2016.5 165.5 2020.6 168.7 2024.8 172.4C2029.0 176.2 2033.5 180.7 2037.2 184.9C2040.9 189.1 2043.9 193.9 2047.2 197.4C2050.5 200.9 2053.4 203.6 2057.2 206.1C2060.9 208.6 2065.1 210.6 2069.7 212.4C2074.3 214.2 2079.7 215.9 2084.7 216.9C2089.7 217.9 2094.7 217.9 2099.7 218.6C2104.7 219.3 2109.7 220.3 2114.7 221.1C2119.7 221.9 2124.7 222.8 2129.7 223.6C2134.7 224.4 2139.7 225.0 2144.7 226.1C2149.7 227.2 2155.1 228.4 2159.7 229.9C2164.3 231.4 2168.4 233.5 2172.1 234.9C2175.8 236.3 2178.3 237.6 2182.1 238.1C2185.8 238.6 2190.8 238.6 2194.6 238.1C2198.3 237.6 2201.3 236.3 2204.6 234.9C2207.9 233.5 2210.4 231.2 2214.6 229.9C2218.8 228.6 2224.6 227.8 2229.6 226.9C2234.6 226.0 2239.2 225.1 2244.6 224.4C2250.0 223.7 2256.3 223.5 2262.1 222.9C2267.9 222.3 2274.2 221.8 2279.6 221.1C2285.0 220.4 2292.1 219.0 2294.6 218.6L2300 218.6" fill="none" stroke="#808080" stroke-width="1"/>
<path d="M1804.9 862L1804.9 849.5C1805.7 847.6 1807.4 842.0 1809.9 838.3C1812.4 834.5 1816.6 831.0 1819.9 827C1823.2 823.0 1826.6 818.5 1829.9 814.5C1833.2 810.5 1836.6 806.8 1839.9 803.3C1843.2 799.8 1846.2 796.8 1849.9 793.3C1853.7 789.8 1858.2 785.6 1862.4 782.1C1866.6 778.6 1870.7 775.4 1874.9 772.1C1879.1 768.8 1883.2 765.2 1887.4 762.1C1891.6 759.0 1896.2 755.8 1899.9 753.3C1903.6 750.8 1906.5 748.2 1909.8 747.1C1913.1 746.0 1916.5 746.1 1919.8 746.6C1923.1 747.1 1926.0 748.2 1929.8 750.1C1933.5 752.0 1938.1 755.7 1942.3 758.3C1946.5 760.9 1950.6 763.3 1954.8 765.8C1959.0 768.3 1963.5 771.5 1967.3 773.3C1971.0 775.0 1974.0 776.0 1977.3 776.3C1980.6 776.6 1983.5 776.4 1987.3 775.1C1991.0 773.8 1995.6 770.9 1999.8 768.3C2004.0 765.7 2008.1 762.7 2012.3 759.6C2016.5 756.5 2020.6 753.4 2024.8 749.6C2029.0 745.9 2033.5 741.3 2037.2 737.1C2040.9 732.9 2043.9 728.1 2047.2 724.6C2050.5 721.1 2053.4 718.4 2057.2 715.9C2060.9 713.4 2065.1 711.4 2069.7 709.6C2074.3 707.8 2079.7 706.1 2084.7 705.1C2089.7 704.1 2094.7 704.1 2099.7 703.4C2104.7 702.7 2109.7 701.7 2114.7 700.9C2119.7 700.1 2124.7 699.2 2129.7 698.4C2134.7 697.6 2139.7 696.9 2144.7 695.9C2149.7 694.9 2155.1 693.6 2159.7 692.1C2164.3 690.6 2168.4 688.5 2172.1 687.1C2175.8 685.7 2178.3 684.4 2182.1 683.9C2185.8 683.4 2190.8 683.4 2194.6 683.9C2198.3 684.4 2201.3 685.7 2204.6 687.1C2207.9 688.5 2210.4 690.8 2214.6 692.1C2218.8 693.4 2224.6 694.2 2229.6 695.1C2234.6 696.0 2239.2 696.9 2244.6 697.6C2250.0 698.3 2256.3 698.6 2262.1 699.1C2267.9 699.6 2274.2 700.2 2279.6 700.9C2285.0 701.6 2292.1 703.0 2294.6 703.4L2300 703.4" fill="none" stroke="#808080" stroke-width="1"/>
<path d="M1428.5 60L1428.5 72.5C1429.3 74.0 1430.4 78.5 1433.5 81.2C1436.6 83.9 1443.2 85.8 1447.2 88.7C1451.2 91.6 1453.9 95.0 1457.2 98.7C1460.5 102.5 1464.5 107.5 1467.2 111.2C1469.9 115.0 1471.4 118.8 1473.5 121.2C1475.6 123.6 1477.0 125.1 1479.7 125.5C1482.4 125.9 1486.4 124.8 1489.7 123.7C1493.0 122.6 1496.0 120.4 1499.7 118.7C1503.5 117.0 1508.0 114.8 1512.2 113.7C1516.4 112.6 1520.1 112.7 1524.7 112C1529.3 111.3 1535.1 110.3 1539.7 109.5C1544.3 108.7 1548.8 107.0 1552.2 107C1555.6 107.0 1557.6 109.1 1560 109.8C1562.4 110.5 1564.1 109.9 1566.5 111.4C1568.9 112.9 1572.1 116.3 1574.6 118.7C1577.0 121.1 1579.3 123.0 1581.2 126C1583.1 129.0 1584.4 133.1 1586 136.6C1587.6 140.1 1589.0 143.8 1590.9 147.2C1592.8 150.6 1595.2 154.0 1597.4 157C1599.6 160.0 1601.2 162.1 1603.9 165.1C1606.6 168.1 1610.2 171.9 1613.7 174.9C1617.2 177.9 1621.6 180.3 1625.1 183C1628.6 185.7 1631.7 188.4 1634.9 191.1C1638.2 193.8 1641.6 196.7 1644.6 199.3C1647.6 201.9 1650.3 205.0 1652.8 206.6C1655.2 208.2 1656.6 208.7 1659.3 209C1662.0 209.3 1665.8 209.1 1669 208.2C1672.2 207.3 1676.8 206.0 1678.8 203.4C1680.8 200.8 1680.2 196.7 1681.3 192.8C1682.4 188.9 1683.9 184.4 1685.3 179.8C1686.7 175.2 1688.2 170.3 1689.4 165.1C1690.6 159.9 1691.6 154.2 1692.7 148.8C1693.8 143.4 1695.0 137.5 1695.9 132.6C1696.8 127.7 1697.5 122.9 1698.3 119.5C1699.1 116.1 1700.1 114.8 1701 112.1C1701.9 109.3 1703.3 105.8 1703.6 103C1703.9 100.2 1703.7 97.6 1703 95.1C1702.3 92.6 1700.6 90.2 1699.7 88C1698.8 85.8 1698.0 83.9 1697.7 82.1C1697.4 80.2 1697.1 78.3 1697.7 76.9C1698.3 75.5 1700.4 74.4 1701.6 73.7C1702.8 73.0 1704.4 72.7 1704.9 72.5L1704.9 60" fill="none" stroke="#808080" stroke-width="1"/>
<path d="M1428.5 862L1428.5 849.5C1429.3 848.0 1430.4 843.5 1433.5 840.8C1436.6 838.1 1443.2 836.2 1447.2 833.3C1451.2 830.4 1453.9 827.0 1457.2 823.3C1460.5 819.5 1464.5 814.5 1467.2 810.8C1469.9 807.0 1471.4 803.2 1473.5 800.8C1475.6 798.4 1477.0 796.9 1479.7 796.5C1482.4 796.1 1486.4 797.2 1489.7 798.3C1493.0 799.4 1496.0 801.6 1499.7 803.3C1503.5 805.0 1508.0 807.2 1512.2 808.3C1516.4 809.4 1520.1 809.3 1524.7 810C1529.3 810.7 1535.1 811.7 1539.7 812.5C1544.3 813.3 1548.8 815.0 1552.2 815C1555.6 815.0 1557.6 812.9 1560 812.2C1562.4 811.5 1564.1 812.1 1566.5 810.6C1568.9 809.1 1572.1 805.7 1574.6 803.3C1577.0 800.9 1579.3 799.0 1581.2 796C1583.1 793.0 1584.4 788.9 1586 785.4C1587.6 781.9 1589.0 778.2 1590.9 774.8C1592.8 771.4 1595.2 768.0 1597.4 765C1599.6 762.0 1601.2 759.9 1603.9 756.9C1606.6 753.9 1610.2 750.1 1613.7 747.1C1617.2 744.1 1621.6 741.7 1625.1 739C1628.6 736.3 1631.7 733.6 1634.9 730.9C1638.2 728.2 1641.6 725.3 1644.6 722.7C1647.6 720.1 1650.3 717.0 1652.8 715.4C1655.2 713.8 1656.6 713.3 1659.3 713C1662.0 712.7 1665.8 712.9 1669 713.8C1672.2 714.7 1676.8 716.0 1678.8 718.6C1680.8 721.2 1680.2 725.3 1681.3 729.2C1682.4 733.1 1683.9 737.6 1685.3 742.2C1686.7 746.8 1688.2 751.7 1689.4 756.9C1690.6 762.1 1691.6 767.8 1692.7 773.2C1693.8 778.6 1695.0 784.5 1695.9 789.4C1696.8 794.3 1697.5 799.1 1698.3 802.5C1699.1 805.9 1700.1 807.1 1701 809.9C1701.9 812.6 1703.3 816.2 1703.6 819C1703.9 821.8 1703.7 824.4 1703 826.9C1702.3 829.4 1700.6 831.8 1699.7 834C1698.8 836.2 1698.0 838.0 1697.7 839.9C1697.4 841.8 1697.1 843.7 1697.7 845.1C1698.3 846.5 1700.4 847.6 1701.6 848.3C1702.8 849.0 1704.4 849.3 1704.9 849.5L1704.9 862" fill="none" stroke="#808080" stroke-width="1"/>
<path d="M1838.6 60L1838.6 72.5C1839.6 74.2 1842.2 79.2 1844.9 82.5C1847.6 85.8 1851.2 89.2 1854.9 92.5C1858.7 95.8 1863.2 99.4 1867.4 102.5C1871.6 105.6 1875.7 108.1 1879.9 111.2C1884.1 114.3 1888.7 118.3 1892.4 121.2C1896.1 124.1 1899.0 126.8 1902.3 128.7C1905.6 130.6 1909.0 132.0 1912.3 132.4C1915.6 132.8 1919.0 132.3 1922.3 131.2C1925.6 130.0 1928.5 127.8 1932.3 125.5C1936.0 123.2 1940.6 120.1 1944.8 117.5C1949.0 114.9 1953.1 112.1 1957.3 110C1961.5 107.9 1966.0 106.0 1969.8 105C1973.5 104.0 1976.5 103.5 1979.8 103.7C1983.1 103.9 1986.5 104.7 1989.8 106.2C1993.1 107.7 1996.0 110.0 1999.8 112.5C2003.5 115.0 2008.1 118.3 2012.3 121.2C2016.5 124.1 2021.1 126.8 2024.8 129.9C2028.5 133.0 2031.8 136.6 2034.7 139.9C2037.6 143.2 2039.7 146.4 2042.2 149.9C2044.7 153.4 2047.2 158.1 2049.7 161.2C2052.2 164.3 2053.9 166.2 2057.2 168.7C2060.5 171.2 2065.1 173.9 2069.7 176.2C2074.3 178.5 2079.7 180.5 2084.7 182.4C2089.7 184.3 2094.7 185.9 2099.7 187.4C2104.7 188.9 2109.7 190.2 2114.7 191.2C2119.7 192.2 2124.7 192.6 2129.7 193.6C2134.7 194.6 2140.1 195.7 2144.7 196.9C2149.3 198.2 2153.0 199.3 2157.2 201.1C2161.3 202.8 2165.4 205.7 2169.6 207.4C2173.8 209.2 2177.5 210.8 2182.1 211.6C2186.7 212.3 2192.1 212.4 2197.1 211.9C2202.1 211.4 2207.1 209.8 2212.1 208.6C2217.1 207.4 2221.7 205.9 2227.1 204.9C2232.5 203.9 2238.8 203.0 2244.6 202.4C2250.4 201.8 2256.3 201.6 2262.1 201.1C2267.9 200.6 2274.2 199.9 2279.6 199.4C2285.0 198.9 2292.1 198.3 2294.6 198.1L2300 198.1" fill="none" stroke="#808080" stroke-width="1"/>
<path d="M1838.6 862L1838.6 849.5C1839.6 847.8 1842.2 842.8 1844.9 839.5C1847.6 836.2 1851.2 832.8 1854.9 829.5C1858.7 826.2 1863.2 822.6 1867.4 819.5C1871.6 816.4 1875.7 813.9 1879.9 810.8C1884.1 807.7 1888.7 803.7 1892.4 800.8C1896.1 797.9 1899.0 795.2 1902.3 793.3C1905.6 791.4 1909.0 790.0 1912.3 789.6C1915.6 789.2 1919.0 789.6 1922.3 790.8C1925.6 791.9 1928.5 794.2 1932.3 796.5C1936.0 798.8 1940.6 801.9 1944.8 804.5C1949.0 807.1 1953.1 809.9 1957.3 812C1961.5 814.1 1966.0 816.0 1969.8 817C1973.5 818.0 1976.5 818.5 1979.8 818.3C1983.1 818.1 1986.5 817.3 1989.8 815.8C1993.1 814.3 1996.0 812.0 1999.8 809.5C2003.5 807.0 2008.1 803.7 2012.3 800.8C2016.5 797.9 2021.1 795.2 2024.8 792.1C2028.5 789.0 2031.8 785.4 2034.7 782.1C2037.6 778.8 2039.7 775.7 2042.2 772.1C2044.7 768.5 2047.2 763.9 2049.7 760.8C2052.2 757.7 2053.9 755.8 2057.2 753.3C2060.5 750.8 2065.1 748.1 2069.7 745.8C2074.3 743.5 2079.7 741.5 2084.7 739.6C2089.7 737.7 2094.7 736.1 2099.7 734.6C2104.7 733.1 2109.7 731.8 2114.7 730.8C2119.7 729.8 2124.7 729.3 2129.7 728.4C2134.7 727.5 2140.1 726.4 2144.7 725.1C2149.3 723.9 2153.0 722.6 2157.2 720.9C2161.3 719.1 2165.4 716.4 2169.6 714.6C2173.8 712.9 2177.5 711.1 2182.1 710.4C2186.7 709.6 2192.1 709.6 2197.1 710.1C2202.1 710.6 2207.1 712.2 2212.1 713.4C2217.1 714.6 2221.7 716.1 2227.1 717.1C2232.5 718.1 2238.8 719.0 2244.6 719.6C2250.4 720.2 2256.3 720.4 2262.1 720.9C2267.9 721.4 2274.2 722.1 2279.6 722.6C2285.0 723.1 2292.1 723.7 2294.6 723.9L2300 723.9" fill="none" stroke="#808080" stroke-width="1"/>
<path d="M1583.4 60L1583.4 72.5C1584.0 75.4 1584.3 83.8 1587.1 90C1589.9 96.2 1596.2 104.1 1600 109.9C1603.8 115.7 1606.3 119.0 1610 124.8C1613.7 130.6 1618.2 139.4 1622.4 144.8C1626.6 150.2 1631.2 153.6 1634.9 157.3C1638.7 161.0 1642.0 164.1 1644.9 167.2C1647.8 170.3 1649.9 173.8 1652.4 176C1654.9 178.2 1657.4 179.8 1659.9 180.2C1662.4 180.6 1664.8 179.6 1667.3 178.5C1669.8 177.4 1672.8 175.8 1674.8 173.5C1676.8 171.2 1678.3 168.2 1679.3 164.7C1680.3 161.2 1680.1 157.3 1681 152.3C1681.9 147.3 1683.5 140.2 1684.8 134.8C1686.0 129.4 1687.3 124.5 1688.5 119.9C1689.7 115.3 1691.1 110.9 1691.8 107.4C1692.5 103.9 1693.0 101.6 1692.8 98.7C1692.5 95.8 1691.4 92.6 1690.3 89.9C1689.2 87.2 1686.7 84.7 1686 82.4C1685.3 80.1 1685.4 77.9 1686 76.2C1686.6 74.5 1689.2 73.1 1689.8 72.5L1689.8 60" fill="none" stroke="#808080" stroke-width="1"/>
<path d="M1583.4 862L1583.4 849.5C1584.0 846.6 1584.3 838.2 1587.1 832C1589.9 825.8 1596.2 817.9 1600 812.1C1603.8 806.3 1606.3 803.0 1610 797.2C1613.7 791.4 1618.2 782.6 1622.4 777.2C1626.6 771.8 1631.2 768.4 1634.9 764.7C1638.7 761.0 1642.0 757.9 1644.9 754.8C1647.8 751.7 1649.9 748.2 1652.4 746C1654.9 743.8 1657.4 742.2 1659.9 741.8C1662.4 741.4 1664.8 742.4 1667.3 743.5C1669.8 744.6 1672.8 746.2 1674.8 748.5C1676.8 750.8 1678.3 753.8 1679.3 757.3C1680.3 760.8 1680.1 764.7 1681 769.7C1681.9 774.7 1683.5 781.8 1684.8 787.2C1686.0 792.6 1687.3 797.5 1688.5 802.1C1689.7 806.7 1691.1 811.1 1691.8 814.6C1692.5 818.1 1693.0 820.4 1692.8 823.3C1692.5 826.2 1691.4 829.4 1690.3 832.1C1689.2 834.8 1686.7 837.3 1686 839.6C1685.3 841.9 1685.4 844.1 1686 845.8C1686.6 847.4 1689.2 848.9 1689.8 849.5L1689.8 862" fill="none" stroke="#808080" stroke-width="1"/>
<path d="M1886.1 60L1886.1 72.5C1887.1 73.5 1890.1 76.8 1892.4 78.7C1894.7 80.6 1897.0 82.4 1899.9 83.7C1902.8 85.0 1906.5 86.2 1909.8 86.7C1913.1 87.2 1916.5 87.3 1919.8 86.7C1923.1 86.1 1926.5 84.3 1929.8 83C1933.1 81.7 1936.5 80.0 1939.8 78.7C1943.1 77.4 1947.3 76.0 1949.8 75C1952.3 74.0 1954.0 72.9 1954.8 72.5L1954.8 60" fill="none" stroke="#808080" stroke-width="1"/>
<path d="M1886.1 862L1886.1 849.5C1887.1 848.5 1890.1 845.2 1892.4 843.3C1894.7 841.4 1897.0 839.6 1899.9 838.3C1902.8 837.0 1906.5 835.8 1909.8 835.3C1913.1 834.8 1916.5 834.7 1919.8 835.3C1923.1 835.9 1926.5 837.7 1929.8 839C1933.1 840.3 1936.5 842.0 1939.8 843.3C1943.1 844.6 1947.3 846.0 1949.8 847C1952.3 848.0 1954.0 849.1 1954.8 849.5L1954.8 862" fill="none" stroke="#808080" stroke-width="1"/>
<path d="M2001 60L2001 72.5C2002.5 73.8 2006.7 77.5 2009.8 80C2012.9 82.5 2016.9 85.0 2019.8 87.5C2022.7 90.0 2024.8 92.1 2027.3 95C2029.8 97.9 2032.4 101.9 2034.7 105C2037.0 108.1 2038.5 110.8 2041 113.7C2043.5 116.6 2046.6 119.8 2049.7 122.5C2052.8 125.2 2055.9 127.4 2059.7 129.9C2063.4 132.4 2068.0 134.9 2072.2 137.4C2076.4 139.9 2080.5 142.7 2084.7 144.9C2088.9 147.1 2093.0 148.8 2097.2 150.4C2101.4 152.0 2105.1 153.0 2109.7 154.4C2114.3 155.8 2120.1 157.4 2124.7 158.7C2129.3 160.0 2133.0 160.9 2137.2 162.4C2141.4 163.9 2145.5 165.5 2149.7 167.4C2153.9 169.3 2158.5 171.6 2162.2 173.7C2165.9 175.8 2168.8 178.0 2172.1 179.9C2175.4 181.8 2178.8 183.7 2182.1 184.9C2185.4 186.2 2188.8 186.9 2192.1 187.4C2195.4 187.9 2198.3 188.3 2202.1 187.9C2205.8 187.5 2210.0 186.0 2214.6 184.9C2219.2 183.8 2224.6 182.2 2229.6 181.2C2234.6 180.2 2239.2 179.5 2244.6 178.7C2250.0 177.9 2256.3 176.9 2262.1 176.2C2267.9 175.4 2274.2 174.8 2279.6 174.2C2285.0 173.6 2292.1 172.7 2294.6 172.4L2300 172.4" fill="none" stroke="#808080" stroke-width="1"/>
<path d="M2001 862L2001 849.5C2002.5 848.2 2006.7 844.5 2009.8 842C2012.9 839.5 2016.9 837.0 2019.8 834.5C2022.7 832.0 2024.8 829.9 2027.3 827C2029.8 824.1 2032.4 820.1 2034.7 817C2037.0 813.9 2038.5 811.2 2041 808.3C2043.5 805.4 2046.6 802.2 2049.7 799.5C2052.8 796.8 2055.9 794.6 2059.7 792.1C2063.4 789.6 2068.0 787.1 2072.2 784.6C2076.4 782.1 2080.5 779.3 2084.7 777.1C2088.9 774.9 2093.0 773.2 2097.2 771.6C2101.4 770.0 2105.1 769.0 2109.7 767.6C2114.3 766.2 2120.1 764.6 2124.7 763.3C2129.3 762.0 2133.0 761.0 2137.2 759.6C2141.4 758.2 2145.5 756.5 2149.7 754.6C2153.9 752.7 2158.5 750.4 2162.2 748.3C2165.9 746.2 2168.8 744.0 2172.1 742.1C2175.4 740.2 2178.8 738.4 2182.1 737.1C2185.4 735.9 2188.8 735.1 2192.1 734.6C2195.4 734.1 2198.3 733.7 2202.1 734.1C2205.8 734.5 2210.0 736.0 2214.6 737.1C2219.2 738.2 2224.6 739.8 2229.6 740.8C2234.6 741.8 2239.2 742.5 2244.6 743.3C2250.0 744.1 2256.3 745.0 2262.1 745.8C2267.9 746.5 2274.2 747.2 2279.6 747.8C2285.0 748.4 2292.1 749.3 2294.6 749.6L2300 749.6" fill="none" stroke="#808080" stroke-width="1"/>
<path d="M1606.2 60L1606.2 72.5C1607.0 74.2 1608.9 78.7 1611.2 82.4C1613.5 86.1 1616.9 90.3 1620 94.9C1623.1 99.5 1626.6 104.9 1629.9 109.9C1633.2 114.9 1637.0 120.2 1639.9 124.8C1642.8 129.4 1645.1 134.2 1647.4 137.3C1649.7 140.4 1651.5 142.1 1653.6 143.5C1655.7 144.9 1657.8 145.7 1659.9 145.5C1662.0 145.3 1664.4 144.1 1666.1 142.3C1667.8 140.5 1668.8 137.7 1669.8 134.8C1670.8 131.9 1671.5 128.1 1672.3 124.8C1673.1 121.5 1673.8 118.2 1674.8 114.9C1675.8 111.6 1677.7 107.8 1678.6 104.9C1679.5 102.0 1680.2 99.9 1680.3 97.4C1680.4 94.9 1680.0 92.2 1679.3 89.9C1678.6 87.6 1676.8 85.8 1676.1 83.7C1675.3 81.6 1674.4 79.4 1674.8 77.5C1675.2 75.6 1678.0 73.3 1678.6 72.5L1678.6 60" fill="none" stroke="#808080" stroke-width="1"/>
<path d="M1606.2 862L1606.2 849.5C1607.0 847.9 1608.9 843.3 1611.2 839.6C1613.5 835.9 1616.9 831.7 1620 827.1C1623.1 822.5 1626.6 817.1 1629.9 812.1C1633.2 807.1 1637.0 801.8 1639.9 797.2C1642.8 792.6 1645.1 787.8 1647.4 784.7C1649.7 781.6 1651.5 779.9 1653.6 778.5C1655.7 777.1 1657.8 776.3 1659.9 776.5C1662.0 776.7 1664.4 777.9 1666.1 779.7C1667.8 781.5 1668.8 784.3 1669.8 787.2C1670.8 790.1 1671.5 793.9 1672.3 797.2C1673.1 800.5 1673.8 803.8 1674.8 807.1C1675.8 810.4 1677.7 814.2 1678.6 817.1C1679.5 820.0 1680.2 822.1 1680.3 824.6C1680.4 827.1 1680.0 829.8 1679.3 832.1C1678.6 834.4 1676.8 836.2 1676.1 838.3C1675.3 840.4 1674.4 842.6 1674.8 844.5C1675.2 846.4 1678.0 848.7 1678.6 849.5L1678.6 862" fill="none" stroke="#808080" stroke-width="1"/>
<path d="M2041 60L2041 72.5C2042.0 74.6 2044.9 81.5 2047.2 85C2049.5 88.5 2051.4 91.0 2054.7 93.7C2058.0 96.4 2062.6 98.7 2067.2 101.2C2071.8 103.7 2077.2 106.2 2082.2 108.7C2087.2 111.2 2092.2 114.3 2097.2 116.2C2102.2 118.1 2107.2 118.9 2112.2 120C2117.2 121.1 2122.6 121.8 2127.2 123C2131.8 124.2 2135.5 125.6 2139.7 127.4C2143.9 129.2 2148.4 131.6 2152.2 133.7C2155.9 135.8 2158.9 137.6 2162.2 139.9C2165.5 142.2 2169.2 145.1 2172.1 147.4C2175.0 149.7 2177.1 151.8 2179.6 153.7C2182.1 155.6 2184.2 157.6 2187.1 158.7C2190.0 159.8 2193.3 160.2 2197.1 160.4C2200.8 160.6 2205.4 160.5 2209.6 159.9C2213.8 159.3 2217.5 157.9 2222.1 156.9C2226.7 155.9 2231.7 154.6 2237.1 153.7C2242.5 152.8 2248.8 151.9 2254.6 151.2C2260.4 150.5 2267.1 150.0 2272.1 149.4C2277.1 148.8 2280.8 148.1 2284.6 147.4C2288.3 146.7 2292.9 145.7 2294.6 145.4L2300 145.4" fill="none" stroke="#808080" stroke-width="1"/>
<path d="M2041 862L2041 849.5C2042.0 847.4 2044.9 840.5 2047.2 837C2049.5 833.5 2051.4 831.0 2054.7 828.3C2058.0 825.6 2062.6 823.3 2067.2 820.8C2071.8 818.3 2077.2 815.8 2082.2 813.3C2087.2 810.8 2092.2 807.7 2097.2 805.8C2102.2 803.9 2107.2 803.1 2112.2 802C2117.2 800.9 2122.6 800.2 2127.2 799C2131.8 797.8 2135.5 796.4 2139.7 794.6C2143.9 792.8 2148.4 790.4 2152.2 788.3C2155.9 786.2 2158.9 784.4 2162.2 782.1C2165.5 779.8 2169.2 776.9 2172.1 774.6C2175.0 772.3 2177.1 770.2 2179.6 768.3C2182.1 766.4 2184.2 764.4 2187.1 763.3C2190.0 762.2 2193.3 761.8 2197.1 761.6C2200.8 761.4 2205.4 761.5 2209.6 762.1C2213.8 762.7 2217.5 764.1 2222.1 765.1C2226.7 766.1 2231.7 767.3 2237.1 768.3C2242.5 769.2 2248.8 770.1 2254.6 770.8C2260.4 771.5 2267.1 772.0 2272.1 772.6C2277.1 773.2 2280.8 773.9 2284.6 774.6C2288.3 775.3 2292.9 776.3 2294.6 776.6L2300 776.6" fill="none" stroke="#808080" stroke-width="1"/>
<path d="M2294.5 386Q2282.7 400.8 2294.5 415.6Z" fill="#e60000" stroke="#808080" stroke-width="1"/>
<path d="M2294.5 506.4Q2282.7 521.2 2294.5 536Z" fill="#e60000" stroke="#808080" stroke-width="1"/>
<path d="M2294.5 423.7Q2284.3 440.85 2294.5 458Z" fill="#ff4d00" stroke="#808080" stroke-width="1"/>
<path d="M2294.5 464Q2284.3 481.15 2294.5 498.3Z" fill="#ff4d00" stroke="#808080" stroke-width="1"/>
<path d="M2292.8 150V386M2292.8 536V772" fill="none" stroke="#808080" stroke-width="1" stroke-opacity="0.55"/>
</g>
<path d="M163.5 72.5V850.5M219.5 72.5V850.5M268.5 72.5V850.5M312.5 72.5V850.5M350.5 72.5V850.5M605.5 72.5V850.5M753.5 72.5V850.5M859.5 72.5V850.5M941.5 72.5V850.5M1008.5 72.5V850.5M1064.5 72.5V850.5M1113.5 72.5V850.5M1156.5 72.5V850.5M1195.5 72.5V850.5M1449.5 72.5V850.5M1598.5 72.5V850.5M1704.5 72.5V850.5M1785.5 72.5V850.5M1852.5 72.5V850.5M1909.5 72.5V850.5M1958.5 72.5V850.5M2001.5 72.5V850.5M2040.5 72.5V850.5M96.5 150.5H2294.5M96.5 228.5H2294.5M96.5 305.5H2294.5M96.5 383.5H2294.5M96.5 461.5H2294.5M96.5 539.5H2294.5M96.5 617.5H2294.5M96.5 694.5H2294.5M96.5 772.5H2294.5" stroke="#808080" stroke-width="1" fill="none" shape-rendering="crispEdges"/>
<path d="M96.5 72.5H2294.5V850.5H96.5Z" stroke="#808080" stroke-width="1" fill="none" shape-rendering="crispEdges"/>
<path d="M90 72.5H96.5M90 150.5H96.5M90 228.5H96.5M90 305.5H96.5M90 383.5H96.5M90 461.5H96.5M90 539.5H96.5M90 617.5H96.5M90 694.5H96.5M90 772.5H96.5M90 850.5H96.5M96.5 850.5V858.5M163.5 850.5V858.5M219.5 850.5V858.5M268.5 850.5V858.5M312.5 850.5V858.5M350.5 850.5V862.5M605.5 850.5V858.5M753.5 850.5V858.5M859.5 850.5V858.5M941.5 850.5V858.5M1008.5 850.5V858.5M1064.5 850.5V858.5M1113.5 850.5V858.5M1156.5 850.5V858.5M1195.5 850.5V862.5M1449.5 850.5V858.5M1598.5 850.5V858.5M1704.5 850.5V858.5M1785.5 850.5V858.5M1852.5 850.5V858.5M1909.5 850.5V858.5M1958.5 850.5V858.5M2001.5 850.5V858.5M2040.5 850.5V862.5M2294.5 850.5V858.5" stroke="#808080" stroke-width="1" fill="none" shape-rendering="crispEdges"/>
<rect x="5" y="847.5" width="48" height="47.5" rx="3.5" fill="#6b7d97"/>
<path d="M10.3 851h7.9v23h10.3v6.8h-18.2z" fill="#80c8ff" stroke="#fff" stroke-width="0.9" stroke-opacity="0.6"/>
<path d="M30.5 861.8h17.7v5.7h-10.4v6.9h9.4v5.9h-9.4v11.3h-7.3z" fill="#80c8ff" stroke="#fff" stroke-width="0.9" stroke-opacity="0.6"/>
<text x="6.3" y="910.7" font-size="20.3" font-weight="bold" fill="#64788f" font-family="Liberation Sans, sans-serif" textLength="222.5" lengthAdjust="spacingAndGlyphs">LautsprecherForum.eu</text>
<text transform="translate(87.3 80) scale(1 1)" font-size="24" text-anchor="end" fill="#000" font-family="Liberation Sans, sans-serif">-100.0</text>
<text transform="translate(87.3 157.8) scale(1 1)" font-size="24" text-anchor="end" fill="#000" font-family="Liberation Sans, sans-serif">-80.0</text>
<text transform="translate(87.3 235.5) scale(1 1)" font-size="24" text-anchor="end" fill="#000" font-family="Liberation Sans, sans-serif">-60.0</text>
<text transform="translate(87.3 313.3) scale(1 1)" font-size="24" text-anchor="end" fill="#000" font-family="Liberation Sans, sans-serif">-40.0</text>
<text transform="translate(87.3 391) scale(1 1)" font-size="24" text-anchor="end" fill="#000" font-family="Liberation Sans, sans-serif">-20.0</text>
<text transform="translate(87.3 468.8) scale(1 1)" font-size="24" text-anchor="end" fill="#000" font-family="Liberation Sans, sans-serif">0.0</text>
<text transform="translate(87.3 546.6) scale(1 1)" font-size="24" text-anchor="end" fill="#000" font-family="Liberation Sans, sans-serif">20.0</text>
<text transform="translate(87.3 624.3) scale(1 1)" font-size="24" text-anchor="end" fill="#000" font-family="Liberation Sans, sans-serif">40.0</text>
<text transform="translate(87.3 702.1) scale(1 1)" font-size="24" text-anchor="end" fill="#000" font-family="Liberation Sans, sans-serif">60.0</text>
<text transform="translate(87.3 779.8) scale(1 1)" font-size="24" text-anchor="end" fill="#000" font-family="Liberation Sans, sans-serif">80.0</text>
<text transform="translate(87.3 857.6) scale(1 1)" font-size="24" text-anchor="end" fill="#000" font-family="Liberation Sans, sans-serif">100.0</text>
<text transform="translate(88.7 52.7) scale(1 1)" font-size="24" text-anchor="end" fill="#000" font-family="Liberation Sans, sans-serif">deg</text>
<text transform="translate(96.3 883.5) scale(1 1)" font-size="24" text-anchor="middle" fill="#000" font-family="Liberation Sans, sans-serif">50</text>
<text transform="translate(350.6 883.5) scale(1 1)" font-size="24" text-anchor="middle" fill="#000" font-family="Liberation Sans, sans-serif">100</text>
<text transform="translate(604.9 883.5) scale(1 1)" font-size="24" text-anchor="middle" fill="#000" font-family="Liberation Sans, sans-serif">200</text>
<text transform="translate(941 883.5) scale(1 1)" font-size="24" text-anchor="middle" fill="#000" font-family="Liberation Sans, sans-serif">500</text>
<text transform="translate(1195.3 883.5) scale(1 1)" font-size="24" text-anchor="middle" fill="#000" font-family="Liberation Sans, sans-serif">1k</text>
<text transform="translate(1449.6 883.5) scale(1 1)" font-size="24" text-anchor="middle" fill="#000" font-family="Liberation Sans, sans-serif">2k</text>
<text transform="translate(1785.7 883.5) scale(1 1)" font-size="24" text-anchor="middle" fill="#000" font-family="Liberation Sans, sans-serif">5k</text>
<text transform="translate(2040 883.5) scale(1 1)" font-size="24" text-anchor="middle" fill="#000" font-family="Liberation Sans, sans-serif">10k</text>
<text transform="translate(2294.3 883.5) scale(1 1)" font-size="24" text-anchor="middle" fill="#000" font-family="Liberation Sans, sans-serif">20k</text>
<text transform="translate(2294.6 910) scale(1 1)" font-size="24" text-anchor="end" fill="#000" font-family="Liberation Sans, sans-serif">F(Hz)</text>
<text transform="translate(1195.3 47.85) scale(1 1)" font-size="24" text-anchor="middle" fill="#000" font-family="Liberation Sans, sans-serif">Directivity pattern</text>
<rect x="2322" y="72" width="25" height="80.2" fill="#800000"/>
<rect x="2322" y="151.9" width="25" height="78.1" fill="#e60000"/>
<rect x="2322" y="229.7" width="25" height="78.1" fill="#ff4d00"/>
<rect x="2322" y="307.5" width="25" height="78.1" fill="#ffb300"/>
<rect x="2322" y="385.3" width="25" height="78.1" fill="#e6ff1a"/>
<rect x="2322" y="463.1" width="25" height="78.1" fill="#80ff80"/>
<rect x="2322" y="540.9" width="25" height="78.1" fill="#1affe6"/>
<rect x="2322" y="618.7" width="25" height="78.1" fill="#00b3ff"/>
<rect x="2322" y="696.5" width="25" height="78.1" fill="#004dff"/>
<rect x="2322" y="774.3" width="25" height="78.8" fill="#0000e6"/>
<path d="M2346.5 72V853" stroke="#808080" stroke-width="1" shape-rendering="crispEdges"/>
<text transform="translate(2354.4 80) scale(1 1)" font-size="24" text-anchor="start" fill="#000" font-family="Liberation Sans, sans-serif">dB</text>
<text transform="translate(2360.7 156.6) scale(1 1)" font-size="24" text-anchor="start" fill="#000" font-family="Liberation Sans, sans-serif">0.0</text>
<text transform="translate(2354 234.5) scale(1 1)" font-size="24" text-anchor="start" fill="#000" font-family="Liberation Sans, sans-serif">-3.0</text>
<text transform="translate(2354 312.3) scale(1 1)" font-size="24" text-anchor="start" fill="#000" font-family="Liberation Sans, sans-serif">-6.0</text>
<text transform="translate(2354 390.2) scale(1 1)" font-size="24" text-anchor="start" fill="#000" font-family="Liberation Sans, sans-serif">-9.0</text>
<text transform="translate(2354 468.1) scale(1 1)" font-size="24" text-anchor="start" fill="#000" font-family="Liberation Sans, sans-serif">-12.0</text>
<text transform="translate(2354 546) scale(1 1)" font-size="24" text-anchor="start" fill="#000" font-family="Liberation Sans, sans-serif">-15.0</text>
<text transform="translate(2354 623.8) scale(1 1)" font-size="24" text-anchor="start" fill="#000" font-family="Liberation Sans, sans-serif">-18.0</text>
<text transform="translate(2354 701.7) scale(1 1)" font-size="24" text-anchor="start" fill="#000" font-family="Liberation Sans, sans-serif">-21.0</text>
<text transform="translate(2354 779.6) scale(1 1)" font-size="24" text-anchor="start" fill="#000" font-family="Liberation Sans, sans-serif">-24.0</text>
<text transform="translate(2354 857.4) scale(1 1)" font-size="24" text-anchor="start" fill="#000" font-family="Liberation Sans, sans-serif">-27.0</text>
<text transform="translate(2298 90.7) scale(0.98 1)" font-size="20.5" text-anchor="start" fill="#000" font-family="Liberation Sans, sans-serif">A</text>
<text transform="translate(2298 112.7) scale(0.98 1)" font-size="20.5" text-anchor="start" fill="#000" font-family="Liberation Sans, sans-serif">R</text>
<text transform="translate(2298 134.6) scale(0.98 1)" font-size="20.5" text-anchor="start" fill="#000" font-family="Liberation Sans, sans-serif">T</text>
<text transform="translate(2298 156.6) scale(0.98 1)" font-size="20.5" text-anchor="start" fill="#000" font-family="Liberation Sans, sans-serif">A</text>
<text transform="translate(348.6 356) scale(1.03 1)" font-size="16.6" text-anchor="start" fill="#000" font-family="Liberation Sans, sans-serif">0.0</text>
<text transform="translate(825.9 210.7) scale(1.03 1)" font-size="16.6" text-anchor="start" fill="#000" font-family="Liberation Sans, sans-serif">-3.0</text>
<text transform="translate(984.1 125.4) scale(1.03 1)" font-size="16.6" text-anchor="start" fill="#000" font-family="Liberation Sans, sans-serif">-6.0</text>
<text transform="translate(1137.2 111.9) scale(1.03 1)" font-size="16.6" text-anchor="start" fill="#000" font-family="Liberation Sans, sans-serif">-9.0</text>
<text transform="translate(1203.3 118) scale(1.03 1)" font-size="16.6" text-anchor="start" fill="#000" font-family="Liberation Sans, sans-serif">-12.0</text>
<text transform="translate(1721.8 160.9) scale(1.03 1)" font-size="16.6" text-anchor="start" fill="#000" font-family="Liberation Sans, sans-serif">-15.0</text>
<text transform="translate(660.6 467) scale(1.03 1)" font-size="16.6" text-anchor="start" fill="#000" font-family="Liberation Sans, sans-serif">0.0</text>
<text transform="translate(353.8 513.8) scale(1.03 1)" font-size="16.6" text-anchor="start" fill="#000" font-family="Liberation Sans, sans-serif">0.0</text>
<text transform="translate(1863.6 784.7) scale(1.03 1)" font-size="16.6" text-anchor="start" fill="#000" font-family="Liberation Sans, sans-serif">-18.0</text>
<text transform="translate(1939.7 807.5) scale(1.03 1)" font-size="16.6" text-anchor="start" fill="#000" font-family="Liberation Sans, sans-serif">-21.0</text>
<text transform="translate(2033.7 827.8) scale(1.03 1)" font-size="16.6" text-anchor="start" fill="#000" font-family="Liberation Sans, sans-serif">-24.0</text>
<text transform="translate(2113.6 808.8) scale(1.03 1)" font-size="16.6" text-anchor="start" fill="#000" font-family="Liberation Sans, sans-serif">-27.0</text>
</svg>
</body></html>
